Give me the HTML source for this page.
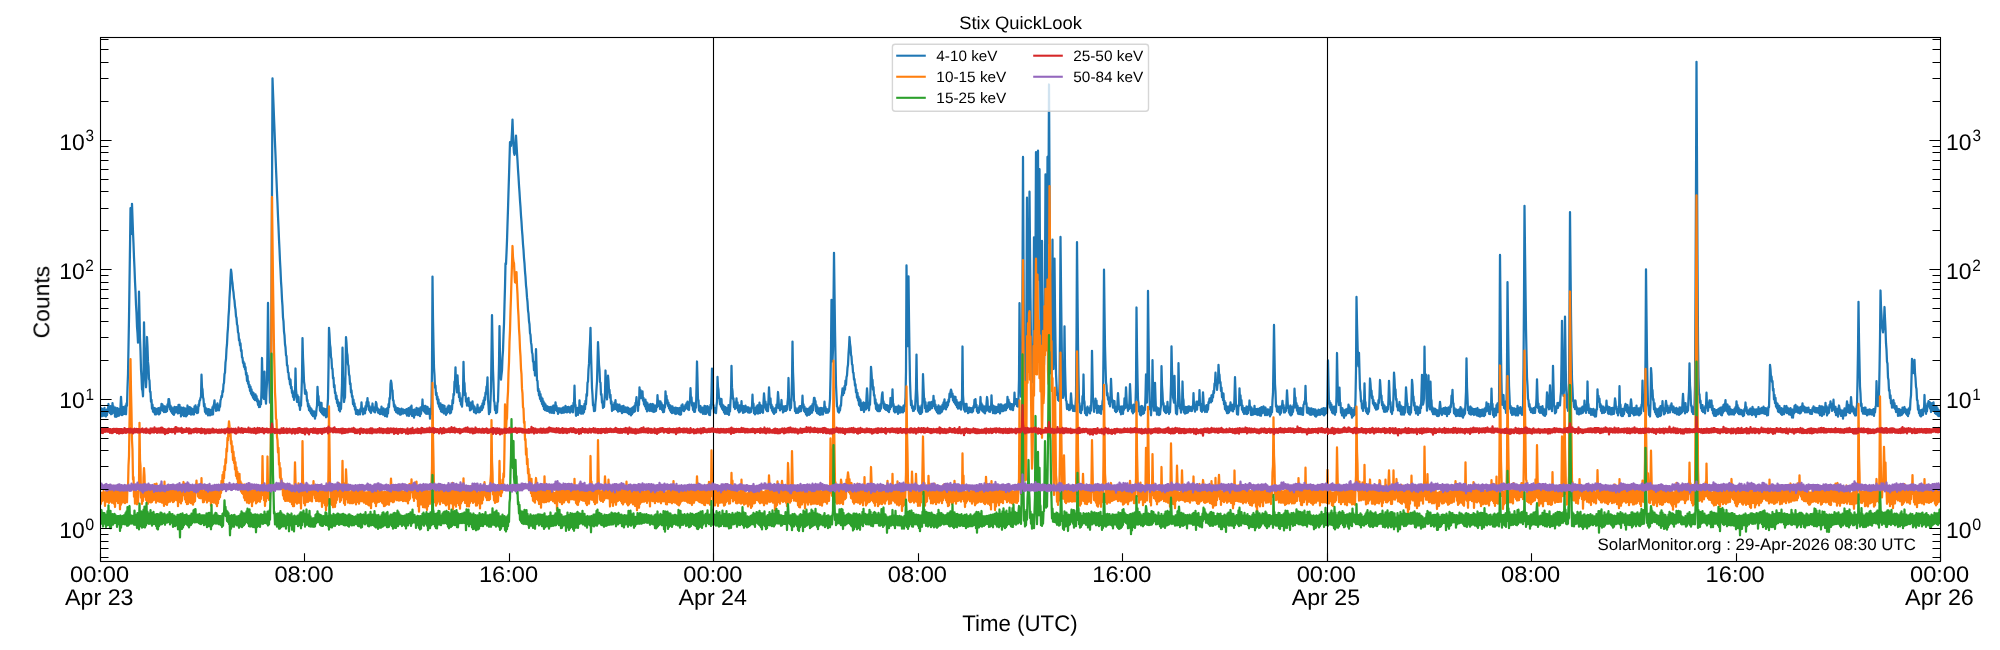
<!DOCTYPE html>
<html lang="en"><head><meta charset="utf-8"><title>Stix QuickLook</title>
<style>
html,body{margin:0;padding:0;background:#fff;}
body{width:2000px;height:650px;overflow:hidden;font-family:"Liberation Sans",sans-serif;}
svg{display:block;}
</style></head><body>
<svg width="2000" height="650" viewBox="0 0 2000 650" font-family="'Liberation Sans', sans-serif" fill="#000">
<rect width="2000" height="650" fill="#fff"/>
<defs><clipPath id="ax"><rect x="100.5" y="37.5" width="1840.0" height="524.0"/></clipPath></defs>
<g clip-path="url(#ax)" fill="none" stroke-width="2.25" stroke-linejoin="round" stroke-linecap="butt">
<path d="M100.5 408.9L101 416.3L101.5 408.4L102 416.1L102.5 409.1L103 415.7L103.5 409.3L104 415.7L104.5 407.9L105 415.8L105.5 409.9L106 416.5L106.5 409.9L107 415.1L107.5 408.9L108 409L108.5 404L109 411.7L109.5 407.7L110 413.1L110.5 406.2L111 414.3L111.5 406.4L112 413.8L112.5 403.1L113 408.8L113.5 406.3L114 412.9L114.5 407.6L115 416.7L115.5 407.6L116 416.8L116.5 409.6L117 416.1L117.5 408.1L118 416L118.5 409.8L119 415.6L119.5 409L120 414.6L120.5 406.3L121 396.8L121.5 405.1L122 415.2L122.5 408.7L123 414.3L123.5 407L124 414L124.5 407.5L125 413.8L125.5 405.7L126 414.3L126.5 403.5L127 405.7L127.5 387.6L128 374.4L128.5 346.6L129 318.4L129.5 282.4L130 247.2L130.5 208.2L131 234.2L131.5 230L132 203.8L132.5 218L133 232.2L133.5 243.7L134 257.2L134.5 268.2L135 281.5L135.5 291.3L136 304.6L136.5 313L137 326.7L137.5 333.2L138 342.6L138.5 332.2L139 291.7L139.5 314.6L140 338.2L140.5 351.2L141 369.5L141.5 376.9L142 389L142.5 390.7L143 396.3L143.5 375.9L144 322.4L144.5 344.2L145 365.9L145.5 377L146 387.3L146.5 377.1L147 337L147.5 346.8L148 361.9L148.5 366.5L149 378.9L149.5 380.5L150 391.8L150.5 391.9L151 401.8L151.5 399.9L152 408.6L152.5 404.5L153 411.6L153.5 408L154 412.4L154.5 408L155 414.3L155.5 408.6L156 414.3L156.5 409.2L157 413.7L157.5 408.6L158 413.7L158.5 408.2L159 414.5L159.5 408.6L160 413.4L160.5 407.4L161 410.5L161.5 403.8L162 409.9L162.5 404.5L163 410.9L163.5 406.2L164 412.1L164.5 406.3L165 411.9L165.5 406.7L166 412L166.5 406.8L167 411.1L167.5 404.4L168 406.7L168.5 399.1L169 399.2L169.5 402.4L170 409.4L170.5 405.6L171 411.3L171.5 407.2L172 412.9L172.5 409.4L173 414.1L173.5 408.2L174 414.8L174.5 406.8L175 412.6L175.5 407.5L176 412.4L176.5 407.2L177 411.9L177.5 407.7L178 413.5L178.5 404.9L179 412.9L179.5 404.8L180 411.8L180.5 407.3L181 416.5L181.5 407.6L182 414.5L182.5 408.4L183 415L183.5 407.7L184 416.1L184.5 408.3L185 415.3L185.5 408.5L186 416.4L186.5 409.2L187 415.5L187.5 405.5L188 413.5L188.5 407.7L189 413.8L189.5 407.2L190 413.6L190.5 407.7L191 414.6L191.5 408.3L192 413.7L192.5 409.4L193 414.4L193.5 409.2L194 414.5L194.5 406.5L195 408.2L195.5 405.4L196 411.9L196.5 407.2L197 413.1L197.5 408.4L198 412.6L198.5 404.6L199 405.9L199.5 400.8L200 400.5L200.5 397.9L201 396.7L201.5 374.7L202 387.6L202.5 389.4L203 397.2L203.5 399.1L204 406.5L204.5 403.9L205 411.9L205.5 407.5L206 413.6L206.5 408.5L207 413.7L207.5 409.8L208 415.4L208.5 409.2L209 413.9L209.5 409.5L210 415.3L210.5 410.2L211 414.7L211.5 409.7L212 414.6L212.5 407.2L213 414.4L213.5 405.5L214 404.5L214.5 400.3L215 407.8L215.5 404.6L216 410.9L216.5 405.2L217 410.4L217.5 403.3L218 408.5L218.5 405.4L219 410.4L219.5 405.8L220 406.8L220.5 400.3L221 398.8L221.5 395.9L222 397L222.5 391L223 392L223.5 384.3L224 382.8L224.5 374.2L225 372.6L225.5 362.4L226 359.2L226.5 349.1L227 344.2L227.5 333.6L228 327.7L228.5 316.5L229 309.9L229.5 297.6L230 289.4L230.5 277.9L231 269.6L231.5 273.1L232 279.8L232.5 283.2L233 289.3L233.5 292.2L234 298.1L234.5 300.6L235 306.8L235.5 309.5L236 316.3L236.5 317.8L237 324.4L237.5 325.6L238 332.5L238.5 333.1L239 340.3L239.5 339.5L240 345.4L240.5 343.4L241 351L241.5 349.9L242 357.4L242.5 357.5L243 362.8L243.5 361.5L244 366.9L244.5 363.4L245 369.3L245.5 367.2L246 374.7L246.5 372.9L247 381L247.5 375.7L248 383.8L248.5 381.3L249 387.2L249.5 384.9L250 390.9L250.5 386.6L251 393.7L251.5 389.3L252 395.4L252.5 392L253 397.7L253.5 392.9L254 399.2L254.5 395.4L255 400.2L255.5 394.4L256 399.2L256.5 396.2L257 401.4L257.5 399.2L258 404.8L258.5 400.5L259 407.1L259.5 401.7L260 406.8L260.5 401.7L261 404.2L261.5 390.3L262 358L262.5 380L263 396.6L263.5 397.9L264 398.9L264.5 371.7L265 391.9L265.5 397.9L266 403.7L266.5 391.3L267 382.6L267.5 348.1L268 302.9L268.5 339.9L269 372.1L269.5 386.3L270 402.7L270.5 397.7L271 375.3L271.5 293.4L272 189.5L272.5 78.4L273 91.7L273.5 104.2L274 117.5L274.5 129.9L275 143L275.5 155L276 168.2L276.5 180L277 192.7L277.5 203.8L278 216.4L278.5 227.2L279 239.4L279.5 249.5L280 261.1L280.5 270L281 281.3L281.5 288.5L282 299.4L282.5 306L283 317.6L283.5 321.4L284 331.7L284.5 335.3L285 344.3L285.5 347.3L286 355.2L286.5 356.1L287 365.5L287.5 365.4L288 372.5L288.5 372.5L289 379.2L289.5 378.4L290 384.5L290.5 379.7L291 388.2L291.5 386.7L292 392.8L292.5 390.5L293 396.9L293.5 392.3L294 399.9L294.5 396.5L295 396.3L295.5 368.5L296 389.7L296.5 394.3L297 401.9L297.5 395L298 401.3L298.5 396.8L299 405.7L299.5 402.8L300 409.8L300.5 402.9L301 405.6L301.5 392.9L302 376.4L302.5 338.1L303 357.5L303.5 367.7L304 381.3L304.5 384.9L305 393.8L305.5 389.8L306 391.7L306.5 392.2L307 401L307.5 400L308 406.5L308.5 403.8L309 410.2L309.5 406.1L310 411.4L310.5 407.9L311 413.4L311.5 409.2L312 414.9L312.5 410.5L313 416.1L313.5 412L314 416.3L314.5 411.5L315 418.7L315.5 412.7L316 415.7L316.5 408.8L317 405.6L317.5 386.8L318 396.9L318.5 396.2L319 405.2L319.5 402L320 410.8L320.5 405.2L321 412.1L321.5 402.8L322 413.5L322.5 408.2L323 414.5L323.5 408.5L324 415.4L324.5 408.9L325 414.8L325.5 409.4L326 417.3L326.5 409.1L327 416.7L327.5 406.1L328 398.6L328.5 368.5L329 327.8L329.5 334.9L330 344.8L330.5 347.8L331 357.1L331.5 359.1L332 368.7L332.5 368.7L333 378.4L333.5 377.5L334 387.3L334.5 385.1L335 393.2L335.5 392.5L336 399L336.5 395.5L337 403L337.5 399.7L338 406.2L338.5 402L339 410.2L339.5 403L340 411.5L340.5 404.9L341 408.9L341.5 397.1L342 384.9L342.5 347.7L343 375.5L343.5 386.1L344 402L344.5 398.7L345 397.5L345.5 373.1L346 337.1L346.5 343L347 352.5L347.5 355.3L348 364.2L348.5 365.9L349 374.5L349.5 375.9L350 384.1L350.5 383.4L351 392.5L351.5 390.3L352 396.8L352.5 395.9L353 404.2L353.5 399.6L354 406.2L354.5 403.4L355 409.7L355.5 407L356 413.9L356.5 409.5L357 413.8L357.5 410.2L358 414.6L358.5 411L359 413.9L359.5 410.1L360 414.4L360.5 408.7L361 411.3L361.5 402.3L362 410.3L362.5 408.3L363 414.3L363.5 408.8L364 413.4L364.5 408.3L365 413.4L365.5 406.1L366 410L366.5 402.2L367 404.3L367.5 398.1L368 406.2L368.5 402.2L369 410L369.5 406L370 411.6L370.5 407.4L371 413L371.5 407.3L372 408.7L372.5 403.5L373 410.4L373.5 407.4L374 411.7L374.5 407.8L375 412.4L375.5 406.2L376 402L376.5 403.7L377 410.1L377.5 408L378 412.7L378.5 409.4L379 413.1L379.5 410.1L380 414.2L380.5 409.5L381 413.8L381.5 406.6L382 413.2L382.5 408.8L383 414.7L383.5 408.3L384 414.7L384.5 410.3L385 416.2L385.5 409.4L386 415.4L386.5 408.9L387 416.7L387.5 408L388 413.4L388.5 404.2L389 407.2L389.5 398.1L390 398.6L390.5 384.2L391 380.6L391.5 383.2L392 390L392.5 390.4L393 400.3L393.5 400.4L394 406.6L394.5 404.6L395 410.1L395.5 406.4L396 412L396.5 408.6L397 412.6L397.5 408.2L398 413.5L398.5 408.5L399 413.7L399.5 409L400 414.6L400.5 409.7L401 414.5L401.5 408.7L402 413.4L402.5 409.5L403 413.6L403.5 409.5L404 412.9L404.5 410.1L405 413.1L405.5 409.8L406 413.5L406.5 409.2L407 415.7L407.5 409.6L408 414.2L408.5 408.1L409 416L409.5 409.6L410 414.2L410.5 407L411 409.3L411.5 405.7L412 415.9L412.5 409.8L413 414.9L413.5 410.5L414 417.7L414.5 409.5L415 415.2L415.5 409.6L416 414.6L416.5 407.8L417 413.6L417.5 408.5L418 415.1L418.5 408.6L419 414.7L419.5 408.6L420 416.2L420.5 407.4L421 414L421.5 407.3L422 409.3L422.5 399.5L423 410.3L423.5 405.7L424 411.4L424.5 407.3L425 412.7L425.5 405.9L426 413.6L426.5 408.2L427 413.8L427.5 406.8L428 412.9L428.5 408.4L429 414L429.5 409.2L430 418.6L430.5 409.5L431 414.2L431.5 403.6L432 368.7L432.5 276.6L433 318.4L433.5 344.8L434 367.6L434.5 375.2L435 387.6L435.5 385.7L436 395L436.5 392.9L437 399.4L437.5 396.6L438 403.7L438.5 399.4L439 406.7L439.5 403.4L440 408.8L440.5 403.3L441 411.4L441.5 405.1L442 412L442.5 405L443 412.4L443.5 405.6L444 413.5L444.5 405.9L445 413L445.5 408.9L446 414.8L446.5 409.1L447 413.4L447.5 407.1L448 408.8L448.5 405.6L449 411.9L449.5 405.9L450 413.5L450.5 408.3L451 412.6L451.5 406.1L452 409.4L452.5 400.1L453 403.1L453.5 394L454 395L454.5 381.6L455 381.4L455.5 367.3L456 386.6L456.5 386.9L457 392.4L457.5 375.3L458 385.4L458.5 385.5L459 397.1L459.5 392.8L460 401.1L460.5 398.4L461 404.7L461.5 400.5L462 406.7L462.5 397.8L463 393.5L463.5 361.8L464 381.5L464.5 383.3L465 395.3L465.5 393L466 401.6L466.5 398.9L467 405.6L467.5 400.4L468 405.2L468.5 397.8L469 406.3L469.5 402.1L470 410.4L470.5 403.1L471 409.7L471.5 402.7L472 403.7L472.5 401.3L473 408.8L473.5 405.4L474 412.1L474.5 406.5L475 412.5L475.5 408.3L476 413.4L476.5 409.3L477 412.2L477.5 404.7L478 410.3L478.5 408.1L479 412.3L479.5 408.2L480 412L480.5 407.2L481 410.3L481.5 405.9L482 409.8L482.5 403.4L483 407.8L483.5 400.3L484 404.5L484.5 397.3L485 400L485.5 392.7L486 394L486.5 386.7L487 387.1L487.5 377.4L488 399.3L488.5 405.6L489 414.2L489.5 410L490 412.1L490.5 400.7L491 387.7L491.5 353.3L492 315.1L492.5 343.1L493 369.8L493.5 382.9L494 400.9L494.5 402.5L495 410.2L495.5 406.1L496 413.2L496.5 407.3L497 412.5L497.5 402.8L498 401.4L498.5 384.2L499 363.6L499.5 326.1L500 356.9L500.5 371.2L501 379.7L501.5 374.5L502 370.4L502.5 357.4L503 350.6L503.5 335.3L504 323.7L504.5 304.4L505 287L505.5 263.5L506 264.2L506.5 253.1L507 240.6L507.5 224.2L508 209L508.5 191.9L509 176L509.5 158.8L510 142.1L510.5 145.9L511 145.9L511.5 140.1L512 131.5L512.5 119.6L513 133.8L513.5 144.6L514 152.7L514.5 154.8L515 153L515.5 146.1L516 135.6L516.5 144.3L517 153.1L517.5 160.8L518 169.6L518.5 176.8L519 185.4L519.5 192.3L520 200.6L520.5 207.2L521 215.6L521.5 221.9L522 230.3L522.5 236.2L523 244.3L523.5 249.8L524 258.1L524.5 263.3L525 271.7L525.5 276.9L526 285.3L526.5 289.7L527 297.4L527.5 301.8L528 310.3L528.5 313.7L529 321.3L529.5 324.2L530 333.1L530.5 334.8L531 342.4L531.5 345L532 352.4L532.5 353.8L533 361.7L533.5 361.6L534 370.2L534.5 367.2L535 375.5L535.5 368.7L536 349.1L536.5 365.6L537 380.5L537.5 380.7L538 391L538.5 388.9L539 395.3L539.5 391.4L540 398.8L540.5 394.1L541 401.2L541.5 397.3L542 404L542.5 398.5L543 406.2L543.5 401.3L544 409.2L544.5 403.2L545 410.1L545.5 404.4L546 410.4L546.5 406.1L547 410.9L547.5 406.3L548 410.8L548.5 407.1L549 411.5L549.5 407.5L550 412.7L550.5 407L551 411.2L551.5 407.5L552 412.9L552.5 406.4L553 412L553.5 405.5L554 413.2L554.5 405.8L555 410.1L555.5 402.4L556 407.4L556.5 406.1L557 411.1L557.5 408L558 413.9L558.5 408.3L559 412.2L559.5 408.3L560 412.3L560.5 408.7L561 412.5L561.5 409L562 413L562.5 407.9L563 412.6L563.5 407.4L564 412.7L564.5 407.5L565 411.8L565.5 405.8L566 412.1L566.5 407.3L567 412.4L567.5 407.1L568 411.7L568.5 406.8L569 411.8L569.5 407.6L570 412.6L570.5 407.1L571 411.4L571.5 405.9L572 411.6L572.5 405.9L573 412.3L573.5 402.8L574 404.6L574.5 385.7L575 403.9L575.5 405.2L576 415.8L576.5 408.4L577 413.9L577.5 407.9L578 414.8L578.5 409L579 413L579.5 400.4L580 411.5L580.5 407.6L581 413.7L581.5 406.2L582 413.5L582.5 408.6L583 413.7L583.5 406.2L584 412.3L584.5 403.8L585 409.2L585.5 400.9L586 404.3L586.5 394.2L587 395.6L587.5 382.7L588 381.5L588.5 369.3L589 363.9L589.5 350.4L590 342.9L590.5 327.8L591 353.5L591.5 369.8L592 388L592.5 394.9L593 405.4L593.5 404.6L594 411.2L594.5 407.1L595 410.8L595.5 402.5L596 397.8L596.5 388.7L597 381.6L597.5 362.9L598 342.1L598.5 352.3L599 364.6L599.5 369.9L600 382L600.5 382.6L601 394.8L601.5 394.1L602 402.6L602.5 401.3L603 408L603.5 403.2L604 407L604.5 399.2L605 393L605.5 370.5L606 388.3L606.5 391L607 399.5L607.5 390.1L608 375.6L608.5 381.2L609 390.6L609.5 389.9L610 397.8L610.5 394.8L611 403.8L611.5 401.3L612 411L612.5 404.6L613 409.8L613.5 405.3L614 409.5L614.5 402.7L615 407L615.5 400.2L616 409.1L616.5 404.9L617 410.1L617.5 404.3L618 411.7L618.5 405.5L619 410.6L619.5 404.7L620 411.2L620.5 406.5L621 411L621.5 406.3L622 413.1L622.5 406.4L623 407.4L623.5 405.9L624 412.1L624.5 408.5L625 411.8L625.5 407.4L626 412.1L626.5 408.3L627 412.4L627.5 407.5L628 413.1L628.5 408L629 414.2L629.5 409L630 414.2L630.5 408.9L631 415.3L631.5 408.3L632 414.2L632.5 407.6L633 412.6L633.5 406.8L634 411.9L634.5 405.7L635 411.3L635.5 402.9L636 402.5L636.5 397.2L637 404.9L637.5 402.7L638 410.9L638.5 403.2L639 405L639.5 387.4L640 396.2L640.5 390L641 398.1L641.5 392.3L642 397L642.5 391.3L643 400.7L643.5 397.9L644 404.5L644.5 400.7L645 406.3L645.5 399.7L646 409L646.5 402L647 411.4L647.5 403L648 409.5L648.5 405L649 410.5L649.5 405L650 411L650.5 404L651 410.5L651.5 405.5L652 411.2L652.5 404L653 411.6L653.5 404.5L654 412L654.5 406.6L655 411.4L655.5 405.7L656 411L656.5 405.2L657 407.1L657.5 395.2L658 403.9L658.5 400.5L659 406.2L659.5 403.3L660 409L660.5 401.4L661 408.4L661.5 403L662 409.9L662.5 404.9L663 412.2L663.5 405.9L664 412L664.5 405.4L665 407.4L665.5 391.3L666 399.2L666.5 395.8L667 403.4L667.5 400.2L668 405.8L668.5 402.6L669 408.3L669.5 404.8L670 410.5L670.5 405.6L671 412.2L671.5 407.1L672 413.2L672.5 406.3L673 412.7L673.5 408.9L674 412.5L674.5 408L675 413.7L675.5 407.6L676 414L676.5 408L677 413.3L677.5 408.2L678 413.1L678.5 409L679 414.1L679.5 407.9L680 414.7L680.5 408.1L681 414.5L681.5 405.4L682 408.6L682.5 404.4L683 410.4L683.5 406.4L684 411.1L684.5 407.1L685 409.7L685.5 404.9L686 406.2L686.5 403.1L687 408.4L687.5 401.6L688 409.4L688.5 404.4L689 410L689.5 403.5L690 400.5L690.5 388.2L691 400.7L691.5 397.4L692 405.6L692.5 402.5L693 409.9L693.5 403.3L694 411.8L694.5 405.2L695 411.8L695.5 402.7L696 407.7L696.5 386.9L697 361.5L697.5 379.9L698 399.4L698.5 400.3L699 410.5L699.5 405.9L700 411.6L700.5 406L701 412.4L701.5 407.8L702 412.2L702.5 407.7L703 413.9L703.5 408.3L704 413.1L704.5 405.8L705 414L705.5 406.4L706 413.8L706.5 406.9L707 411.9L707.5 406.1L708 412.5L708.5 407.5L709 414.6L709.5 407.1L710 415.1L710.5 404.8L711 408.7L711.5 393.1L712 368.6L712.5 389.1L713 404.5L713.5 405.2L714 412.4L714.5 407.8L715 412.4L715.5 408.9L716 413.1L716.5 405.8L717 401.6L717.5 376.9L718 387L718.5 389.7L719 398.3L719.5 398.2L720 404.4L720.5 402.5L721 406.7L721.5 399L722 408.8L722.5 404.5L723 410.2L723.5 405.5L724 412.3L724.5 406.7L725 413.8L725.5 407.1L726 413.2L726.5 408L727 413.8L727.5 408L728 414L728.5 405.2L729 415L729.5 407.5L730 411.4L730.5 401L731 394.9L731.5 365.8L732 387.4L732.5 391.2L733 399L733.5 398.4L734 407.2L734.5 403.7L735 409L735.5 402.4L736 405L736.5 398.3L737 407.9L737.5 402.3L738 410.5L738.5 405.8L739 412.4L739.5 405.3L740 411.6L740.5 406.6L741 410.5L741.5 401.2L742 409.4L742.5 406.6L743 412.8L743.5 406.1L744 412.3L744.5 406.8L745 412L745.5 405.7L746 411.2L746.5 407.1L747 411.2L747.5 407.3L748 412.4L748.5 407.4L749 412.6L749.5 408.4L750 412.5L750.5 408.6L751 411.9L751.5 407.4L752 406.5L752.5 394.7L753 407.6L753.5 403.7L754 413.1L754.5 407.8L755 414.3L755.5 408.4L756 413.2L756.5 406.3L757 413L757.5 405.4L758 413.7L758.5 405.1L759 410.1L759.5 402.7L760 413.1L760.5 404.9L761 411.4L761.5 405.9L762 412L762.5 406.2L763 412.8L763.5 401.9L764 393.3L764.5 399L765 407.4L765.5 401.7L766 409.8L766.5 404.4L767 411.1L767.5 405.5L768 411.2L768.5 399.5L769 387.4L769.5 396.7L770 404.2L770.5 398.4L771 407.9L771.5 404.7L772 410.7L772.5 406.6L773 412.5L773.5 408.5L774 413.9L774.5 408.8L775 412.6L775.5 408L776 412.2L776.5 404.6L777 408L777.5 401.5L778 392L778.5 398.4L779 408.1L779.5 406.4L780 410.3L780.5 404.6L781 407L781.5 400L782 409.2L782.5 406.9L783 412.5L783.5 406.4L784 411.4L784.5 406.5L785 411L785.5 406.1L786 410.8L786.5 406.5L787 409.7L787.5 402.5L788 398.2L788.5 378L789 398.2L789.5 401.9L790 410.2L790.5 405.7L791 407.9L791.5 396.3L792 380.8L792.5 341.6L793 371.2L793.5 384.1L794 400.7L794.5 402L795 411.2L795.5 407.7L796 413L796.5 409.1L797 412.6L797.5 409.3L798 412.9L798.5 408L799 411.8L799.5 406.3L800 411.3L800.5 406.2L801 411.1L801.5 406.1L802 407.5L802.5 395.7L803 406.7L803.5 404.3L804 411L804.5 406.7L805 412.2L805.5 408.7L806 414.3L806.5 408.6L807 415.6L807.5 409.4L808 414.7L808.5 409L809 414.9L809.5 407.6L810 414.2L810.5 406.6L811 413L811.5 405.8L812 412.7L812.5 404.2L813 410.4L813.5 403.1L814 397.8L814.5 397.9L815 401.1L815.5 401.1L816 411.1L816.5 405.1L817 413L817.5 407.2L818 413.5L818.5 408.4L819 414.1L819.5 408.5L820 414.9L820.5 408L821 414L821.5 408L822 414.5L822.5 408.5L823 414.3L823.5 408.1L824 411.1L824.5 401.7L825 410.2L825.5 407.2L826 412.9L826.5 408.8L827 412.7L827.5 409.4L828 412.6L828.5 409.5L829 411.5L829.5 405.5L830 399L830.5 377.2L831 348.6L831.5 299.8L832 345.4L832.5 361.3L833 349.7L833.5 304.7L834 252.8L834.5 291.6L835 329.8L835.5 357.7L836 384.5L836.5 395.7L837 406.6L837.5 406.9L838 411.6L838.5 408.6L839 412.5L839.5 408.4L840 410.3L840.5 405.4L841 405.8L841.5 396.9L842 394.1L842.5 388.5L843 395.1L843.5 388.5L844 393.1L844.5 386.1L845 389.6L845.5 380.6L846 384.9L846.5 377.1L847 375.4L847.5 367.8L848 364.7L848.5 354.2L849 347.4L849.5 337L850 343.6L850.5 346.8L851 354.9L851.5 356.5L852 364.3L852.5 365L853 372.4L853.5 372.9L854 379.6L854.5 379.1L855 385.7L855.5 384.4L856 392.4L856.5 389.6L857 397.7L857.5 392.8L858 400.5L858.5 396.5L859 404.9L859.5 398.7L860 406.1L860.5 400.2L861 410L861.5 403L862 409.8L862.5 403.4L863 409.5L863.5 402.4L864 412L864.5 403.2L865 409.3L865.5 402.8L866 409.5L866.5 397L867 388.3L867.5 395.8L868 408L868.5 403.2L869 410.3L869.5 402.6L870 404.8L870.5 389.3L871 366.9L871.5 373L872 380.7L872.5 379.8L873 389.6L873.5 387L874 395.6L874.5 395.1L875 403.8L875.5 399.3L876 408.9L876.5 403.1L877 410.4L877.5 404.5L878 411.2L878.5 405.6L879 411.1L879.5 405.5L880 411L880.5 404.2L881 408.7L881.5 400.7L882 394.8L882.5 392.3L883 402.9L883.5 401.4L884 407.8L884.5 403.6L885 409.1L885.5 404.9L886 409.9L886.5 405.1L887 410.1L887.5 405.3L888 411.2L888.5 406.8L889 412.1L889.5 405.6L890 409.2L890.5 398L891 407.1L891.5 402.6L892 405.6L892.5 389.3L893 403.7L893.5 404L894 411.3L894.5 406.3L895 412.5L895.5 407.8L896 411.3L896.5 406.8L897 411.9L897.5 406.9L898 413.9L898.5 405.7L899 412.3L899.5 406.6L900 412.6L900.5 406.8L901 412.2L901.5 408.2L902 412.1L902.5 407.5L903 412.3L903.5 405.6L904 411.1L904.5 405.4L905 406.5L905.5 397.5L906 371.2L906.5 265.4L907 308.3L907.5 339.9L908 346.1L908.5 276.3L909 319L909.5 352L910 381.3L910.5 394.5L911 405.2L911.5 400.7L912 408L912.5 405.6L913 411L913.5 406.9L914 410.7L914.5 406.8L915 409L915.5 399.4L916 388.8L916.5 354.6L917 389L917.5 397.9L918 410.8L918.5 405.8L919 412.7L919.5 407.3L920 414L920.5 407.8L921 413.8L921.5 405.5L922 412.5L922.5 400.6L923 374.2L923.5 386.7L924 398.1L924.5 398.4L925 408.2L925.5 402.2L926 411.7L926.5 405.5L927 411.7L927.5 406.5L928 411.3L928.5 402.7L929 410.1L929.5 402.4L930 409.6L930.5 403.1L931 408.3L931.5 401.9L932 408.1L932.5 402.1L933 405.9L933.5 395.9L934 404.8L934.5 400.4L935 408.6L935.5 404.7L936 410.4L936.5 406.8L937 412.2L937.5 407.1L938 413.3L938.5 405.4L939 413.4L939.5 406.8L940 413.4L940.5 406.7L941 412.5L941.5 406.4L942 411.7L942.5 404.7L943 409.5L943.5 402.5L944 404L944.5 399.4L945 408.6L945.5 403L946 409.4L946.5 402.9L947 407.1L947.5 402L948 405.5L948.5 399.6L949 401.6L949.5 393.7L950 397.1L950.5 391.7L951 389.6L951.5 391.3L952 396.9L952.5 393.6L953 400.3L953.5 396.1L954 402.2L954.5 396.8L955 403.7L955.5 396.8L956 405.1L956.5 399.9L957 407.2L957.5 402.1L958 408.7L958.5 403.3L959 408.2L959.5 402.6L960 408.4L960.5 402.2L961 409.6L961.5 402.9L962 398.6L962.5 346.5L963 394.8L963.5 402.3L964 409.8L964.5 403.5L965 411.7L965.5 405.2L966 410L966.5 403.8L967 411.1L967.5 407.4L968 413.2L968.5 408.2L969 412.3L969.5 407.7L970 411.9L970.5 408.2L971 412.1L971.5 408.5L972 412.3L972.5 407.9L973 411.4L973.5 406.1L974 407.6L974.5 399.9L975 405.2L975.5 399.2L976 407.3L976.5 404.9L977 411.4L977.5 407.9L978 412.9L978.5 407.7L979 412.5L979.5 406L980 408L980.5 397L981 409.4L981.5 403.4L982 410.7L982.5 405.1L983 411.6L983.5 406.3L984 412.5L984.5 406.6L985 413.4L985.5 406.4L986 410.9L986.5 403.5L987 397L987.5 400.4L988 410.4L988.5 406.6L989 411.5L989.5 407.1L990 411.8L990.5 406.4L991 409.7L991.5 395.3L992 406.3L992.5 405.1L993 413.2L993.5 405.9L994 411.7L994.5 406.7L995 413.3L995.5 406.9L996 413.1L996.5 407L997 412.1L997.5 407L998 411.9L998.5 404.3L999 412L999.5 405.6L1000 413.5L1000.5 404.4L1001 410.9L1001.5 404.5L1002 411.1L1002.5 405.6L1003 411.1L1003.5 405.8L1004 410.1L1004.5 404.9L1005 410.5L1005.5 404.4L1006 410.2L1006.5 404.9L1007 408.2L1007.5 396.8L1008 405.3L1008.5 399.5L1009 406.8L1009.5 402.3L1010 409L1010.5 403.9L1011 409.5L1011.5 404.1L1012 409.4L1012.5 404.7L1013 410.1L1013.5 403.9L1014 405.8L1014.5 392.7L1015 404L1015.5 398.8L1016 402.8L1016.5 399.1L1017 406.1L1017.5 400.9L1018 406.6L1018.5 398.6L1019 379.3L1019.5 303.2L1020 349.7L1020.5 377L1021 396.6L1021.5 394.9L1022 376.5L1022.5 283.7L1023 156.9L1023.5 263.6L1024 351.3L1024.5 380.5L1025 391.5L1025.5 385.6L1026 370.3L1026.5 298.8L1027 197.7L1027.5 297.3L1028 367.1L1028.5 360.3L1029 295.6L1029.5 191.7L1030 248.8L1030.5 298.1L1031 342.9L1031.5 365L1032 382.2L1032.5 381.4L1033 376.5L1033.5 327.8L1034 237.3L1034.5 323.9L1035 336.7L1035.5 257.2L1036 152.1L1036.5 256.3L1037 316L1037.5 255.1L1038 150.7L1038.5 253.5L1039 279.7L1039.5 169.2L1040 259.1L1040.5 324L1041 349.9L1041.5 321L1042 240.9L1042.5 321.3L1043 357.8L1043.5 363.2L1044 364.8L1044.5 342.2L1045 276.8L1045.5 174.4L1046 276.5L1046.5 322.6L1047 262.3L1047.5 156.9L1048 243L1048.5 192.1L1049 84.5L1049.5 178.8L1050 269L1050.5 335.9L1051 373.4L1051.5 370.2L1052 330.5L1052.5 239.7L1053 332.1L1053.5 369L1054 344.9L1054.5 258.6L1055 309.8L1055.5 344L1056 373.5L1056.5 384.3L1057 395.3L1057.5 393.5L1058 400L1058.5 397.1L1059 400.8L1059.5 383.9L1060 334.5L1060.5 236.9L1061 286.2L1061.5 327.5L1062 365.2L1062.5 383.1L1063 397.9L1063.5 396L1064 384.1L1064.5 326.3L1065 366.1L1065.5 385.6L1066 400.4L1066.5 401.1L1067 409L1067.5 404.1L1068 409L1068.5 405.2L1069 410.1L1069.5 405.5L1070 409.7L1070.5 402.3L1071 393.3L1071.5 400.5L1072 407.9L1072.5 405L1073 410.9L1073.5 406L1074 410.9L1074.5 407.3L1075 411.1L1075.5 404.7L1076 396.8L1076.5 337.8L1077 242.2L1077.5 295.9L1078 345.1L1078.5 376.2L1079 401.8L1079.5 403.6L1080 412.3L1080.5 406.6L1081 413.2L1081.5 406.5L1082 409.9L1082.5 396.2L1083 402.9L1083.5 374.5L1084 400L1084.5 402.1L1085 413.2L1085.5 408L1086 414.9L1086.5 408.8L1087 415.3L1087.5 406.6L1088 411.4L1088.5 408L1089 412.3L1089.5 408.2L1090 413.3L1090.5 406L1091 410.7L1091.5 394L1092 350.8L1092.5 377.6L1093 400.5L1093.5 401.1L1094 411.8L1094.5 404.4L1095 406.8L1095.5 398.6L1096 408L1096.5 400.6L1097 412.9L1097.5 405.5L1098 411.3L1098.5 406L1099 412.6L1099.5 407.2L1100 412.8L1100.5 406.2L1101 413.8L1101.5 406.6L1102 409.4L1102.5 401.6L1103 399.2L1103.5 352L1104 269.7L1104.5 310.9L1105 346.2L1105.5 365.5L1106 382.2L1106.5 385.4L1107 395.5L1107.5 393L1108 399.6L1108.5 397.3L1109 403.9L1109.5 398.2L1110 406.4L1110.5 397L1111 378.9L1111.5 390.3L1112 401.8L1112.5 400.1L1113 407.6L1113.5 400.9L1114 403.6L1114.5 401.1L1115 411L1115.5 406.7L1116 412.1L1116.5 407.3L1117 411.2L1117.5 402.3L1118 393.1L1118.5 401.1L1119 409.2L1119.5 406.5L1120 412L1120.5 407L1121 414.3L1121.5 406.5L1122 412.2L1122.5 407.5L1123 413.9L1123.5 405.8L1124 409.8L1124.5 398.4L1125 408.1L1125.5 400.1L1126 387.4L1126.5 397.2L1127 407.6L1127.5 405.5L1128 411L1128.5 405.3L1129 409.2L1129.5 399.8L1130 384.1L1130.5 394.5L1131 408.3L1131.5 405.3L1132 411.6L1132.5 407.9L1133 413.3L1133.5 404.6L1134 411.8L1134.5 405.7L1135 411L1135.5 404.4L1136 384.9L1136.5 307.5L1137 350.5L1137.5 377.8L1138 399.6L1138.5 402.9L1139 411.4L1139.5 407L1140 414.6L1140.5 406.8L1141 415.5L1141.5 406L1142 412.7L1142.5 406.4L1143 414L1143.5 407.8L1144 413.1L1144.5 407.9L1145 410L1145.5 395.5L1146 374.5L1146.5 391.6L1147 402.6L1147.5 370.4L1148 290.9L1148.5 333.9L1149 372.5L1149.5 391.3L1150 409.4L1150.5 406.7L1151 415.3L1151.5 407.1L1152 405.4L1152.5 360.2L1153 388.5L1153.5 399.3L1154 410.7L1154.5 404.1L1155 382.9L1155.5 397.6L1156 410.9L1156.5 406.8L1157 414.7L1157.5 408.1L1158 414.3L1158.5 408.4L1159 415.1L1159.5 409.5L1160 414.3L1160.5 409.4L1161 405.8L1161.5 366.2L1162 385.4L1162.5 393.3L1163 404.5L1163.5 403.1L1164 410.8L1164.5 407.1L1165 412.1L1165.5 406.3L1166 413.1L1166.5 407.2L1167 411.9L1167.5 401.9L1168 411.7L1168.5 408.4L1169 413.8L1169.5 407.3L1170 412.3L1170.5 399.6L1171 384.7L1171.5 346.3L1172 369.9L1172.5 381.8L1173 397.4L1173.5 399.5L1174 402.6L1174.5 375.8L1175 398.4L1175.5 402.8L1176 413.4L1176.5 408.1L1177 414.3L1177.5 405.9L1178 406.2L1178.5 363.2L1179 387.3L1179.5 396.8L1180 408.4L1180.5 407.1L1181 412.6L1181.5 407L1182 409.5L1182.5 381.5L1183 398L1183.5 400.3L1184 412.5L1184.5 407.1L1185 413.7L1185.5 406.9L1186 413.1L1186.5 407.5L1187 412.9L1187.5 407L1188 412.3L1188.5 406.5L1189 410.9L1189.5 406.5L1190 410.7L1190.5 407.1L1191 410.8L1191.5 407.8L1192 411L1192.5 406.2L1193 408.5L1193.5 393.2L1194 406.4L1194.5 406L1195 411.6L1195.5 404.9L1196 405.9L1196.5 401.7L1197 409.7L1197.5 402.9L1198 405.2L1198.5 401.2L1199 404.9L1199.5 390.1L1200 404.2L1200.5 403.8L1201 410.8L1201.5 406.4L1202 411.8L1202.5 402.8L1203 392.3L1203.5 400.3L1204 410.2L1204.5 406L1205 412L1205.5 407.3L1206 411.2L1206.5 405.1L1207 412L1207.5 405.6L1208 409.7L1208.5 402.2L1209 403L1209.5 398.7L1210 400.2L1210.5 397.9L1211 402.3L1211.5 395.3L1212 401.2L1212.5 394.6L1213 397.5L1213.5 391L1214 393L1214.5 383.6L1215 383.5L1215.5 372.7L1216 382.9L1216.5 383.1L1217 389.8L1217.5 384.7L1218 382.4L1218.5 364.8L1219 373.6L1219.5 374.7L1220 383L1220.5 381.9L1221 391L1221.5 387.5L1222 397.1L1222.5 393L1223 400.1L1223.5 393.7L1224 404.3L1224.5 400.9L1225 409.1L1225.5 402.6L1226 410.7L1226.5 405.9L1227 413.1L1227.5 408.1L1228 413.1L1228.5 406.9L1229 412.5L1229.5 405.6L1230 408.9L1230.5 402.3L1231 410.4L1231.5 404.5L1232 410.7L1232.5 406.5L1233 411.4L1233.5 404.3L1234 409.2L1234.5 395.7L1235 377.2L1235.5 391.4L1236 406.2L1236.5 405.4L1237 414.2L1237.5 407.7L1238 414.7L1238.5 405.4L1239 406L1239.5 388.4L1240 400.3L1240.5 395.3L1241 405.1L1241.5 400.2L1242 409.8L1242.5 405.5L1243 412L1243.5 408.1L1244 413.9L1244.5 408.2L1245 413.6L1245.5 409L1246 413.5L1246.5 406.5L1247 414.1L1247.5 407.4L1248 413.2L1248.5 406.5L1249 409.8L1249.5 400.5L1250 408.8L1250.5 406.7L1251 414.9L1251.5 407.5L1252 415L1252.5 409.5L1253 414.6L1253.5 409.2L1254 414.1L1254.5 405.8L1255 413.8L1255.5 408.9L1256 414.2L1256.5 409.2L1257 414.7L1257.5 408.8L1258 415L1258.5 409.4L1259 414.4L1259.5 408.3L1260 415.5L1260.5 408L1261 415.8L1261.5 407.1L1262 413.5L1262.5 408.2L1263 412.2L1263.5 406.3L1264 412.9L1264.5 408.3L1265 415.2L1265.5 407.5L1266 414.4L1266.5 409.5L1267 415.2L1267.5 409.3L1268 414.5L1268.5 409.7L1269 414.7L1269.5 409.6L1270 416.4L1270.5 407.1L1271 414.7L1271.5 407.7L1272 412.3L1272.5 400.2L1273 393.2L1273.5 361L1274 324.9L1274.5 355.8L1275 384L1275.5 391.9L1276 406.6L1276.5 405.4L1277 411.4L1277.5 406.4L1278 411.8L1278.5 407.3L1279 412.5L1279.5 406.6L1280 414.7L1280.5 408.2L1281 412.8L1281.5 405.9L1282 406.3L1282.5 400.8L1283 407.8L1283.5 405.2L1284 412.5L1284.5 407.7L1285 412.4L1285.5 408.4L1286 411L1286.5 402.4L1287 390.3L1287.5 398.7L1288 408L1288.5 406.4L1289 412.6L1289.5 408.3L1290 414.6L1290.5 405.5L1291 415.5L1291.5 409.7L1292 414.3L1292.5 407L1293 412L1293.5 405.2L1294 407.8L1294.5 388.7L1295 399.3L1295.5 397.6L1296 407.6L1296.5 403.2L1297 410.7L1297.5 405.6L1298 413.6L1298.5 407.7L1299 414L1299.5 409.3L1300 414.2L1300.5 407.8L1301 414.1L1301.5 409L1302 414.5L1302.5 408.2L1303 414.9L1303.5 404.8L1304 404.1L1304.5 401.3L1305 403.7L1305.5 385.9L1306 401.9L1306.5 403.3L1307 412.6L1307.5 407.5L1308 413.1L1308.5 407.9L1309 413.6L1309.5 408.6L1310 414.6L1310.5 408.7L1311 414.9L1311.5 408.4L1312 413.7L1312.5 409.9L1313 414.4L1313.5 409.2L1314 413.8L1314.5 409.7L1315 416L1315.5 409.5L1316 416.7L1316.5 410.6L1317 415.5L1317.5 410.8L1318 415L1318.5 409.7L1319 414.3L1319.5 410.2L1320 414.9L1320.5 409.9L1321 414.1L1321.5 408.8L1322 413.3L1322.5 409L1323 414.4L1323.5 408.2L1324 415.3L1324.5 408.6L1325 414.3L1325.5 408.5L1326 413L1326.5 408.1L1327 413.1L1327.5 398.5L1328 360.4L1328.5 384.1L1329 403.4L1329.5 400.9L1330 407.6L1330.5 402.8L1331 409.9L1331.5 404.7L1332 412.5L1332.5 407.2L1333 413.4L1333.5 406.8L1334 413.5L1334.5 406.6L1335 414.8L1335.5 406.6L1336 412.1L1336.5 395.5L1337 353L1337.5 379.2L1338 400.3L1338.5 401.1L1339 405L1339.5 387.6L1340 403.7L1340.5 402.8L1341 412.8L1341.5 407.8L1342 415.4L1342.5 408.4L1343 415.7L1343.5 410L1344 417.8L1344.5 411.2L1345 415.6L1345.5 409.6L1346 415.3L1346.5 409.5L1347 413.3L1347.5 408.6L1348 413.1L1348.5 404.6L1349 410.3L1349.5 406.4L1350 413L1350.5 408.4L1351 414.3L1351.5 408.1L1352 417.7L1352.5 410L1353 416.1L1353.5 409.9L1354 415.3L1354.5 407.8L1355 414.5L1355.5 398.1L1356 370.2L1356.5 296.9L1357 323.1L1357.5 342L1358 362.8L1358.5 366.4L1359 352.9L1359.5 371.7L1360 388.6L1360.5 392.1L1361 401.5L1361.5 400.3L1362 408.5L1362.5 404.2L1363 410.8L1363.5 403.7L1364 407.7L1364.5 383.4L1365 401.1L1365.5 402.5L1366 411.5L1366.5 407.9L1367 413.2L1367.5 410L1368 414L1368.5 409.2L1369 411.7L1369.5 398.4L1370 378.5L1370.5 383.5L1371 391.7L1371.5 390.6L1372 398.3L1372.5 396.4L1373 403.7L1373.5 400.2L1374 405.5L1374.5 402.8L1375 407.9L1375.5 403.4L1376 409.7L1376.5 405L1377 409.4L1377.5 404.9L1378 408.6L1378.5 400.1L1379 402.9L1379.5 394.9L1380 380L1380.5 387.1L1381 397.3L1381.5 395.6L1382 405.2L1382.5 401.9L1383 408.6L1383.5 404.4L1384 411.6L1384.5 405.6L1385 411.8L1385.5 407.7L1386 411.4L1386.5 407.4L1387 411.4L1387.5 406.9L1388 409.5L1388.5 398.8L1389 380.8L1389.5 391.8L1390 404L1390.5 402.2L1391 412L1391.5 407.5L1392 414L1392.5 407.3L1393 410.4L1393.5 395.2L1394 372.7L1394.5 379.3L1395 390.3L1395.5 389.3L1396 399.8L1396.5 398.7L1397 406.8L1397.5 404.5L1398 410.4L1398.5 404.9L1399 407L1399.5 402L1400 411.1L1400.5 405.4L1401 414.4L1401.5 406.4L1402 414.6L1402.5 408.7L1403 413.7L1403.5 407.1L1404 414.6L1404.5 409.3L1405 412.6L1405.5 402.2L1406 387.3L1406.5 394.8L1407 402.5L1407.5 403.7L1408 412.4L1408.5 406.9L1409 414L1409.5 409.6L1410 414.7L1410.5 407L1411 412.6L1411.5 398.2L1412 379.8L1412.5 384.9L1413 395.8L1413.5 396.6L1414 405.7L1414.5 402.6L1415 410.2L1415.5 406.5L1416 413.5L1416.5 406.6L1417 412.5L1417.5 406.8L1418 414.9L1418.5 407.6L1419 413L1419.5 408L1420 413L1420.5 405.2L1421 408.1L1421.5 391.9L1422 374.8L1422.5 390.2L1423 404.6L1423.5 402.4L1424 398.8L1424.5 346.7L1425 381.2L1425.5 386.8L1426 374.6L1426.5 395.3L1427 410.6L1427.5 405.3L1428 406.5L1428.5 375.3L1429 402.3L1429.5 405.9L1430 409.4L1430.5 381.7L1431 398.7L1431.5 400.5L1432 411.6L1432.5 407.4L1433 414.1L1433.5 409L1434 414.2L1434.5 408.6L1435 414.1L1435.5 409L1436 414.5L1436.5 410.1L1437 415.8L1437.5 410.4L1438 416.2L1438.5 411.1L1439 415.7L1439.5 407.6L1440 401.8L1440.5 406.5L1441 413.3L1441.5 409.6L1442 415L1442.5 408.9L1443 413.2L1443.5 408.2L1444 413.3L1444.5 408.4L1445 413.8L1445.5 407.5L1446 412.8L1446.5 408.1L1447 416.2L1447.5 409.1L1448 413.9L1448.5 407.3L1449 413.9L1449.5 408.3L1450 412.2L1450.5 405.4L1451 407L1451.5 395.7L1452 398.8L1452.5 389.8L1453 403L1453.5 403.2L1454 413.3L1454.5 408.2L1455 414.3L1455.5 409.9L1456 416.2L1456.5 409.5L1457 415.8L1457.5 410.3L1458 415.2L1458.5 409.8L1459 415.9L1459.5 409.2L1460 416.1L1460.5 407.1L1461 414.9L1461.5 408.3L1462 416.4L1462.5 410.8L1463 417.7L1463.5 410.1L1464 415.5L1464.5 408.6L1465 413.8L1465.5 402.6L1466 391.7L1466.5 358.3L1467 386.8L1467.5 397.8L1468 410.2L1468.5 407.2L1469 413.3L1469.5 408L1470 414.2L1470.5 406.5L1471 414.7L1471.5 407.6L1472 414.2L1472.5 408.7L1473 413.1L1473.5 409.1L1474 415L1474.5 409.1L1475 413.1L1475.5 408.8L1476 414.6L1476.5 409.7L1477 415.5L1477.5 408L1478 415.8L1478.5 409.6L1479 416.2L1479.5 409.9L1480 416.7L1480.5 410.3L1481 415.3L1481.5 410L1482 416L1482.5 409.5L1483 415.3L1483.5 409.7L1484 416.2L1484.5 408.6L1485 415.1L1485.5 407.7L1486 411.7L1486.5 402.4L1487 410.5L1487.5 404.8L1488 411L1488.5 403.9L1489 413.8L1489.5 407.2L1490 414.1L1490.5 406.6L1491 409.4L1491.5 388.6L1492 405.2L1492.5 403.8L1493 415L1493.5 408.7L1494 417L1494.5 410.2L1495 414.8L1495.5 408.3L1496 415.5L1496.5 405.1L1497 405.7L1497.5 403.4L1498 412.1L1498.5 405.1L1499 403L1499.5 348.8L1500 254.9L1500.5 307.2L1501 355.5L1501.5 382.9L1502 404.8L1502.5 401.9L1503 402.4L1503.5 395L1504 408L1504.5 401.5L1505 408.8L1505.5 404.1L1506 412.9L1506.5 400.4L1507 368.5L1507.5 282.2L1508 324.7L1508.5 356L1509 385.5L1509.5 396.5L1510 408.7L1510.5 405.8L1511 412.8L1511.5 407.4L1512 414.8L1512.5 408.1L1513 414.5L1513.5 408.6L1514 414.5L1514.5 408.3L1515 414.7L1515.5 409.1L1516 415.5L1516.5 409L1517 414.4L1517.5 405.8L1518 415.5L1518.5 407.7L1519 412.7L1519.5 408.7L1520 413.1L1520.5 407.1L1521 413.5L1521.5 408.7L1522 414.8L1522.5 408.8L1523 407.6L1523.5 367.7L1524 297.2L1524.5 205.8L1525 250.4L1525.5 289.7L1526 328.5L1526.5 353.8L1527 377.3L1527.5 385.7L1528 398.9L1528.5 400.4L1529 406.6L1529.5 404.2L1530 409.9L1530.5 407.6L1531 412.1L1531.5 408.8L1532 412.4L1532.5 409L1533 413.1L1533.5 408.1L1534 412.9L1534.5 407.8L1535 412.8L1535.5 406.6L1536 407.2L1536.5 398.4L1537 379.4L1537.5 394.9L1538 408L1538.5 403.6L1539 411.8L1539.5 407.9L1540 412.8L1540.5 406.9L1541 412.7L1541.5 407.4L1542 413L1542.5 406.2L1543 414.5L1543.5 408.7L1544 415.4L1544.5 409.9L1545 415.9L1545.5 409.4L1546 414.5L1546.5 403.5L1547 392.4L1547.5 396.7L1548 407.3L1548.5 403.1L1549 409.3L1549.5 397.9L1550 385.4L1550.5 396.7L1551 408.8L1551.5 404.6L1552 411.2L1552.5 397.9L1553 365.8L1553.5 385.6L1554 405.3L1554.5 406L1555 413.4L1555.5 408.8L1556 412.3L1556.5 406.3L1557 407.1L1557.5 403L1558 408L1558.5 403.1L1559 404.2L1559.5 402.5L1560 405.4L1560.5 396.7L1561 392.2L1561.5 362.3L1562 320.8L1562.5 362.4L1563 392.5L1563.5 395.9L1564 390.5L1564.5 359.3L1565 316.6L1565.5 351.8L1566 383.6L1566.5 395.2L1567 407.7L1567.5 406L1568 410.8L1568.5 402.6L1569 383.5L1569.5 311.3L1570 212.2L1570.5 266.1L1571 315.8L1571.5 351.6L1572 379.3L1572.5 388.9L1573 401L1573.5 400L1574 407.2L1574.5 403.3L1575 409.1L1575.5 400.5L1576 406.5L1576.5 406.4L1577 413.6L1577.5 408.2L1578 413.8L1578.5 408.9L1579 414.5L1579.5 408.5L1580 413.7L1580.5 408.6L1581 413.7L1581.5 407.7L1582 413.1L1582.5 406.7L1583 412.7L1583.5 407.5L1584 410.8L1584.5 400.6L1585 408.1L1585.5 405L1586 412.9L1586.5 406.9L1587 410L1587.5 381.5L1588 402.7L1588.5 404.5L1589 412.9L1589.5 408.6L1590 413L1590.5 408.9L1591 414.9L1591.5 409.3L1592 413.4L1592.5 409.3L1593 414.8L1593.5 408.9L1594 415.5L1594.5 410.1L1595 416.6L1595.5 410.9L1596 416.3L1596.5 409.1L1597 409.4L1597.5 389.3L1598 400.6L1598.5 395.9L1599 401.6L1599.5 398.7L1600 407.2L1600.5 404L1601 410.9L1601.5 405.7L1602 413.2L1602.5 406.8L1603 412L1603.5 406.7L1604 412.8L1604.5 408L1605 412L1605.5 407.8L1606 409.7L1606.5 400.7L1607 409.7L1607.5 406.1L1608 413.3L1608.5 407.5L1609 414L1609.5 407.2L1610 413.2L1610.5 408.6L1611 414.5L1611.5 408.1L1612 414.4L1612.5 407.9L1613 413.9L1613.5 409.1L1614 413.8L1614.5 405.5L1615 398.4L1615.5 401.6L1616 408.6L1616.5 406.7L1617 413L1617.5 408.8L1618 415.4L1618.5 409.4L1619 412.6L1619.5 386.2L1620 406.6L1620.5 404.7L1621 415.4L1621.5 409.4L1622 416.1L1622.5 408.9L1623 415.8L1623.5 410.5L1624 414.1L1624.5 408.1L1625 405.9L1625.5 403.9L1626 410.2L1626.5 406.2L1627 411.8L1627.5 405L1628 413L1628.5 407.3L1629 416.2L1629.5 408L1630 415.9L1630.5 404.5L1631 399.3L1631.5 403.7L1632 413L1632.5 408.1L1633 413.9L1633.5 408.7L1634 415.3L1634.5 407.8L1635 414.8L1635.5 408.2L1636 414.3L1636.5 405.6L1637 414.7L1637.5 409.4L1638 413.8L1638.5 408.4L1639 415.3L1639.5 408.8L1640 414.7L1640.5 407.5L1641 413.5L1641.5 404.7L1642 404L1642.5 380.6L1643 401.4L1643.5 403.3L1644 411.1L1644.5 405.4L1645 403.2L1645.5 358.6L1646 269.3L1646.5 315.1L1647 358L1647.5 384.1L1648 404.1L1648.5 407.3L1649 415L1649.5 409.7L1650 416.5L1650.5 403.2L1651 368.1L1651.5 374.6L1652 389.5L1652.5 390L1653 399.9L1653.5 399.2L1654 409.4L1654.5 403.1L1655 412.3L1655.5 408.2L1656 414.3L1656.5 409.1L1657 416.4L1657.5 410.1L1658 417L1658.5 408.9L1659 414.6L1659.5 407.6L1660 416.1L1660.5 406.1L1661 415.5L1661.5 407.8L1662 410.4L1662.5 401.2L1663 410L1663.5 408.1L1664 414.4L1664.5 408.9L1665 413.5L1665.5 405.2L1666 400.9L1666.5 404.6L1667 411L1667.5 405.7L1668 413L1668.5 407.5L1669 412.4L1669.5 408.2L1670 412.3L1670.5 405.3L1671 409.7L1671.5 403.3L1672 409.3L1672.5 406.3L1673 412.1L1673.5 406.7L1674 412.3L1674.5 408.2L1675 413.1L1675.5 409.1L1676 413.1L1676.5 407.8L1677 414.4L1677.5 409.2L1678 414.2L1678.5 408.9L1679 414.9L1679.5 407.4L1680 414.2L1680.5 408L1681 413.3L1681.5 407.5L1682 412.5L1682.5 402.5L1683 393.9L1683.5 402.1L1684 411L1684.5 407.2L1685 413.4L1685.5 403.2L1686 410.6L1686.5 407.1L1687 412.2L1687.5 408.1L1688 410.6L1688.5 398.4L1689 390.4L1689.5 363.3L1690 385.4L1690.5 392.2L1691 405.8L1691.5 405.4L1692 411.8L1692.5 407.2L1693 413.9L1693.5 408.5L1694 414.1L1694.5 405.9L1695 385.8L1695.5 295.4L1696 182.9L1696.5 61.8L1697 164.1L1697.5 259.9L1698 341.2L1698.5 377.5L1699 394.6L1699.5 394.2L1700 402.7L1700.5 400.7L1701 408.3L1701.5 404.9L1702 410.8L1702.5 405.1L1703 412L1703.5 407.7L1704 412.1L1704.5 407.5L1705 413.4L1705.5 405.9L1706 407.7L1706.5 392.7L1707 405.8L1707.5 404.6L1708 411L1708.5 403.5L1709 403.3L1709.5 400.4L1710 407.1L1710.5 401.3L1711 404.1L1711.5 400.5L1712 410L1712.5 405.6L1713 413.5L1713.5 408.8L1714 415.6L1714.5 409.2L1715 415.9L1715.5 410.9L1716 416L1716.5 410.1L1717 414.5L1717.5 410L1718 414.5L1718.5 409L1719 413.5L1719.5 408.3L1720 413.6L1720.5 407.7L1721 414.9L1721.5 408.5L1722 415.3L1722.5 406.7L1723 412.8L1723.5 404.9L1724 411.1L1724.5 404.1L1725 405.2L1725.5 400.1L1726 410.6L1726.5 404.3L1727 411.5L1727.5 404.5L1728 413.6L1728.5 406.4L1729 414.6L1729.5 406.6L1730 414.4L1730.5 408.9L1731 414.1L1731.5 410L1732 414.4L1732.5 410L1733 414.2L1733.5 410.1L1734 414.7L1734.5 408.7L1735 413.1L1735.5 407.2L1736 411.7L1736.5 401.4L1737 408.2L1737.5 405.2L1738 413.1L1738.5 407.7L1739 414.2L1739.5 409.1L1740 414.2L1740.5 410.1L1741 414L1741.5 410L1742 414.7L1742.5 410.8L1743 416.1L1743.5 410.5L1744 415.4L1744.5 408.9L1745 409.6L1745.5 402.5L1746 410.6L1746.5 407L1747 413.1L1747.5 410.4L1748 414.3L1748.5 410.5L1749 414.4L1749.5 409.4L1750 414.1L1750.5 408.5L1751 413.8L1751.5 408.8L1752 415.2L1752.5 406.9L1753 414L1753.5 408.7L1754 414.3L1754.5 409.5L1755 414.9L1755.5 409.7L1756 416.8L1756.5 409.3L1757 414.1L1757.5 409.5L1758 413.8L1758.5 407.2L1759 414.1L1759.5 408.9L1760 413.6L1760.5 409L1761 413.1L1761.5 407.9L1762 413L1762.5 408.2L1763 413.1L1763.5 406.7L1764 413.5L1764.5 407.8L1765 413.9L1765.5 408.4L1766 413.8L1766.5 408.4L1767 415.5L1767.5 409.3L1768 415.1L1768.5 406.8L1769 407.2L1769.5 388.6L1770 364.9L1770.5 369.4L1771 377.6L1771.5 376.6L1772 381.9L1772.5 380.9L1773 390.5L1773.5 388.9L1774 399.4L1774.5 394.9L1775 403.2L1775.5 397.9L1776 406.6L1776.5 402.5L1777 408.4L1777.5 403.6L1778 411.5L1778.5 405.4L1779 412.1L1779.5 406.2L1780 412.6L1780.5 408.6L1781 414L1781.5 408.2L1782 414.9L1782.5 409.9L1783 414.1L1783.5 408.6L1784 414.2L1784.5 406L1785 412.3L1785.5 407.2L1786 411.9L1786.5 406L1787 413.2L1787.5 407.7L1788 412.9L1788.5 408.5L1789 414.3L1789.5 409.8L1790 414.7L1790.5 408.2L1791 415L1791.5 409.3L1792 417.5L1792.5 409.7L1793 417.6L1793.5 409.9L1794 413.4L1794.5 406L1795 410.2L1795.5 404.9L1796 412L1796.5 406.8L1797 411.5L1797.5 406.5L1798 412.7L1798.5 407.6L1799 412.9L1799.5 407.6L1800 413.5L1800.5 407.1L1801 412.7L1801.5 406.4L1802 409.2L1802.5 403.3L1803 410.6L1803.5 406L1804 410.8L1804.5 406.9L1805 412.3L1805.5 407.8L1806 412L1806.5 407.8L1807 412.3L1807.5 408L1808 409.6L1808.5 407.6L1809 412.1L1809.5 409.8L1810 413.7L1810.5 410.1L1811 413.9L1811.5 410.5L1812 413.9L1812.5 408.2L1813 409.7L1813.5 406.3L1814 411.2L1814.5 407.6L1815 412L1815.5 407.9L1816 412.3L1816.5 408.2L1817 412.4L1817.5 408.4L1818 412.6L1818.5 407.9L1819 413.4L1819.5 405.8L1820 415.3L1820.5 407.1L1821 414.1L1821.5 406.4L1822 416L1822.5 406.7L1823 413.6L1823.5 407.3L1824 414.5L1824.5 407.4L1825 411.8L1825.5 402.8L1826 411.4L1826.5 406.2L1827 415.5L1827.5 407.4L1828 413.7L1828.5 407.3L1829 412.8L1829.5 404.9L1830 406.4L1830.5 401.4L1831 407.5L1831.5 403.5L1832 410.8L1832.5 405.5L1833 407.5L1833.5 399.7L1834 409.6L1834.5 406.7L1835 412.1L1835.5 406.8L1836 415.1L1836.5 410L1837 414.3L1837.5 409L1838 416.7L1838.5 409.4L1839 405.5L1839.5 408.3L1840 413.6L1840.5 409.6L1841 415.9L1841.5 411L1842 415.8L1842.5 410.7L1843 418.7L1843.5 410.4L1844 415.3L1844.5 408.3L1845 415.5L1845.5 409.8L1846 415.3L1846.5 406.9L1847 401.4L1847.5 404.6L1848 411.9L1848.5 405L1849 412.7L1849.5 407L1850 413.1L1850.5 406.2L1851 397.2L1851.5 403.2L1852 411.4L1852.5 406.3L1853 408.8L1853.5 407.5L1854 413.7L1854.5 409.1L1855 415.4L1855.5 409.5L1856 415.5L1856.5 407.8L1857 405L1857.5 381.3L1858 350.7L1858.5 301.8L1859 339.2L1859.5 362.5L1860 386.5L1860.5 393.6L1861 405.9L1861.5 403.7L1862 411.4L1862.5 407.8L1863 413.6L1863.5 408.1L1864 413.7L1864.5 407.6L1865 413.8L1865.5 407.7L1866 413.9L1866.5 409.8L1867 415.3L1867.5 409.8L1868 413.7L1868.5 409.8L1869 414.5L1869.5 409.4L1870 414.2L1870.5 409.9L1871 414.2L1871.5 410.6L1872 414.7L1872.5 410L1873 414.4L1873.5 409.2L1874 415.9L1874.5 409L1875 412.5L1875.5 406.9L1876 405.6L1876.5 381.2L1877 398.7L1877.5 401.6L1878 406.2L1878.5 400L1879 394.4L1879.5 370.1L1880 339.1L1880.5 290.5L1881 306.7L1881.5 315.3L1882 326.3L1882.5 328.8L1883 332.3L1883.5 325.9L1884 321.2L1884.5 307L1885 318.7L1885.5 328.8L1886 343.2L1886.5 349.6L1887 361.7L1887.5 363.6L1888 377.6L1888.5 379.9L1889 390.7L1889.5 390L1890 398.2L1890.5 395.3L1891 403.4L1891.5 400.5L1892 407.6L1892.5 402.4L1893 407.3L1893.5 400L1894 407.6L1894.5 403L1895 408.8L1895.5 406.2L1896 412L1896.5 406.1L1897 411.9L1897.5 408.5L1898 415.8L1898.5 409.2L1899 413.9L1899.5 409.2L1900 415.6L1900.5 410L1901 415.1L1901.5 410L1902 414.6L1902.5 407.7L1903 413.4L1903.5 408.2L1904 411.8L1904.5 407L1905 412.1L1905.5 408.9L1906 413.6L1906.5 410.5L1907 414.9L1907.5 409.8L1908 416.2L1908.5 408.7L1909 413.6L1909.5 407.6L1910 409.6L1910.5 399.6L1911 395.5L1911.5 378.1L1912 358.9L1912.5 365L1913 373.1L1913.5 368.8L1914 369.1L1914.5 359.9L1915 373.2L1915.5 378L1916 386.8L1916.5 389.1L1917 399.9L1917.5 400.4L1918 409.7L1918.5 405.3L1919 413.3L1919.5 410L1920 415.7L1920.5 410.8L1921 416.5L1921.5 409.8L1922 415.5L1922.5 410.3L1923 414.9L1923.5 408.4L1924 411.1L1924.5 395L1925 409.3L1925.5 405.6L1926 413.8L1926.5 408.3L1927 411.3L1927.5 403.4L1928 406.4L1928.5 401.1L1929 405L1929.5 401.9L1930 408.5L1930.5 402.8L1931 412L1931.5 405.2L1932 410.5L1932.5 403.1L1933 407L1933.5 402.3L1934 411L1934.5 406.2L1935 413.2L1935.5 407.4L1936 413.8L1936.5 406.6L1937 414.5L1937.5 408L1938 415.6L1938.5 409.8L1939 416.1L1939.5 410.9L1940 415.8L1940.5 411.1" stroke="#1f77b4"/>
<path d="M100.5 491.5L101 503.8L101.5 492.8L102 501.1L102.5 494.1L103 500.2L103.5 491.1L104 500.4L104.5 492.3L105 505.9L105.5 492.5L106 501.9L106.5 487.5L107 500.3L107.5 490.2L108 502L108.5 485.3L109 503L109.5 489.2L110 501.6L110.5 486.3L111 500.9L111.5 485.9L112 502.8L112.5 490.1L113 501.4L113.5 485.9L114 503.7L114.5 490.2L115 507L115.5 491.9L116 500.9L116.5 489.5L117 500.5L117.5 491.9L118 503L118.5 485.1L119 503.2L119.5 486.3L120 509.3L120.5 490.7L121 504.7L121.5 491.9L122 501.8L122.5 490.5L123 502.5L123.5 490.8L124 501.6L124.5 486L125 503.2L125.5 488L126 499.8L126.5 488.3L127 502.3L127.5 485.1L128 488.5L128.5 465.5L129 456.2L129.5 422.6L130 399.1L130.5 359.1L131 390.7L131.5 411.7L132 440.3L132.5 449.8L133 479.5L133.5 477L134 496.7L134.5 487.3L135 503.6L135.5 489.9L136 503.1L136.5 491.6L137 504.3L137.5 492.7L138 502.9L138.5 491.1L139 484.8L139.5 422.8L140 460.1L140.5 466L141 497.7L141.5 484.6L142 503.9L142.5 487.4L143 501.1L143.5 477.5L144 468.1L144.5 475.9L145 496.6L145.5 485.9L146 499.9L146.5 489L147 501.4L147.5 487.4L148 503.8L148.5 487.1L149 502.1L149.5 488.2L150 500.9L150.5 491.6L151 502.5L151.5 487L152 502L152.5 491.3L153 500.5L153.5 486.3L154 498.6L154.5 484.2L155 499.9L155.5 486.3L156 502.7L156.5 483.6L157 501.2L157.5 489.1L158 500.7L158.5 490L159 501.5L159.5 490.2L160 501.9L160.5 487.3L161 500.2L161.5 487.3L162 502.7L162.5 490.2L163 501.1L163.5 489.5L164 505.9L164.5 481.7L165 504.2L165.5 487.6L166 500.1L166.5 487.7L167 504.9L167.5 486.4L168 502.4L168.5 490.7L169 498.9L169.5 489.4L170 501.8L170.5 485.1L171 500L171.5 485.2L172 500.7L172.5 485.2L173 502.1L173.5 486.8L174 501.4L174.5 486.8L175 498.9L175.5 489.2L176 499.9L176.5 489.7L177 500.4L177.5 489.7L178 506.2L178.5 492.5L179 502.2L179.5 491.9L180 501.7L180.5 489.4L181 503.4L181.5 489.4L182 500.9L182.5 486.4L183 495.1L183.5 482L184 495L184.5 483.7L185 499.4L185.5 489.8L186 502.2L186.5 487.2L187 504.1L187.5 484.9L188 503.9L188.5 492L189 501.2L189.5 488.9L190 502.3L190.5 491.7L191 503.2L191.5 490.4L192 503.4L192.5 487.9L193 504.6L193.5 491.4L194 502.2L194.5 490.8L195 501.2L195.5 486.9L196 488.5L196.5 480.6L197 492.1L197.5 484.9L198 496.5L198.5 484.7L199 497.8L199.5 487.4L200 498.1L200.5 490.8L201 498.1L201.5 478.2L202 497.8L202.5 491.2L203 502.3L203.5 491.9L204 502L204.5 489.9L205 499.4L205.5 485.7L206 499.6L206.5 485.8L207 502.5L207.5 489.6L208 500.1L208.5 486.1L209 500.8L209.5 490.4L210 500.6L210.5 487.2L211 505.7L211.5 489.5L212 502.3L212.5 490L213 501.9L213.5 489.2L214 502.6L214.5 488.1L215 500.6L215.5 489.4L216 503.8L216.5 489L217 506.1L217.5 488.1L218 503.1L218.5 487.2L219 499.1L219.5 487.6L220 497.3L220.5 486.2L221 493L221.5 480.8L222 490.2L222.5 475L223 488.5L223.5 471.8L224 478.2L224.5 466.1L225 470.3L225.5 459.1L226 463L226.5 448.7L227 451.4L227.5 437.8L228 440.1L228.5 428.1L229 421.3L229.5 425.8L230 435.9L230.5 433.1L231 443.9L231.5 441.1L232 452.2L232.5 446.1L233 460L233.5 451.7L234 463L234.5 457.5L235 469.5L235.5 462.2L236 475.9L236.5 467.3L237 478.7L237.5 471.8L238 483.8L238.5 475L239 485.5L239.5 473.9L240 488.6L240.5 481.4L241 491.4L241.5 483.3L242 493L242.5 485.4L243 494L243.5 485.1L244 497.8L244.5 484.5L245 500.3L245.5 485.8L246 500.2L246.5 489.6L247 502.6L247.5 491L248 500.3L248.5 489.2L249 503.3L249.5 492.1L250 501.8L250.5 490.8L251 501.5L251.5 490.8L252 506.2L252.5 491.5L253 501.7L253.5 486.7L254 500.2L254.5 489.7L255 499.3L255.5 486.9L256 503.4L256.5 490.3L257 502.3L257.5 488.9L258 501.3L258.5 490.4L259 500.2L259.5 489.8L260 501.8L260.5 490.3L261 498.9L261.5 485.8L262 494.9L262.5 456.1L263 487.1L263.5 487.5L264 500.2L264.5 490.3L265 506L265.5 489.7L266 501.4L266.5 491.4L267 498.1L267.5 456.5L268 488.8L268.5 487.9L269 499.9L269.5 489.7L270 499.5L270.5 470.3L271 410.2L271.5 305.7L272 197L272.5 239.4L273 281.5L273.5 315L274 349.1L274.5 369.5L275 392.2L275.5 402L276 418.7L276.5 419.8L277 437L277.5 440.1L278 452.5L278.5 447.9L279 464.6L279.5 462.9L280 477.8L280.5 468.2L281 483.8L281.5 478.5L282 489.3L282.5 482.5L283 495.5L283.5 485.8L284 499L284.5 486.8L285 500.8L285.5 486.7L286 500.9L286.5 489L287 500.4L287.5 489.3L288 500.9L288.5 486.4L289 499.4L289.5 484.9L290 501.8L290.5 489L291 499.7L291.5 489.3L292 504.2L292.5 489.2L293 506.1L293.5 491.3L294 506.2L294.5 486.3L295 462.3L295.5 480.3L296 502.3L296.5 489.9L297 503.6L297.5 490.9L298 502.2L298.5 483.3L299 502.8L299.5 490.7L300 501.5L300.5 489.1L301 508.5L301.5 486.5L302 495.6L302.5 441.2L303 481.5L303.5 484L304 503.3L304.5 487.3L305 505.4L305.5 488.4L306 502.2L306.5 490.9L307 500.8L307.5 491.2L308 502L308.5 491.1L309 500.6L309.5 489.9L310 500.6L310.5 491.1L311 500.7L311.5 486.8L312 501.4L312.5 488.5L313 494.8L313.5 481.2L314 494.5L314.5 488.3L315 498.1L315.5 490.8L316 501L316.5 491.2L317 500.9L317.5 491L318 499.8L318.5 490.1L319 501.4L319.5 490.9L320 500.3L320.5 491.7L321 501.3L321.5 491.9L322 506.9L322.5 489.1L323 502.9L323.5 492.3L324 501.9L324.5 489.1L325 505.1L325.5 492.5L326 510.3L326.5 491.7L327 505.6L327.5 491.9L328 503.7L328.5 469.2L329 406.4L329.5 447L330 484.3L330.5 484.6L331 503.9L331.5 488.3L332 505L332.5 489.2L333 507.3L333.5 489.4L334 505.6L334.5 489.2L335 507L335.5 490.3L336 503L336.5 485.2L337 500L337.5 486.6L338 492L338.5 482.9L339 496.5L339.5 485.1L340 502L340.5 488.7L341 500.5L341.5 489.3L342 497.2L342.5 460.8L343 491L343.5 483.2L344 503.3L344.5 487.7L345 505L345.5 488.7L346 469.3L346.5 479.7L347 499.2L347.5 489.8L348 502.7L348.5 490L349 501.2L349.5 492.1L350 503.3L350.5 492.4L351 502.1L351.5 490.9L352 503.3L352.5 490.5L353 503.1L353.5 488.9L354 502.5L354.5 489.4L355 500.9L355.5 487.9L356 504.4L356.5 488L357 501.6L357.5 491.6L358 501.9L358.5 492.3L359 503.6L359.5 491.2L360 500L360.5 491.5L361 501.1L361.5 490.6L362 501.2L362.5 489.6L363 501.4L363.5 487.2L364 502.7L364.5 492.6L365 501.9L365.5 492.5L366 503.9L366.5 492.5L367 503.2L367.5 492.3L368 504.7L368.5 490.8L369 505.4L369.5 491.1L370 504.6L370.5 491.4L371 508.1L371.5 491.4L372 501.9L372.5 487.8L373 501.4L373.5 487.9L374 501.2L374.5 488.6L375 503L375.5 490.9L376 506.2L376.5 489.6L377 502.6L377.5 487.3L378 501.2L378.5 491.3L379 502L379.5 491.7L380 500.5L380.5 491.9L381 501.2L381.5 490.2L382 502.7L382.5 492.2L383 503.5L383.5 492.5L384 506.2L384.5 491.8L385 505.8L385.5 492.1L386 504.8L386.5 492.3L387 504.3L387.5 491.4L388 503.5L388.5 493L389 504.8L389.5 491.3L390 501.5L390.5 488.7L391 478.6L391.5 488.4L392 501.4L392.5 489.1L393 502.3L393.5 490.1L394 501.7L394.5 489.8L395 499.7L395.5 488.5L396 498.6L396.5 487.5L397 500.3L397.5 489L398 498.8L398.5 487.3L399 500.7L399.5 488.6L400 500.2L400.5 489.2L401 500.1L401.5 490.7L402 499.1L402.5 491.5L403 501.1L403.5 491.6L404 500.9L404.5 492L405 500.4L405.5 492.2L406 501.1L406.5 491.6L407 501.1L407.5 489.2L408 503.4L408.5 488.4L409 500.2L409.5 484L410 498.7L410.5 486.1L411 492.2L411.5 479.4L412 492.2L412.5 484.9L413 497.5L413.5 486L414 500.9L414.5 488.1L415 498L415.5 482.3L416 493.6L416.5 481.6L417 499L417.5 487.5L418 506.2L418.5 489.3L419 511.7L419.5 490.1L420 503.6L420.5 490.9L421 504.4L421.5 491.5L422 503.7L422.5 489.8L423 507.2L423.5 490.7L424 507.1L424.5 487.9L425 507.4L425.5 489.1L426 503.3L426.5 489.8L427 510L427.5 489L428 506.3L428.5 491.6L429 502.6L429.5 491.6L430 503.8L430.5 486.9L431 502.1L431.5 483.8L432 467.9L432.5 382.9L433 435.7L433.5 460.4L434 491.1L434.5 486.1L435 502.4L435.5 490.7L436 505.6L436.5 491.4L437 503.7L437.5 491.7L438 501.5L438.5 490.4L439 500.8L439.5 484.8L440 504.3L440.5 486.4L441 501.1L441.5 487.1L442 501L442.5 486.1L443 502.9L443.5 485.6L444 499.6L444.5 485.6L445 503.6L445.5 487.2L446 505.4L446.5 486.9L447 503.3L447.5 488.5L448 504.5L448.5 490.7L449 509.1L449.5 491.1L450 503.5L450.5 489.4L451 501.7L451.5 491.4L452 503.6L452.5 482.9L453 509.4L453.5 489.6L454 504.7L454.5 491.6L455 504.7L455.5 490L456 506.6L456.5 491.7L457 501.4L457.5 488.8L458 503L458.5 489L459 505.1L459.5 487.5L460 508.7L460.5 491.2L461 503.4L461.5 488.8L462 501.4L462.5 489.9L463 500L463.5 478.3L464 498.7L464.5 492.2L465 502.9L465.5 491.7L466 500.5L466.5 489L467 506.3L467.5 492.5L468 503.2L468.5 489L469 506.4L469.5 490.7L470 503L470.5 486.1L471 501.1L471.5 486.6L472 499.9L472.5 490.4L473 502.9L473.5 489.4L474 501.6L474.5 489.6L475 501L475.5 485.8L476 505.6L476.5 492.2L477 505.4L477.5 492.7L478 503.3L478.5 492.4L479 501.9L479.5 488.7L480 508.4L480.5 487.6L481 500.8L481.5 490.9L482 503.5L482.5 490.1L483 499.9L483.5 488.2L484 494.8L484.5 482.2L485 495.5L485.5 486.7L486 497.5L486.5 487.9L487 500.1L487.5 488.9L488 499.9L488.5 488.9L489 500.1L489.5 489.4L490 499.1L490.5 480.5L491 474L491.5 420.2L492 460.8L492.5 472.3L493 494.4L493.5 487.1L494 500.4L494.5 491.2L495 502.9L495.5 491.5L496 499.9L496.5 491L497 502L497.5 489.2L498 501.5L498.5 489L499 494.7L499.5 460.9L500 488.2L500.5 484.6L501 496.2L501.5 484L502 492.6L502.5 479.7L503 483.5L503.5 473.3L504 477L504.5 446.8L505 404.4L505.5 425.4L506 432.4L506.5 420.6L507 418.2L507.5 399.8L508 391.6L508.5 372.5L509 362.2L509.5 341.8L510 330.5L510.5 311L511 296.7L511.5 278.7L512 264.1L512.5 246L513 257.5L513.5 261.6L514 263.1L514.5 273.5L515 282.1L515.5 282.5L516 281.4L516.5 272.1L517 285.3L517.5 294.4L518 307.8L518.5 316L519 328.8L519.5 336.1L520 349L520.5 356.1L521 368.8L521.5 374.2L522 388.9L522.5 393.4L523 407.3L523.5 408.4L524 422.9L524.5 421.6L525 440L525.5 438.9L526 454.8L526.5 448.3L527 464.2L527.5 458.9L528 473.4L528.5 468.8L529 481.9L529.5 474.5L530 489.1L530.5 481.4L531 493.1L531.5 478.8L532 496.2L532.5 486.9L533 500.6L533.5 487.1L534 501.5L534.5 485.4L535 502.6L535.5 485.1L536 478L536.5 483.7L537 499L537.5 488.6L538 500.4L538.5 488.2L539 504L539.5 490.8L540 502L540.5 488.2L541 507.7L541.5 489.4L542 502.1L542.5 490.2L543 500.2L543.5 490.1L544 502.4L544.5 476.3L545 496.5L545.5 488.9L546 502.1L546.5 489.9L547 501.3L547.5 487.9L548 501L548.5 490.1L549 501.5L549.5 491.5L550 500.2L550.5 489.9L551 499.1L551.5 489.6L552 500L552.5 489.9L553 501.3L553.5 492.5L554 501.4L554.5 493.2L555 503.1L555.5 492.7L556 501.7L556.5 488.4L557 510.1L557.5 492.3L558 500.3L558.5 487.4L559 500.7L559.5 491.7L560 502.1L560.5 490.4L561 502.2L561.5 490.1L562 504.2L562.5 490.2L563 502.7L563.5 490.4L564 502.4L564.5 489.1L565 500.4L565.5 488.3L566 499.9L566.5 485.4L567 499.1L567.5 484.7L568 501.8L568.5 485.3L569 502.5L569.5 484L570 498.4L570.5 489L571 499.3L571.5 487.7L572 499.2L572.5 486.9L573 499.2L573.5 487.2L574 499.7L574.5 478.8L575 499.7L575.5 489.9L576 503L576.5 490.7L577 504.4L577.5 492L578 505L578.5 489.7L579 501.6L579.5 488.7L580 499.8L580.5 483.1L581 499.4L581.5 486.8L582 500.1L582.5 488.4L583 500.6L583.5 488.3L584 500.7L584.5 488.7L585 501L585.5 489.5L586 503.5L586.5 492.5L587 505.2L587.5 490.7L588 503.2L588.5 491.1L589 503.6L589.5 491.1L590 499.6L590.5 456L591 486.2L591.5 481.6L592 499.8L592.5 485.1L593 498.2L593.5 488.9L594 502L594.5 490.6L595 504.2L595.5 491.2L596 502.8L596.5 488.3L597 502.6L597.5 482.9L598 440.1L598.5 469.7L599 493.8L599.5 489L600 499.8L600.5 491.3L601 501L601.5 491.7L602 500.7L602.5 490.8L603 501.9L603.5 486.1L604 500.2L604.5 487.6L605 476.4L605.5 485.1L606 498.3L606.5 486.3L607 497.7L607.5 489.6L608 498.4L608.5 479.7L609 497.4L609.5 489.8L610 506.5L610.5 491.8L611 502.1L611.5 490.8L612 501L612.5 491L613 505.9L613.5 488.4L614 501.6L614.5 488L615 502.3L615.5 490.6L616 504.8L616.5 490.4L617 501.4L617.5 490.5L618 501L618.5 488.2L619 499.8L619.5 489.7L620 500.2L620.5 488.9L621 501.3L621.5 491.1L622 503.1L622.5 490.1L623 504.5L623.5 490.1L624 502.5L624.5 489.3L625 500.8L625.5 490.4L626 501.9L626.5 481.7L627 503.8L627.5 491.1L628 505.4L628.5 489.9L629 504.5L629.5 488.7L630 503L630.5 490.6L631 501.8L631.5 492L632 502.6L632.5 492.1L633 504.3L633.5 492.6L634 503.5L634.5 488.1L635 505.9L635.5 492.6L636 502.8L636.5 487.8L637 510.3L637.5 488.1L638 505L638.5 487.2L639 507.8L639.5 487.4L640 504L640.5 489.8L641 502.4L641.5 491.9L642 501.9L642.5 492L643 501.3L643.5 492.1L644 501.8L644.5 492.5L645 500.2L645.5 491.6L646 501.2L646.5 489.5L647 502.9L647.5 488.8L648 500.4L648.5 491.6L649 500.6L649.5 490.7L650 506.4L650.5 487.1L651 500.9L651.5 487.2L652 500.6L652.5 490.9L653 501.3L653.5 489.7L654 499.9L654.5 490.7L655 503.1L655.5 490.1L656 500.5L656.5 489.9L657 500.9L657.5 492.4L658 501.8L658.5 492.5L659 501.4L659.5 490.9L660 501.6L660.5 488.8L661 503.3L661.5 490.9L662 500.7L662.5 491.3L663 501.1L663.5 491.9L664 501.3L664.5 491.5L665 500.7L665.5 493.4L666 504.1L666.5 492.3L667 504.4L667.5 489.6L668 501.9L668.5 489.2L669 501.8L669.5 488.5L670 502.3L670.5 490.4L671 500.5L671.5 488.7L672 503.3L672.5 489.9L673 498.5L673.5 481.1L674 502.2L674.5 489.6L675 502.7L675.5 486.3L676 502.6L676.5 489.9L677 503.9L677.5 491L678 504.7L678.5 490.5L679 505.4L679.5 491.7L680 503.8L680.5 492.3L681 501.6L681.5 490L682 501L682.5 488.9L683 500.5L683.5 490.1L684 500.6L684.5 488.9L685 500.9L685.5 487.6L686 500.5L686.5 490.2L687 501.8L687.5 487.3L688 502.6L688.5 488.8L689 502.3L689.5 491L690 503.2L690.5 490.9L691 503.2L691.5 489.6L692 505L692.5 490.6L693 501.6L693.5 490.9L694 502.8L694.5 488.7L695 500.5L695.5 490.1L696 500.1L696.5 489.5L697 476.3L697.5 486.8L698 500.7L698.5 491.5L699 501.7L699.5 491L700 502.2L700.5 488.5L701 502.4L701.5 491.9L702 503L702.5 490.9L703 503.1L703.5 490L704 504.6L704.5 489.3L705 505.1L705.5 489.7L706 502.7L706.5 488.3L707 502.6L707.5 485L708 503.3L708.5 490L709 481.8L709.5 488.4L710 504.8L710.5 491.1L711 496L711.5 450.4L712 483.4L712.5 487.6L713 499.8L713.5 491.6L714 504.4L714.5 489.9L715 505.5L715.5 490.9L716 501.9L716.5 488.6L717 502.5L717.5 486.5L718 505.9L718.5 485.8L719 501.4L719.5 490.4L720 502.8L720.5 490.5L721 502.1L721.5 491.2L722 502.5L722.5 486.8L723 502.8L723.5 488.7L724 505.7L724.5 489.3L725 504.9L725.5 488.9L726 502.3L726.5 484.4L727 500.5L727.5 488.5L728 501L728.5 489.3L729 503.6L729.5 487.8L730 503.4L730.5 489.1L731 497.9L731.5 472.9L732 497.1L732.5 480.7L733 501.4L733.5 488.5L734 499.5L734.5 489.1L735 500.2L735.5 491.9L736 503L736.5 490.7L737 503.4L737.5 489.6L738 501.9L738.5 492L739 502.8L739.5 492.2L740 502L740.5 488.5L741 503.7L741.5 479.7L742 501L742.5 491.3L743 502.9L743.5 490.3L744 504.7L744.5 491.9L745 504L745.5 493.2L746 502.6L746.5 493.8L747 503.6L747.5 493.4L748 506.4L748.5 492.4L749 503.4L749.5 490.9L750 504.6L750.5 489.2L751 507.9L751.5 490.2L752 506.4L752.5 486.4L753 502.5L753.5 485.8L754 503.4L754.5 488.9L755 502.9L755.5 490.4L756 499.9L756.5 490.9L757 499.9L757.5 491.2L758 500.4L758.5 489.6L759 501.8L759.5 491.3L760 503.3L760.5 491.2L761 502.2L761.5 490.8L762 502.7L762.5 492.8L763 502.2L763.5 492.1L764 505.3L764.5 493.4L765 503.5L765.5 490.7L766 501.7L766.5 490.3L767 503.6L767.5 491.1L768 501.8L768.5 489.3L769 475.4L769.5 485L770 502L770.5 491.2L771 501.4L771.5 490.9L772 501.1L772.5 491.1L773 502.6L773.5 490.4L774 501.3L774.5 489.4L775 510.2L775.5 489.6L776 506.7L776.5 489.1L777 505.1L777.5 481.3L778 502.3L778.5 489.5L779 501.4L779.5 490.3L780 503.7L780.5 490L781 501L781.5 486.2L782 480.9L782.5 487.5L783 502L783.5 490.4L784 500.5L784.5 490.9L785 501.1L785.5 491.1L786 502.7L786.5 490.4L787 506.1L787.5 487.5L788 463L788.5 475L789 502.1L789.5 490L790 502.7L790.5 488.9L791 501.2L791.5 483.8L792 451.1L792.5 473.6L793 498L793.5 488.6L794 500.7L794.5 487.3L795 499.6L795.5 488L796 501L796.5 486.4L797 501.3L797.5 487.6L798 505.3L798.5 487.4L799 506.9L799.5 490.7L800 507.4L800.5 489L801 503.1L801.5 490.1L802 504.5L802.5 492.3L803 502.1L803.5 490L804 502.3L804.5 486.4L805 508.4L805.5 491.4L806 502.4L806.5 492.6L807 501.5L807.5 492.8L808 504.7L808.5 491.7L809 500.9L809.5 491.5L810 502.1L810.5 492.3L811 504.4L811.5 491.9L812 501.4L812.5 489.3L813 503.8L813.5 488.2L814 501.2L814.5 491.9L815 503.7L815.5 486.9L816 501.9L816.5 491.8L817 504L817.5 486.2L818 503.8L818.5 490.9L819 501.8L819.5 489.2L820 505L820.5 485.2L821 503.1L821.5 491.8L822 505.7L822.5 492.8L823 502.5L823.5 489.8L824 501L824.5 492.6L825 501.8L825.5 490.7L826 502.2L826.5 491.7L827 503.7L827.5 487.9L828 500.3L828.5 488.8L829 501L829.5 490L830 492.7L830.5 438.4L831 476.1L831.5 484.3L832 495.8L832.5 477.6L833 442.8L833.5 360.7L834 415L834.5 449.8L835 482.8L835.5 482.3L836 502.4L836.5 487.1L837 503.6L837.5 492.5L838 501.5L838.5 489.6L839 503.3L839.5 490.2L840 503.5L840.5 489.7L841 479.6L841.5 482.9L842 502.9L842.5 486.9L843 504.2L843.5 487.8L844 499.6L844.5 487.3L845 499.1L845.5 484.1L846 498L846.5 479.6L847 490.8L847.5 477.3L848 472.4L848.5 476.3L849 492.1L849.5 479.2L850 493.8L850.5 484.3L851 498L851.5 483L852 498.6L852.5 488.7L853 502L853.5 491L854 503.6L854.5 491.7L855 502L855.5 490.5L856 502.2L856.5 491.1L857 500.1L857.5 483.6L858 502.6L858.5 491.5L859 500.7L859.5 489.5L860 504L860.5 491.9L861 502.5L861.5 488.1L862 500.4L862.5 490.3L863 505.3L863.5 489.7L864 500.5L864.5 477.1L865 499L865.5 489L866 505.5L866.5 486.4L867 503.8L867.5 490.1L868 502.1L868.5 490.3L869 502.1L869.5 491.6L870 501.5L870.5 487.9L871 467L871.5 480.6L872 500.1L872.5 488.7L873 501.4L873.5 487.4L874 503L874.5 486L875 505.8L875.5 487.2L876 501.2L876.5 491.3L877 501.9L877.5 491.7L878 506.2L878.5 491.1L879 504.5L879.5 492.4L880 503.7L880.5 492.2L881 502.1L881.5 491.6L882 504.2L882.5 489.5L883 501.9L883.5 492.4L884 502.7L884.5 491.5L885 503.7L885.5 488.6L886 500.8L886.5 485.5L887 494.1L887.5 480.9L888 499.5L888.5 488.8L889 504L889.5 491.6L890 501.6L890.5 491L891 503.5L891.5 490.5L892 500.6L892.5 473.8L893 495.6L893.5 487.4L894 500.9L894.5 488.9L895 502.5L895.5 488.1L896 502.8L896.5 489.2L897 504.7L897.5 481.3L898 503.9L898.5 488.7L899 505.5L899.5 490.2L900 504L900.5 491.4L901 503.1L901.5 490L902 510.9L902.5 491.6L903 506.3L903.5 490.9L904 504.9L904.5 490.8L905 504.5L905.5 488.5L906 473.4L906.5 386.4L907 431.5L907.5 453L908 483.5L908.5 483.1L909 500.8L909.5 485.3L910 502.1L910.5 488.6L911 502L911.5 488.8L912 471.6L912.5 484.9L913 500.9L913.5 488L914 502.7L914.5 490.2L915 501.4L915.5 490.9L916 473.9L916.5 487.2L917 501.9L917.5 492.4L918 505.9L918.5 492.6L919 505L919.5 493L920 505.8L920.5 491.6L921 502.4L921.5 487.7L922 494.5L922.5 468.1L923 436.5L923.5 464.1L924 489.8L924.5 483.1L925 505.6L925.5 490.6L926 502.2L926.5 488.9L927 501.4L927.5 488.3L928 495.6L928.5 475.8L929 491.1L929.5 483.5L930 498.7L930.5 488.2L931 503.3L931.5 488.2L932 502.3L932.5 492.5L933 503.5L933.5 486.1L934 501.9L934.5 483.7L935 501.4L935.5 490.8L936 504.2L936.5 490.4L937 501L937.5 490.6L938 502.1L938.5 489.9L939 502.6L939.5 489.6L940 500.1L940.5 487.6L941 500.8L941.5 490.9L942 503.1L942.5 490L943 500.2L943.5 484.8L944 496.7L944.5 484.4L945 497.8L945.5 485.9L946 500.3L946.5 488.7L947 502.5L947.5 490.8L948 506.1L948.5 490.8L949 505.4L949.5 489.5L950 502L950.5 491.3L951 501.1L951.5 489L952 503.9L952.5 485.9L953 502.9L953.5 488.7L954 500.9L954.5 480.8L955 498L955.5 489.9L956 503.6L956.5 490L957 500.3L957.5 489.9L958 501L958.5 489.8L959 500.3L959.5 490.6L960 500.1L960.5 489.5L961 501.6L961.5 489.4L962 499.2L962.5 453.4L963 493L963.5 475.5L964 501.4L964.5 492L965 507L965.5 492.2L966 503L966.5 492.5L967 501.3L967.5 490.5L968 499.7L968.5 487.8L969 498.5L969.5 490.3L970 501.3L970.5 492.2L971 499.6L971.5 491.5L972 503.7L972.5 490.5L973 501.4L973.5 490.1L974 500.2L974.5 491.1L975 505.3L975.5 491.6L976 503.7L976.5 491.8L977 502.6L977.5 491.6L978 502.5L978.5 489.9L979 501.7L979.5 490.2L980 500.9L980.5 489.7L981 502L981.5 487.7L982 501.7L982.5 489L983 501L983.5 491.9L984 503.1L984.5 493.6L985 504.1L985.5 492.3L986 476.8L986.5 487.4L987 502.6L987.5 491L988 503.8L988.5 491.2L989 503.4L989.5 490.1L990 505.1L990.5 491.7L991 509.4L991.5 481.1L992 500.7L992.5 489.3L993 502.1L993.5 487.1L994 501.1L994.5 485.6L995 510.1L995.5 492L996 506.4L996.5 490.2L997 502.4L997.5 487.8L998 501.5L998.5 489.3L999 505.3L999.5 486.5L1000 502.4L1000.5 487.3L1001 502.1L1001.5 489.6L1002 500.6L1002.5 489.6L1003 503.2L1003.5 490.2L1004 498.6L1004.5 490.4L1005 499L1005.5 490.4L1006 499.6L1006.5 490L1007 502.2L1007.5 490.1L1008 500.7L1008.5 487.9L1009 500.9L1009.5 489.3L1010 502.6L1010.5 490.9L1011 501.2L1011.5 488.8L1012 503.1L1012.5 491.4L1013 504L1013.5 492.1L1014 502.4L1014.5 491.6L1015 500.4L1015.5 491.6L1016 502.6L1016.5 488.2L1017 502.9L1017.5 491.1L1018 501.3L1018.5 486.1L1019 479.7L1019.5 400.3L1020 450.3L1020.5 470.9L1021 493.9L1021.5 482.4L1022 457.5L1022.5 366.2L1023 260.1L1023.5 351.2L1024 417.8L1024.5 381.6L1025 456.8L1025.5 480.5L1026 479.3L1026.5 419.1L1027 336.2L1027.5 382.9L1028 323.2L1028.5 371.6L1029 313.2L1029.5 311.2L1030 379.8L1030.5 336.4L1031 394L1031.5 435.1L1032 468.7L1032.5 457.5L1033 428.5L1033.5 345.9L1034 395.7L1034.5 330.8L1035 374.3L1035.5 300.8L1036 258.6L1036.5 358.8L1037 374.5L1037.5 274.6L1038 332L1038.5 361.9L1039 320.5L1039.5 378.2L1040 335.4L1040.5 391.4L1041 345.6L1041.5 396.9L1042 437.8L1042.5 405.5L1043 331L1043.5 403.1L1044 393L1044.5 306.1L1045 355.2L1045.5 288.8L1046 350.4L1046.5 296.1L1047 345.3L1047.5 279.7L1048 370.5L1048.5 383.9L1049 297.1L1049.5 186.1L1050 245.2L1050.5 300.5L1051 350.7L1051.5 341L1052 391.2L1052.5 378.2L1053 454.2L1053.5 479.3L1054 494.9L1054.5 461.1L1055 387.6L1055.5 432.8L1056 475.2L1056.5 480.3L1057 501.8L1057.5 491.5L1058 504.9L1058.5 487.1L1059 500.6L1059.5 482L1060 450.7L1060.5 352.7L1061 407.9L1061.5 444.9L1062 483.6L1062.5 485.5L1063 498.7L1063.5 482.7L1064 455.3L1064.5 477.6L1065 501.9L1065.5 489.4L1066 503.2L1066.5 491.4L1067 500.9L1067.5 488.2L1068 501.5L1068.5 490.7L1069 501.6L1069.5 489L1070 500.8L1070.5 490.2L1071 501.2L1071.5 491.1L1072 501.6L1072.5 488.5L1073 501.4L1073.5 491.5L1074 500.7L1074.5 492.9L1075 501.4L1075.5 491.5L1076 494.4L1076.5 439.5L1077 351.4L1077.5 402.6L1078 452.4L1078.5 472.7L1079 494.8L1079.5 490.5L1080 505.7L1080.5 490.3L1081 504L1081.5 491.2L1082 500.8L1082.5 491.2L1083 473.9L1083.5 487L1084 501.1L1084.5 490.7L1085 503.6L1085.5 490.5L1086 503.8L1086.5 490.7L1087 504.1L1087.5 487.9L1088 501.9L1088.5 490.4L1089 501.1L1089.5 488.8L1090 501.5L1090.5 492.6L1091 502.9L1091.5 478.8L1092 440.2L1092.5 467.6L1093 491.9L1093.5 488.5L1094 500L1094.5 491.8L1095 500.6L1095.5 489.6L1096 502.7L1096.5 491.9L1097 505.6L1097.5 489.5L1098 506.6L1098.5 489.1L1099 502.1L1099.5 486.4L1100 503.5L1100.5 489.3L1101 506.8L1101.5 490.1L1102 502.3L1102.5 491.6L1103 498.5L1103.5 460.4L1104 384.9L1104.5 428.8L1105 473.5L1105.5 481.4L1106 502.2L1106.5 491.7L1107 503.8L1107.5 490.5L1108 502.3L1108.5 489.3L1109 502.3L1109.5 492.6L1110 502.6L1110.5 489.4L1111 483L1111.5 488.2L1112 500.9L1112.5 491.8L1113 500.2L1113.5 490.8L1114 500L1114.5 489.9L1115 499.4L1115.5 489.9L1116 499.1L1116.5 489.9L1117 499.1L1117.5 488L1118 501.2L1118.5 491.2L1119 500.4L1119.5 492L1120 500.7L1120.5 489.1L1121 501.4L1121.5 489.8L1122 500.6L1122.5 489.6L1123 504.7L1123.5 490.3L1124 504L1124.5 486.2L1125 502.7L1125.5 491.2L1126 502.1L1126.5 488.1L1127 502.4L1127.5 489.5L1128 504.3L1128.5 490L1129 501.5L1129.5 489.2L1130 480.8L1130.5 487L1131 500.7L1131.5 489.8L1132 499.5L1132.5 490L1133 499.7L1133.5 491.1L1134 503.2L1134.5 485.4L1135 503L1135.5 487.8L1136 479.4L1136.5 402L1137 451.6L1137.5 471.8L1138 496.3L1138.5 486.9L1139 502.6L1139.5 488.2L1140 499.9L1140.5 482.7L1141 498.2L1141.5 486.6L1142 499.7L1142.5 487.7L1143 505.1L1143.5 489.5L1144 501.4L1144.5 491.5L1145 502.1L1145.5 484.5L1146 447.8L1146.5 471.6L1147 500.5L1147.5 469.4L1148 406.8L1148.5 448.4L1149 485.1L1149.5 487.8L1150 501.9L1150.5 488.7L1151 505.5L1151.5 486.4L1152 495.2L1152.5 454.1L1153 484.9L1153.5 483L1154 498.2L1154.5 488.5L1155 498.8L1155.5 490.8L1156 500.9L1156.5 491.6L1157 504.3L1157.5 491.6L1158 501.7L1158.5 491.8L1159 501.4L1159.5 489L1160 500.4L1160.5 489.4L1161 500.1L1161.5 467L1162 491.3L1162.5 488.7L1163 499L1163.5 489.8L1164 501.2L1164.5 488.6L1165 500.6L1165.5 488.2L1166 501.8L1166.5 491.1L1167 500.8L1167.5 491.1L1168 502.6L1168.5 490.4L1169 502L1169.5 492.2L1170 506.6L1170.5 485.1L1171 443.4L1171.5 470.9L1172 496.8L1172.5 488.2L1173 503.9L1173.5 490.2L1174 504.3L1174.5 489.8L1175 508.2L1175.5 490.7L1176 500.9L1176.5 489.6L1177 465.7L1177.5 482.6L1178 499.8L1178.5 492.9L1179 500.6L1179.5 493.4L1180 500L1180.5 491.8L1181 500L1181.5 488.6L1182 470.4L1182.5 486.2L1183 500.1L1183.5 487.9L1184 500.5L1184.5 491.1L1185 501.8L1185.5 490L1186 501.2L1186.5 490.4L1187 500.3L1187.5 486.2L1188 501.2L1188.5 490.8L1189 501.1L1189.5 490.7L1190 502.6L1190.5 489.4L1191 500.3L1191.5 490.2L1192 500.3L1192.5 485.8L1193 500.6L1193.5 476.5L1194 497.1L1194.5 485.8L1195 500.3L1195.5 489L1196 500.8L1196.5 488.4L1197 503.2L1197.5 491.4L1198 504L1198.5 488.5L1199 503.6L1199.5 484L1200 501.6L1200.5 489.4L1201 501.2L1201.5 488.4L1202 500.5L1202.5 488.9L1203 480L1203.5 483.3L1204 502.3L1204.5 488.3L1205 502.9L1205.5 489.2L1206 502.2L1206.5 492.3L1207 502L1207.5 485.2L1208 499.6L1208.5 490L1209 501.7L1209.5 488.1L1210 503.1L1210.5 488.8L1211 503.1L1211.5 481.1L1212 504.1L1212.5 484.6L1213 507.8L1213.5 487L1214 503.3L1214.5 489L1215 505.5L1215.5 477.9L1216 505.2L1216.5 487.2L1217 500.2L1217.5 485.7L1218 496.5L1218.5 483L1219 474.9L1219.5 485.3L1220 499.1L1220.5 489.9L1221 504.9L1221.5 491.6L1222 501.1L1222.5 491.3L1223 500.7L1223.5 492.1L1224 502.2L1224.5 490.6L1225 500.5L1225.5 487.1L1226 500.8L1226.5 490.2L1227 502.8L1227.5 490.4L1228 501.6L1228.5 491L1229 501.3L1229.5 489.5L1230 500.3L1230.5 487L1231 502.9L1231.5 490.4L1232 502L1232.5 489.7L1233 508.3L1233.5 486.5L1234 504.4L1234.5 470.5L1235 498.2L1235.5 485.6L1236 500.9L1236.5 488.5L1237 500.7L1237.5 485.7L1238 501.1L1238.5 487.8L1239 501.5L1239.5 484.8L1240 501.7L1240.5 490.7L1241 501.9L1241.5 488.2L1242 500.9L1242.5 488.7L1243 503.4L1243.5 487L1244 500.1L1244.5 486.7L1245 502.1L1245.5 490.5L1246 502.7L1246.5 488.6L1247 500.3L1247.5 489L1248 501L1248.5 485.4L1249 503.2L1249.5 491.7L1250 504.9L1250.5 491.2L1251 505L1251.5 491.1L1252 505.7L1252.5 490.1L1253 503.2L1253.5 488.8L1254 502.5L1254.5 492.1L1255 501.6L1255.5 490.7L1256 506.7L1256.5 489.1L1257 512.9L1257.5 486.4L1258 504.6L1258.5 489.8L1259 504.6L1259.5 491.2L1260 506.4L1260.5 492.5L1261 502.1L1261.5 491.1L1262 500.7L1262.5 490.7L1263 506.2L1263.5 491.8L1264 500.5L1264.5 489.3L1265 500.4L1265.5 492.1L1266 502.8L1266.5 488.7L1267 501.7L1267.5 492.2L1268 502.5L1268.5 492.8L1269 501.1L1269.5 490.8L1270 501.9L1270.5 489L1271 504L1271.5 487L1272 497.2L1272.5 472.4L1273 465.9L1273.5 417.4L1274 455.6L1274.5 466.8L1275 494.1L1275.5 485.2L1276 500.1L1276.5 491.7L1277 499.1L1277.5 486.4L1278 499.7L1278.5 489.7L1279 502.5L1279.5 487.2L1280 499.7L1280.5 491.3L1281 502.8L1281.5 490.5L1282 499.5L1282.5 491.6L1283 502.6L1283.5 491.8L1284 501.3L1284.5 490.5L1285 505L1285.5 490.7L1286 504.1L1286.5 489.5L1287 503.4L1287.5 489.4L1288 501.8L1288.5 489.2L1289 503.5L1289.5 487.7L1290 501L1290.5 489L1291 502L1291.5 488.4L1292 503.5L1292.5 489.4L1293 501.6L1293.5 489.7L1294 503.4L1294.5 487.6L1295 502.8L1295.5 487.8L1296 500.9L1296.5 488.1L1297 501L1297.5 486.5L1298 496.1L1298.5 478.1L1299 493.6L1299.5 486.5L1300 500.9L1300.5 486L1301 504.8L1301.5 492L1302 505.1L1302.5 491.9L1303 500.6L1303.5 489.1L1304 502.2L1304.5 491.4L1305 499.5L1305.5 467.7L1306 495.4L1306.5 486.7L1307 504.6L1307.5 488.1L1308 501.5L1308.5 487.9L1309 501.8L1309.5 490L1310 499.7L1310.5 488.3L1311 502.9L1311.5 486.5L1312 503.5L1312.5 490.3L1313 504.8L1313.5 491.6L1314 503.2L1314.5 490.3L1315 502.3L1315.5 490.1L1316 502.7L1316.5 491.5L1317 500.8L1317.5 489.6L1318 500.6L1318.5 488.3L1319 500.7L1319.5 490.5L1320 505.5L1320.5 490.3L1321 502L1321.5 489.3L1322 502L1322.5 490.1L1323 502.5L1323.5 491.5L1324 500.3L1324.5 491.2L1325 502.4L1325.5 491.4L1326 500.5L1326.5 487L1327 502.9L1327.5 469.9L1328 496.4L1328.5 490.5L1329 503.5L1329.5 491.5L1330 501.1L1330.5 490.5L1331 501.3L1331.5 492.7L1332 505.1L1332.5 492.6L1333 506L1333.5 492.6L1334 502.2L1334.5 492.3L1335 502L1335.5 492L1336 500.4L1336.5 484.4L1337 447.4L1337.5 472.3L1338 494.4L1338.5 489.8L1339 502.1L1339.5 488.5L1340 501L1340.5 492.5L1341 504.1L1341.5 488.7L1342 502.2L1342.5 490.4L1343 501.8L1343.5 488.7L1344 500.1L1344.5 489.2L1345 504.4L1345.5 488.3L1346 502.6L1346.5 490.3L1347 505.3L1347.5 491.2L1348 501.5L1348.5 489.6L1349 501.8L1349.5 489.6L1350 502.4L1350.5 487.5L1351 502.5L1351.5 486.2L1352 504.4L1352.5 490L1353 501.8L1353.5 489L1354 504.2L1354.5 489.4L1355 504.8L1355.5 487.2L1356 476.1L1356.5 406.7L1357 450.9L1357.5 464.1L1358 490.9L1358.5 486.3L1359 500.7L1359.5 481.6L1360 499.6L1360.5 486.2L1361 500.4L1361.5 488.4L1362 498.4L1362.5 482.5L1363 499.7L1363.5 484.7L1364 499.6L1364.5 464.8L1365 496.1L1365.5 488.4L1366 504.4L1366.5 489.4L1367 502.1L1367.5 492.3L1368 503.5L1368.5 490.2L1369 500.8L1369.5 492.5L1370 479.5L1370.5 488.4L1371 499.7L1371.5 490.5L1372 503.7L1372.5 491.3L1373 503.7L1373.5 490.3L1374 503L1374.5 489.6L1375 504.5L1375.5 487.6L1376 500L1376.5 486.3L1377 502.9L1377.5 490.9L1378 502.3L1378.5 485.6L1379 503.4L1379.5 480.1L1380 480.9L1380.5 487.7L1381 501.5L1381.5 490.4L1382 506.1L1382.5 486.6L1383 502.9L1383.5 487L1384 500L1384.5 486.4L1385 499.5L1385.5 479.7L1386 502.2L1386.5 489.4L1387 502.4L1387.5 489.2L1388 501.4L1388.5 481.1L1389 470.4L1389.5 483.5L1390 500.1L1390.5 489L1391 503.9L1391.5 490.6L1392 504L1392.5 490.9L1393 499.6L1393.5 470.4L1394 495.7L1394.5 489.8L1395 499.6L1395.5 489.4L1396 495.9L1396.5 479L1397 497.6L1397.5 486.7L1398 501.4L1398.5 486.9L1399 500.8L1399.5 487.5L1400 502.2L1400.5 488L1401 503.1L1401.5 484.8L1402 503.8L1402.5 488.9L1403 501.5L1403.5 490.2L1404 501.7L1404.5 490.7L1405 502.7L1405.5 491.3L1406 507.4L1406.5 490.7L1407 505.5L1407.5 491L1408 514.3L1408.5 487.8L1409 509.5L1409.5 485.5L1410 503.6L1410.5 490L1411 499.7L1411.5 475.7L1412 496.6L1412.5 489.2L1413 500.5L1413.5 489.3L1414 499.6L1414.5 490.1L1415 505.6L1415.5 487.5L1416 501.2L1416.5 486.6L1417 508.1L1417.5 489.5L1418 501.4L1418.5 487.8L1419 505.7L1419.5 488.3L1420 499.5L1420.5 488.5L1421 500.5L1421.5 489.5L1422 500.3L1422.5 488.6L1423 503.7L1423.5 484.4L1424 496.3L1424.5 446.6L1425 482.2L1425.5 482.3L1426 499.6L1426.5 484.4L1427 499.8L1427.5 474.1L1428 497.3L1428.5 487.5L1429 502.3L1429.5 489.7L1430 501.9L1430.5 492.5L1431 501.4L1431.5 488.2L1432 503.4L1432.5 490.9L1433 502.1L1433.5 490.5L1434 503.3L1434.5 491.1L1435 501.4L1435.5 486.1L1436 502.6L1436.5 493.6L1437 509L1437.5 492.8L1438 503.9L1438.5 492.9L1439 506L1439.5 491.8L1440 501L1440.5 491.9L1441 501.5L1441.5 492.4L1442 503.4L1442.5 488.6L1443 503.5L1443.5 488.9L1444 502.9L1444.5 489.2L1445 501.5L1445.5 490L1446 501.3L1446.5 489.5L1447 502.5L1447.5 488.3L1448 504.8L1448.5 489.8L1449 504.1L1449.5 492.2L1450 502.5L1450.5 491.7L1451 503L1451.5 487L1452 502.6L1452.5 487.3L1453 499.3L1453.5 487.6L1454 501.8L1454.5 487.6L1455 496.4L1455.5 481.1L1456 488.1L1456.5 483.8L1457 500.7L1457.5 489.1L1458 504.9L1458.5 489.4L1459 503.7L1459.5 490.3L1460 501.6L1460.5 488.9L1461 502.5L1461.5 487.3L1462 502.9L1462.5 486.3L1463 504.6L1463.5 490.1L1464 505.8L1464.5 489.2L1465 499.8L1465.5 462.3L1466 492.3L1466.5 488.2L1467 500.9L1467.5 490.5L1468 507.8L1468.5 488.1L1469 499.6L1469.5 487.9L1470 500L1470.5 486.3L1471 499.5L1471.5 488.6L1472 501.2L1472.5 489.3L1473 501.3L1473.5 482.1L1474 507.9L1474.5 488.4L1475 502L1475.5 490.1L1476 501.4L1476.5 488.9L1477 502.4L1477.5 489.5L1478 501.1L1478.5 487.9L1479 500L1479.5 490.5L1480 502.7L1480.5 490.9L1481 506.1L1481.5 489.5L1482 501.3L1482.5 486.8L1483 504.3L1483.5 490.4L1484 503.1L1484.5 490.9L1485 503.6L1485.5 491.2L1486 504L1486.5 491.2L1487 503.7L1487.5 491.5L1488 501.6L1488.5 493.2L1489 505.5L1489.5 490.9L1490 500.9L1490.5 491.4L1491 500L1491.5 480.2L1492 498.1L1492.5 488.5L1493 501.2L1493.5 483.8L1494 503.1L1494.5 487.6L1495 505.9L1495.5 489.2L1496 501L1496.5 476.6L1497 502.9L1497.5 490.4L1498 503.6L1498.5 485.9L1499 500.9L1499.5 448.3L1500 365.5L1500.5 415L1501 461.3L1501.5 477.8L1502 496.1L1502.5 491.4L1503 508.9L1503.5 492L1504 504.4L1504.5 492.2L1505 501.7L1505.5 489.8L1506 503L1506.5 487.2L1507 465L1507.5 376.1L1508 430.1L1508.5 460L1509 489.9L1509.5 488.8L1510 502.4L1510.5 489.7L1511 501.6L1511.5 491.8L1512 502.4L1512.5 490.5L1513 503.5L1513.5 483.2L1514 492.4L1514.5 486.3L1515 497L1515.5 487.9L1516 498.9L1516.5 489.2L1517 500.5L1517.5 489L1518 500.3L1518.5 489.2L1519 500.2L1519.5 489.8L1520 497.2L1520.5 485.2L1521 486.8L1521.5 483.1L1522 497.1L1522.5 488.3L1523 499.2L1523.5 482.8L1524 448.9L1524.5 350.6L1525 407.5L1525.5 442L1526 479.6L1526.5 480.7L1527 501.1L1527.5 488.8L1528 501.9L1528.5 487.5L1529 502.6L1529.5 491.5L1530 502.4L1530.5 491.3L1531 504.2L1531.5 487.8L1532 502.1L1532.5 491.6L1533 501.5L1533.5 491.3L1534 500.7L1534.5 490.8L1535 500.3L1535.5 479.3L1536 497.4L1536.5 480.6L1537 445.2L1537.5 471.9L1538 498.2L1538.5 489.4L1539 505.6L1539.5 489.1L1540 503.3L1540.5 489.8L1541 503.5L1541.5 488.7L1542 502.4L1542.5 489.4L1543 506.3L1543.5 487.8L1544 500.7L1544.5 487.9L1545 501L1545.5 490.1L1546 500.6L1546.5 492.4L1547 501.3L1547.5 492.2L1548 504.1L1548.5 491.7L1549 504.1L1549.5 487.3L1550 503.9L1550.5 492.1L1551 504.9L1551.5 492.4L1552 504.3L1552.5 472.2L1553 496.9L1553.5 491.4L1554 500.5L1554.5 490.3L1555 502.8L1555.5 491.5L1556 501.3L1556.5 490.4L1557 501.9L1557.5 492.4L1558 501.8L1558.5 490.7L1559 501.9L1559.5 491.2L1560 501.4L1560.5 491.2L1561 501.8L1561.5 483.4L1562 436.4L1562.5 468.4L1563 496.1L1563.5 485.9L1564 478.4L1564.5 395L1565 446.1L1565.5 467.6L1566 494L1566.5 490.3L1567 504.7L1567.5 488.2L1568 503.6L1568.5 486.1L1569 475.8L1569.5 394.4L1570 291.5L1570.5 346.8L1571 404.4L1571.5 437L1572 481.2L1572.5 482L1573 500.1L1573.5 489.8L1574 500.5L1574.5 488L1575 500.5L1575.5 486.9L1576 502.9L1576.5 489.8L1577 501.6L1577.5 491.4L1578 503.7L1578.5 490.4L1579 498.3L1579.5 479.1L1580 493.3L1580.5 484.7L1581 495.6L1581.5 486.6L1582 499.2L1582.5 486.5L1583 508.6L1583.5 491.3L1584 500.1L1584.5 490.7L1585 499.2L1585.5 491.7L1586 499.4L1586.5 491.5L1587 501.8L1587.5 484.1L1588 499.4L1588.5 491.8L1589 502.5L1589.5 487.1L1590 501.5L1590.5 487.9L1591 505L1591.5 489.4L1592 501L1592.5 490.8L1593 501L1593.5 488.6L1594 502.5L1594.5 491.3L1595 501.4L1595.5 492.3L1596 503.5L1596.5 492.4L1597 497.7L1597.5 470.2L1598 490.6L1598.5 487.8L1599 499.4L1599.5 491.4L1600 500.2L1600.5 490.2L1601 502.3L1601.5 489.6L1602 502.4L1602.5 490.5L1603 501.5L1603.5 489.2L1604 501.1L1604.5 487.3L1605 502.7L1605.5 488L1606 502.3L1606.5 489.8L1607 503.3L1607.5 487.6L1608 504.1L1608.5 490.9L1609 502.3L1609.5 491.6L1610 500.8L1610.5 490.5L1611 501.1L1611.5 490.1L1612 503.1L1612.5 490.1L1613 502L1613.5 488.8L1614 502.6L1614.5 484.5L1615 502L1615.5 484.8L1616 501.7L1616.5 489.1L1617 504.2L1617.5 489.4L1618 503.7L1618.5 489.2L1619 508.2L1619.5 479.1L1620 500.6L1620.5 489.3L1621 505.8L1621.5 490.5L1622 502.8L1622.5 489.3L1623 501L1623.5 489.6L1624 501.4L1624.5 489L1625 501L1625.5 490.3L1626 502.8L1626.5 490.9L1627 502L1627.5 490.7L1628 499.9L1628.5 489.5L1629 505.1L1629.5 489.6L1630 500.8L1630.5 489.6L1631 502.1L1631.5 488.2L1632 502.1L1632.5 489.4L1633 504.5L1633.5 489.2L1634 504.4L1634.5 488.8L1635 501.9L1635.5 488L1636 503.6L1636.5 489.3L1637 502.9L1637.5 490.1L1638 501L1638.5 487.6L1639 500.7L1639.5 489.8L1640 503.9L1640.5 491.2L1641 506.2L1641.5 491.1L1642 501.8L1642.5 480.7L1643 501.1L1643.5 486.7L1644 502L1644.5 485.5L1645 459.8L1645.5 368.8L1646 425.6L1646.5 455.1L1647 488.2L1647.5 482.6L1648 473.3L1648.5 486.7L1649 502.4L1649.5 489.7L1650 503L1650.5 481.9L1651 450.7L1651.5 475.9L1652 499.8L1652.5 489.7L1653 504.7L1653.5 490.8L1654 505L1654.5 491L1655 502L1655.5 489.8L1656 502.7L1656.5 489.7L1657 506.1L1657.5 491.4L1658 502L1658.5 491.2L1659 502.1L1659.5 490.7L1660 504.3L1660.5 490.6L1661 502.5L1661.5 488.3L1662 504.9L1662.5 493L1663 504.5L1663.5 490.5L1664 501.3L1664.5 493.1L1665 502.2L1665.5 490.3L1666 501.3L1666.5 491.7L1667 500.7L1667.5 489.7L1668 502.1L1668.5 490L1669 502.4L1669.5 492.5L1670 501.9L1670.5 492.7L1671 503.8L1671.5 491.8L1672 505.6L1672.5 492.3L1673 509.7L1673.5 493L1674 503.9L1674.5 492.3L1675 503.8L1675.5 488.6L1676 506.8L1676.5 482.8L1677 501.6L1677.5 491.8L1678 502.4L1678.5 489.5L1679 501.6L1679.5 487.7L1680 498.5L1680.5 486.1L1681 499.6L1681.5 485.5L1682 499.1L1682.5 488.5L1683 499.5L1683.5 488.9L1684 499.9L1684.5 487.3L1685 503.2L1685.5 488.1L1686 500.6L1686.5 487.6L1687 498.4L1687.5 488.2L1688 499.5L1688.5 485.7L1689 493.8L1689.5 462.6L1690 487.6L1690.5 483.3L1691 500.2L1691.5 486.5L1692 503L1692.5 490.1L1693 505.5L1693.5 489.6L1694 504.2L1694.5 491.7L1695 493L1695.5 421.5L1696 317.2L1696.5 195.3L1697 298.7L1697.5 391.3L1698 468.3L1698.5 484.7L1699 500.9L1699.5 488L1700 500.3L1700.5 486.4L1701 499.7L1701.5 488.9L1702 501.6L1702.5 488.7L1703 499.2L1703.5 490.1L1704 499.3L1704.5 487.8L1705 494.7L1705.5 482.5L1706 496.3L1706.5 463.6L1707 490.1L1707.5 487.5L1708 498.1L1708.5 491.5L1709 499.7L1709.5 490.6L1710 499.8L1710.5 490.7L1711 500.2L1711.5 493.1L1712 502.8L1712.5 492.9L1713 503.7L1713.5 491.1L1714 505.5L1714.5 489.4L1715 502.3L1715.5 491.2L1716 505L1716.5 491L1717 501.9L1717.5 489.8L1718 503L1718.5 490L1719 504.4L1719.5 486.1L1720 506.7L1720.5 490.8L1721 501.8L1721.5 490.5L1722 502L1722.5 489L1723 504.2L1723.5 488.3L1724 502.9L1724.5 487.6L1725 502.7L1725.5 490.9L1726 504L1726.5 490.3L1727 502.5L1727.5 489.1L1728 502.4L1728.5 490.3L1729 501.2L1729.5 485.5L1730 502L1730.5 489.2L1731 497.7L1731.5 479L1732 496.6L1732.5 484.3L1733 499.1L1733.5 486.3L1734 500L1734.5 490.9L1735 503L1735.5 491.7L1736 505.7L1736.5 491.1L1737 506.4L1737.5 490.8L1738 504L1738.5 489.7L1739 501.6L1739.5 490.3L1740 501.9L1740.5 488.3L1741 500.6L1741.5 492.2L1742 503.7L1742.5 489.2L1743 504.6L1743.5 491L1744 503L1744.5 490.2L1745 502.2L1745.5 489.7L1746 504.9L1746.5 491.4L1747 504L1747.5 492.1L1748 502.7L1748.5 492L1749 504.1L1749.5 490.2L1750 507L1750.5 486.3L1751 508L1751.5 485.7L1752 502.7L1752.5 490.6L1753 502.9L1753.5 491.1L1754 500.7L1754.5 490.3L1755 507.5L1755.5 491.2L1756 504.8L1756.5 492.1L1757 503.1L1757.5 493.5L1758 502.6L1758.5 490.3L1759 505.4L1759.5 491.1L1760 502.4L1760.5 491.7L1761 502.8L1761.5 492.1L1762 501.3L1762.5 489L1763 499L1763.5 490.1L1764 498.6L1764.5 487.5L1765 498.5L1765.5 489.5L1766 500.3L1766.5 489.8L1767 500.6L1767.5 490.2L1768 500.1L1768.5 490.4L1769 503.4L1769.5 479.6L1770 497.2L1770.5 490.9L1771 502.3L1771.5 492.7L1772 502.6L1772.5 492.1L1773 502.2L1773.5 491.6L1774 503.9L1774.5 488.3L1775 503.4L1775.5 490.8L1776 500.6L1776.5 490.6L1777 502.5L1777.5 486.5L1778 498.5L1778.5 486.9L1779 500.1L1779.5 490.8L1780 504.3L1780.5 487.3L1781 502.3L1781.5 488.8L1782 503.8L1782.5 488.1L1783 501.6L1783.5 490.1L1784 501.6L1784.5 488.8L1785 500.3L1785.5 490.5L1786 503.1L1786.5 490L1787 500.3L1787.5 490.7L1788 500.5L1788.5 489.2L1789 502.5L1789.5 487.5L1790 501L1790.5 483.5L1791 501.8L1791.5 488.5L1792 500.4L1792.5 490.3L1793 500.5L1793.5 490.6L1794 500.7L1794.5 486.6L1795 500.4L1795.5 490.3L1796 500L1796.5 486.8L1797 500.3L1797.5 483.3L1798 497.9L1798.5 483.8L1799 494.4L1799.5 475.4L1800 492.4L1800.5 483.8L1801 496.4L1801.5 488.3L1802 499.3L1802.5 486.3L1803 499.8L1803.5 489.9L1804 501L1804.5 491.4L1805 501.2L1805.5 488.8L1806 501.3L1806.5 490.1L1807 500.9L1807.5 489.6L1808 503.2L1808.5 491.7L1809 504.7L1809.5 492.9L1810 504.5L1810.5 492.6L1811 502.6L1811.5 492.7L1812 501.8L1812.5 490.4L1813 501.8L1813.5 492.1L1814 500.6L1814.5 490.1L1815 501.3L1815.5 489.9L1816 501.8L1816.5 491.2L1817 500.2L1817.5 489.8L1818 502.9L1818.5 490.6L1819 501.3L1819.5 487.4L1820 500.6L1820.5 490.4L1821 504.7L1821.5 489.1L1822 504L1822.5 491.1L1823 502L1823.5 490.5L1824 501.8L1824.5 489.8L1825 501.7L1825.5 489.7L1826 502.5L1826.5 490.5L1827 501.6L1827.5 488.4L1828 502L1828.5 491.2L1829 504L1829.5 487.5L1830 504.8L1830.5 487L1831 505L1831.5 490.6L1832 500.8L1832.5 487.5L1833 500.2L1833.5 487.1L1834 501.7L1834.5 490.5L1835 500.2L1835.5 483.7L1836 502L1836.5 489.2L1837 505.7L1837.5 483L1838 503.3L1838.5 488.3L1839 502.8L1839.5 489.5L1840 505.8L1840.5 490.6L1841 501.2L1841.5 488.5L1842 502.8L1842.5 492.1L1843 500.9L1843.5 491.1L1844 503.2L1844.5 488.7L1845 501.9L1845.5 491.9L1846 502.1L1846.5 485.5L1847 503.7L1847.5 486.5L1848 501.5L1848.5 491.3L1849 501.2L1849.5 492L1850 504.1L1850.5 493.3L1851 501.5L1851.5 494.4L1852 504.1L1852.5 492.8L1853 503.3L1853.5 491L1854 508.8L1854.5 490.6L1855 501.6L1855.5 488.4L1856 503.5L1856.5 490L1857 503.2L1857.5 483.7L1858 486.2L1858.5 403.8L1859 454.3L1859.5 472.5L1860 499.6L1860.5 489.5L1861 502.7L1861.5 491L1862 503L1862.5 492.3L1863 501.1L1863.5 491.6L1864 501.2L1864.5 492.4L1865 506.2L1865.5 488.2L1866 505.7L1866.5 489.4L1867 502.5L1867.5 488.9L1868 506.5L1868.5 491.2L1869 503.2L1869.5 490.2L1870 503.4L1870.5 491.3L1871 502.8L1871.5 487.4L1872 501.3L1872.5 489.9L1873 502.3L1873.5 486.9L1874 506.6L1874.5 487.9L1875 505.5L1875.5 489.8L1876 501.7L1876.5 479L1877 497.8L1877.5 488.6L1878 501.1L1878.5 490.6L1879 502.5L1879.5 467.2L1880 396.3L1880.5 438.8L1881 479.1L1881.5 480.9L1882 497.5L1882.5 485.9L1883 489.9L1883.5 469.3L1884 446.8L1884.5 466L1885 484L1885.5 462.6L1886 489.3L1886.5 489.7L1887 503.8L1887.5 491.5L1888 501.3L1888.5 492.8L1889 501.8L1889.5 491.9L1890 506.1L1890.5 490.2L1891 504L1891.5 489.1L1892 500.8L1892.5 490.5L1893 508.2L1893.5 490.1L1894 501.4L1894.5 489.7L1895 503.5L1895.5 488.9L1896 498.8L1896.5 485.8L1897 499.3L1897.5 489.7L1898 500.5L1898.5 489.6L1899 499.9L1899.5 489.8L1900 501.3L1900.5 490.3L1901 500.2L1901.5 489L1902 505L1902.5 488.8L1903 504L1903.5 488.5L1904 502.4L1904.5 484.2L1905 500.6L1905.5 489.9L1906 500.1L1906.5 489.1L1907 502.5L1907.5 491.5L1908 501.9L1908.5 490.4L1909 502.6L1909.5 489.6L1910 503.8L1910.5 488.6L1911 499.3L1911.5 487.5L1912 492.6L1912.5 475.1L1913 494L1913.5 487.5L1914 502.3L1914.5 489.7L1915 504.5L1915.5 491.8L1916 503.6L1916.5 491.3L1917 507.2L1917.5 491.8L1918 501.6L1918.5 487.6L1919 502.9L1919.5 485.7L1920 502.7L1920.5 484.1L1921 502.1L1921.5 486.9L1922 503.4L1922.5 487L1923 501.9L1923.5 490.6L1924 504.4L1924.5 479.1L1925 501.1L1925.5 489.2L1926 501.9L1926.5 488.2L1927 502.4L1927.5 488.3L1928 501.7L1928.5 488.1L1929 502.9L1929.5 486.9L1930 501.7L1930.5 487.7L1931 502.2L1931.5 489.6L1932 501.2L1932.5 491.9L1933 500.4L1933.5 491.7L1934 500.4L1934.5 489.8L1935 503.6L1935.5 490.2L1936 505.4L1936.5 488.9L1937 504.2L1937.5 489.7L1938 502.5L1938.5 490.9L1939 501.8L1939.5 489.9L1940 500.3L1940.5 491.4" stroke="#ff7f0e"/>
<path d="M100.5 511.8L101 523.7L101.5 510L102 521.8L102.5 512.5L103 526.5L103.5 513.1L104 523.1L104.5 513.2L105 523.8L105.5 515.7L106 527L106.5 514.6L107 525.3L107.5 511.1L108 524.9L108.5 505.3L109 524.1L109.5 511.6L110 528.1L110.5 510.8L111 528.1L111.5 514.2L112 524.2L112.5 514.1L113 524.6L113.5 515L114 523.3L114.5 513.8L115 522.9L115.5 515.1L116 522.8L116.5 516.1L117 526.9L117.5 516.1L118 524.1L118.5 516.2L119 524L119.5 516.3L120 530.9L120.5 515.5L121 527.6L121.5 517.1L122 523.6L122.5 516.1L123 524.2L123.5 515.6L124 522.5L124.5 515.1L125 524.4L125.5 513.2L126 524.2L126.5 511.5L127 525.8L127.5 507.1L128 525.6L128.5 512.6L129 524.6L129.5 506L130 521.9L130.5 515.3L131 523.6L131.5 515.6L132 523.4L132.5 516.6L133 523.4L133.5 515.7L134 524.6L134.5 510.6L135 524.8L135.5 514.8L136 522.6L136.5 514.7L137 528L137.5 513.2L138 527.7L138.5 513.5L139 529.4L139.5 503.6L140 524.4L140.5 512.5L141 526.3L141.5 511.5L142 527.6L142.5 513.4L143 526.6L143.5 509.7L144 527.2L144.5 506.6L145 527.5L145.5 509.8L146 525.6L146.5 502.9L147 523.4L147.5 511.5L148 522.6L148.5 513.3L149 523.9L149.5 513.3L150 523.4L150.5 510.1L151 523.8L151.5 514.5L152 525.6L152.5 512.8L153 523.2L153.5 511.9L154 524L154.5 514.3L155 523.9L155.5 515.1L156 525.9L156.5 514.2L157 528.6L157.5 514.2L158 529.5L158.5 514.5L159 526.2L159.5 514.5L160 523.4L160.5 512.7L161 524.5L161.5 512.8L162 524.2L162.5 514.1L163 522.4L163.5 515.2L164 523.2L164.5 513.6L165 524.8L165.5 515.1L166 522.3L166.5 515.9L167 522.6L167.5 514.4L168 521.1L168.5 516.2L169 522.2L169.5 512.1L170 524.4L170.5 513.8L171 522.6L171.5 515L172 522.9L172.5 514.1L173 526.9L173.5 516.4L174 524.6L174.5 515.7L175 526.2L175.5 517L176 524.7L176.5 516.6L177 525.5L177.5 514.9L178 529.3L178.5 514.8L179 526.3L179.5 515.5L180 537.4L180.5 514L181 528.4L181.5 514.5L182 528.9L182.5 513.4L183 527.4L183.5 515.4L184 525.1L184.5 515.1L185 524L185.5 515.2L186 522.7L186.5 514.3L187 524.6L187.5 515.6L188 525.7L188.5 516.1L189 527.4L189.5 515.9L190 525.2L190.5 515.3L191 525L191.5 513.7L192 523.5L192.5 513.6L193 522.3L193.5 510.5L194 521.5L194.5 509.6L195 522.5L195.5 509.2L196 521.5L196.5 514.7L197 522.3L197.5 514.7L198 521.9L198.5 515.8L199 523.1L199.5 514L200 523.8L200.5 515.4L201 524.1L201.5 515.5L202 522.4L202.5 515.4L203 523.1L203.5 515.4L204 525.1L204.5 515.3L205 524.1L205.5 515.8L206 524.7L206.5 513.5L207 527.2L207.5 514.2L208 524.7L208.5 513L209 526.3L209.5 512.9L210 525.9L210.5 515.1L211 529.3L211.5 504.8L212 525.6L212.5 515.6L213 524.1L213.5 516L214 523.3L214.5 514.3L215 523.3L215.5 512.9L216 523.7L216.5 513.4L217 523.4L217.5 515.4L218 523.7L218.5 515.9L219 524.3L219.5 516.3L220 524.3L220.5 516.1L221 525.1L221.5 516.9L222 527L222.5 513.9L223 525.8L223.5 512.8L224 515.7L224.5 500.3L225 512.1L225.5 506.8L226 516.2L226.5 510.7L227 521L227.5 511.6L228 521.9L228.5 513L229 524L229.5 515.9L230 535.3L230.5 517.2L231 528.8L231.5 515.2L232 526L232.5 516.9L233 526.5L233.5 515.4L234 526.8L234.5 514.9L235 524.7L235.5 516.7L236 523.9L236.5 516.5L237 525.4L237.5 516.7L238 523.5L238.5 516.1L239 527.8L239.5 515.7L240 525.7L240.5 514.1L241 526.4L241.5 511.4L242 527.1L242.5 512.5L243 526L243.5 513.7L244 525.2L244.5 513.3L245 523.8L245.5 514.2L246 522.1L246.5 511.3L247 517L247.5 508.7L248 523.4L248.5 511.8L249 526.1L249.5 509.4L250 526.5L250.5 512.9L251 526.5L251.5 514.2L252 526.2L252.5 515.2L253 527L253.5 514.8L254 527.1L254.5 514.7L255 527.3L255.5 514.4L256 532.3L256.5 515.6L257 527.2L257.5 514.7L258 526.3L258.5 515.4L259 524.9L259.5 515.7L260 526.9L260.5 514.4L261 523.8L261.5 514.3L262 523L262.5 516L263 524L263.5 514.8L264 522.7L264.5 511.6L265 523.2L265.5 514.3L266 522.7L266.5 514.2L267 523.8L267.5 511.7L268 525.5L268.5 515.3L269 524.5L269.5 510.3L270 519.7L270.5 493L271 441.9L271.5 353.7L272 400L272.5 434.4L273 474.4L273.5 491.3L274 513.5L274.5 512L275 524.4L275.5 514.2L276 522.9L276.5 514.1L277 526.6L277.5 513.7L278 523.7L278.5 515.4L279 528.7L279.5 513L280 528.5L280.5 511.1L281 527.1L281.5 513.1L282 525L282.5 514.9L283 526.4L283.5 514.6L284 526.1L284.5 515.3L285 525.1L285.5 517L286 528.6L286.5 516.1L287 525L287.5 513.6L288 524.5L288.5 514.3L289 531.3L289.5 515.2L290 525.4L290.5 516L291 525.2L291.5 513.5L292 529.8L292.5 516.3L293 524.9L293.5 516.4L294 531.4L294.5 515.7L295 523.6L295.5 516.5L296 524L296.5 516.9L297 523.7L297.5 515.6L298 526.1L298.5 516.1L299 525.1L299.5 514.1L300 524.3L300.5 512.3L301 528.3L301.5 512.7L302 525.2L302.5 512.3L303 521.7L303.5 510.6L304 521.6L304.5 513.5L305 526.6L305.5 513.8L306 523.4L306.5 509.5L307 524.8L307.5 514.7L308 523.4L308.5 514.3L309 526.2L309.5 510.8L310 526.4L310.5 516.4L311 526.6L311.5 518.4L312 525.9L312.5 518.6L313 526.8L313.5 518.4L314 526.7L314.5 518.1L315 526.5L315.5 514.9L316 523.5L316.5 513.9L317 522.1L317.5 511.3L318 522.1L318.5 513.5L319 522L319.5 514.5L320 524.8L320.5 515L321 525.5L321.5 515.6L322 525.9L322.5 516.7L323 525.8L323.5 516.2L324 524.1L324.5 516.2L325 523.8L325.5 512.4L326 525.2L326.5 513.2L327 524.9L327.5 516.6L328 525.9L328.5 516.1L329 529.6L329.5 499.2L330 524.9L330.5 515L331 527.1L331.5 515.7L332 527.5L332.5 515.7L333 526L333.5 513.9L334 524.9L334.5 515.1L335 526L335.5 515.3L336 524.1L336.5 514.7L337 524L337.5 513.7L338 523.7L338.5 513.8L339 524.9L339.5 515.6L340 524.3L340.5 514.7L341 523.5L341.5 515L342 524.2L342.5 514L343 524.4L343.5 513.8L344 525.1L344.5 515.3L345 525.4L345.5 514.8L346 525.1L346.5 515.9L347 524.5L347.5 516.1L348 525.9L348.5 514.6L349 526.7L349.5 514.3L350 525L350.5 515.3L351 523.3L351.5 515.9L352 525.5L352.5 516.1L353 523.8L353.5 516.8L354 525.3L354.5 517.6L355 524L355.5 516.3L356 524.2L356.5 516.3L357 524.1L357.5 514.6L358 525.9L358.5 514.8L359 526.3L359.5 515.7L360 525.3L360.5 513.8L361 527.7L361.5 514.8L362 527.2L362.5 515.5L363 523.2L363.5 514.5L364 523.5L364.5 515.7L365 524.4L365.5 512.2L366 522.9L366.5 515.3L367 523.5L367.5 515.4L368 525.9L368.5 514.7L369 526.4L369.5 516.1L370 524.1L370.5 511.9L371 525.4L371.5 516L372 524.9L372.5 514.6L373 524.9L373.5 516.1L374 525.7L374.5 511.2L375 526.6L375.5 514.6L376 527.5L376.5 515.8L377 525.1L377.5 515.5L378 528.9L378.5 515L379 525.4L379.5 517.9L380 527.7L380.5 516.7L381 527.7L381.5 515.2L382 527L382.5 512.9L383 526.4L383.5 512.3L384 525.2L384.5 515.2L385 525.5L385.5 514.1L386 525.1L386.5 513L387 527.2L387.5 512L388 527.1L388.5 516.1L389 526.8L389.5 516.2L390 524.7L390.5 514.7L391 524.6L391.5 514.9L392 526.1L392.5 514.6L393 528.7L393.5 513.5L394 523.5L394.5 512.8L395 527.8L395.5 514.3L396 527.9L396.5 513.2L397 524.8L397.5 510.7L398 526.2L398.5 512.2L399 523.9L399.5 514.2L400 524.3L400.5 515.4L401 523.4L401.5 515.8L402 526L402.5 516L403 524L403.5 516.5L404 524.8L404.5 515.6L405 525.9L405.5 515.8L406 528.5L406.5 514.3L407 524.8L407.5 515.8L408 525.4L408.5 514L409 523.2L409.5 513.9L410 523.2L410.5 512.3L411 525.9L411.5 512.8L412 523.5L412.5 509.6L413 522.4L413.5 514.8L414 522.3L414.5 514.9L415 522.7L415.5 516.5L416 527.9L416.5 517.3L417 523.7L417.5 515.8L418 525.1L418.5 516.4L419 527.9L419.5 516.7L420 529.5L420.5 516.1L421 528.7L421.5 516.1L422 524.6L422.5 513.8L423 523.6L423.5 512.6L424 525.8L424.5 514.2L425 523.8L425.5 514.3L426 523.7L426.5 512.2L427 525.7L427.5 514.6L428 530.1L428.5 513.8L429 526.1L429.5 514.9L430 528.2L430.5 512.4L431 525.5L431.5 512.6L432 524.6L432.5 475L433 509.2L433.5 511.2L434 524.1L434.5 513.9L435 526.4L435.5 513.9L436 528.1L436.5 516L437 528.4L437.5 512.8L438 524.2L438.5 510.8L439 524.5L439.5 511.2L440 524.7L440.5 515.4L441 525.2L441.5 516.2L442 523.2L442.5 513.6L443 523.3L443.5 512.3L444 523.3L444.5 511.6L445 523L445.5 513.1L446 523.1L446.5 510.8L447 524L447.5 514.3L448 526.7L448.5 512.1L449 528.3L449.5 513.3L450 525.8L450.5 513.4L451 527L451.5 509.6L452 526L452.5 511.3L453 524.8L453.5 511.8L454 524.5L454.5 511.1L455 525.2L455.5 514.1L456 523.9L456.5 510.1L457 527.2L457.5 512.6L458 527.3L458.5 513.8L459 522.7L459.5 515.1L460 523.1L460.5 514.1L461 522.3L461.5 513.9L462 523.1L462.5 513.7L463 522.3L463.5 513.4L464 523L464.5 512.5L465 522.6L465.5 513.8L466 530.1L466.5 509.4L467 524L467.5 513.7L468 524.1L468.5 509.6L469 526.3L469.5 515.4L470 523.6L470.5 513.3L471 523.9L471.5 514.5L472 527.4L472.5 514.6L473 529.1L473.5 513.5L474 528.8L474.5 516.3L475 528L475.5 515.2L476 530.3L476.5 516.8L477 527.6L477.5 515.3L478 529.5L478.5 515.3L479 528.6L479.5 513.2L480 525.6L480.5 514.4L481 525.9L481.5 516.2L482 525.6L482.5 514.1L483 526.2L483.5 515.8L484 524.1L484.5 514.3L485 524.2L485.5 512.2L486 523.6L486.5 516.4L487 525.7L487.5 515.4L488 524.3L488.5 517L489 526.8L489.5 514.8L490 525.7L490.5 514.6L491 526.8L491.5 515.2L492 524L492.5 508.3L493 524.6L493.5 513.7L494 524.5L494.5 512.4L495 525.3L495.5 511.7L496 526.6L496.5 510.6L497 525.6L497.5 513.1L498 524.2L498.5 513.3L499 526.7L499.5 516.4L500 529.9L500.5 516.4L501 528.6L501.5 516.8L502 526.1L502.5 514.6L503 526L503.5 516.5L504 526L504.5 516.1L505 530L505.5 517L506 531.5L506.5 517.7L507 529.2L507.5 516.1L508 526.2L508.5 514.6L509 522L509.5 502.5L510 498.6L510.5 471.8L511 455.7L511.5 419.2L512 452.5L512.5 463.6L513 468L513.5 441L514 477.2L514.5 483.1L515 486.5L515.5 459.8L516 476.9L516.5 476.2L517 493.5L517.5 490.9L518 504.3L518.5 502L519 513.5L519.5 504.8L520 519.9L520.5 510.7L521 521.7L521.5 512.2L522 523.1L522.5 511.7L523 523.6L523.5 512.4L524 524L524.5 509.9L525 523.6L525.5 511.5L526 524L526.5 510.1L527 524L527.5 513.8L528 524.7L528.5 516L529 528L529.5 516.2L530 524.4L530.5 514.4L531 525.7L531.5 515.7L532 525.1L532.5 516.2L533 527.9L533.5 515.3L534 525L534.5 517.1L535 528.8L535.5 515.3L536 524.3L536.5 515.8L537 523.8L537.5 514.7L538 523L538.5 514.5L539 525.5L539.5 514.5L540 524.3L540.5 514.6L541 523.4L541.5 515L542 526.2L542.5 515L543 526L543.5 514.6L544 528.9L544.5 513.4L545 527.4L545.5 517.5L546 526.3L546.5 516.5L547 526.3L547.5 517L548 524.1L548.5 516.4L549 528.6L549.5 515.8L550 526.4L550.5 512.5L551 526.2L551.5 516L552 525.6L552.5 515.9L553 525.9L553.5 516.1L554 523.8L554.5 515.2L555 525.4L555.5 513.3L556 525.2L556.5 513.3L557 523.8L557.5 508.2L558 519.8L558.5 510.1L559 525.1L559.5 509.8L560 524.8L560.5 514L561 528.1L561.5 514.8L562 527.8L562.5 516.5L563 525.6L563.5 516.8L564 525.3L564.5 516.6L565 524.3L565.5 516.5L566 530.9L566.5 515.9L567 525.8L567.5 512.6L568 527.4L568.5 515L569 530L569.5 515L570 528.3L570.5 513.1L571 526.9L571.5 514L572 527L572.5 513.7L573 529L573.5 515.3L574 530.8L574.5 513.9L575 528L575.5 514.9L576 527.7L576.5 513.1L577 527.3L577.5 511.9L578 527.9L578.5 513.2L579 524.1L579.5 513.6L580 523.4L580.5 513.8L581 523.4L581.5 514.1L582 522.8L582.5 510.8L583 524.5L583.5 515.3L584 524L584.5 513.9L585 525.6L585.5 516.5L586 525.8L586.5 517L587 527.6L587.5 516L588 524.7L588.5 517.1L589 524.1L589.5 516.5L590 525.5L590.5 517L591 532.3L591.5 516L592 524.4L592.5 516.3L593 525.6L593.5 514.7L594 526.4L594.5 514.9L595 525.1L595.5 514.3L596 525.4L596.5 511L597 525.7L597.5 509.6L598 523.8L598.5 514L599 523.3L599.5 512.9L600 523.1L600.5 514.8L601 524.7L601.5 514L602 525.2L602.5 516.8L603 525.3L603.5 515.8L604 526.8L604.5 514.7L605 525.5L605.5 515.5L606 525.9L606.5 515.2L607 525.4L607.5 515.6L608 523.5L608.5 515.2L609 524.9L609.5 514.4L610 524.2L610.5 515.4L611 524.7L611.5 512.6L612 524L612.5 513.4L613 524.5L613.5 514.6L614 523.4L614.5 513.3L615 523L615.5 513.3L616 526.3L616.5 514.7L617 523.8L617.5 514L618 524.4L618.5 512.8L619 523.5L619.5 514.4L620 522.6L620.5 515.2L621 523.3L621.5 514.6L622 526.1L622.5 515.7L623 526L623.5 515.9L624 527.5L624.5 515.1L625 524.6L625.5 515.7L626 524L626.5 515.7L627 524.4L627.5 515.5L628 526.8L628.5 510.8L629 524.9L629.5 512.4L630 524.7L630.5 510.7L631 525.8L631.5 514.2L632 524.2L632.5 515.3L633 524.6L633.5 513.4L634 527.8L634.5 517.1L635 526.1L635.5 516.8L636 524.3L636.5 517L637 523.8L637.5 513.2L638 523.5L638.5 514.2L639 523.8L639.5 513.4L640 523.5L640.5 513.2L641 523.6L641.5 514.6L642 523.5L642.5 514.4L643 521.9L643.5 515L644 522.9L644.5 514.3L645 522.4L645.5 516.2L646 522.2L646.5 514.2L647 522.8L647.5 516L648 522.6L648.5 515.2L649 522.7L649.5 515.6L650 524.8L650.5 515.8L651 523.9L651.5 515.4L652 522.8L652.5 516.5L653 524.3L653.5 517.1L654 524.4L654.5 515.4L655 528.2L655.5 514.7L656 528.4L656.5 514.4L657 527.4L657.5 511.5L658 526.2L658.5 515.2L659 525L659.5 515.3L660 524.5L660.5 513.8L661 523.7L661.5 514.8L662 525.3L662.5 516.3L663 524.8L663.5 511.1L664 529.2L664.5 512.9L665 531.7L665.5 511.5L666 525.1L666.5 513.4L667 525.1L667.5 511.6L668 528.9L668.5 513.2L669 526.9L669.5 513.8L670 525.1L670.5 513.5L671 525.9L671.5 515.4L672 526.9L672.5 515.3L673 524.5L673.5 517.1L674 524L674.5 514.8L675 523.6L675.5 514.8L676 524.8L676.5 515.6L677 523.2L677.5 516.1L678 525.5L678.5 509.8L679 523.9L679.5 514.5L680 527.7L680.5 510.8L681 525.2L681.5 514.4L682 524.3L682.5 514.8L683 524.9L683.5 515.8L684 523.5L684.5 514.2L685 523.1L685.5 516.3L686 525.9L686.5 515.2L687 525.4L687.5 513.8L688 524.8L688.5 515.1L689 527.3L689.5 514.8L690 526.8L690.5 513.4L691 525.9L691.5 515.8L692 523.5L692.5 513.9L693 524L693.5 514.8L694 525L694.5 515.2L695 525.5L695.5 514.3L696 526.1L696.5 513.9L697 528.7L697.5 514.5L698 529.2L698.5 513L699 527.7L699.5 516L700 525.1L700.5 511.6L701 526.8L701.5 513.8L702 527.9L702.5 511.1L703 524.8L703.5 515.2L704 522.7L704.5 515.4L705 523.4L705.5 514.1L706 526.3L706.5 513.4L707 522.7L707.5 510.3L708 523L708.5 514.9L709 524.1L709.5 514.6L710 522.9L710.5 515.2L711 525.9L711.5 501L712 520.3L712.5 509.7L713 524.8L713.5 513.4L714 524.5L714.5 514.9L715 524.5L715.5 515.2L716 525.6L716.5 511.1L717 524.3L717.5 512.8L718 525.6L718.5 514.5L719 526.7L719.5 512.2L720 525.9L720.5 515.4L721 526L721.5 516L722 523.1L722.5 510.6L723 524L723.5 514.7L724 526.2L724.5 513.9L725 525.7L725.5 514.6L726 526.3L726.5 511.2L727 525L727.5 514.4L728 526.4L728.5 514.3L729 528.5L729.5 514.2L730 526.9L730.5 515.4L731 528L731.5 514.6L732 523.6L732.5 513L733 524.4L733.5 514.5L734 524.1L734.5 515.1L735 523.2L735.5 513.5L736 523.8L736.5 513.9L737 526.8L737.5 512.3L738 524.1L738.5 514.2L739 524.8L739.5 512.9L740 525.2L740.5 514.9L741 524.1L741.5 513.6L742 523.3L742.5 507.1L743 525.3L743.5 512L744 527.8L744.5 514.1L745 524.6L745.5 513.2L746 526L746.5 516.9L747 527.4L747.5 516.4L748 527L748.5 517.1L749 526.2L749.5 517.1L750 525.5L750.5 516L751 524.1L751.5 515.6L752 524.3L752.5 514.7L753 523L753.5 512.9L754 524.6L754.5 514.6L755 526.9L755.5 514L756 522.8L756.5 512.2L757 522.8L757.5 512.7L758 523.8L758.5 513.4L759 524.8L759.5 510.8L760 525.7L760.5 512.9L761 527.3L761.5 514.3L762 529.4L762.5 513.4L763 525L763.5 514.8L764 524.4L764.5 511.3L765 526.2L765.5 516.7L766 529.2L766.5 516.4L767 528.1L767.5 515.4L768 524.7L768.5 514.9L769 525L769.5 512.1L770 525.4L770.5 513.9L771 524.5L771.5 515.2L772 526.2L772.5 510.3L773 524.2L773.5 515.4L774 526.5L774.5 513.6L775 524.6L775.5 510.8L776 523.5L776.5 508.9L777 522.5L777.5 514.1L778 523.5L778.5 510.9L779 523.5L779.5 514.5L780 523.7L780.5 515.9L781 525.8L781.5 515.4L782 525.3L782.5 516.2L783 523.7L783.5 516.3L784 524L784.5 516L785 523.9L785.5 512.2L786 524.1L786.5 514L787 530L787.5 513.7L788 504L788.5 512.9L789 523.3L789.5 515.8L790 524.1L790.5 515.4L791 525.8L791.5 515.9L792 530.2L792.5 514.1L793 524.2L793.5 515.7L794 526.5L794.5 513.8L795 524.6L795.5 515L796 523.7L796.5 516.9L797 526.2L797.5 516.5L798 529.9L798.5 516.8L799 531L799.5 515.2L800 527.2L800.5 514.1L801 525.4L801.5 514.9L802 524.3L802.5 515.7L803 531.2L803.5 510.6L804 524L804.5 511.5L805 526.9L805.5 512.3L806 526L806.5 509.7L807 525.4L807.5 514.2L808 524.4L808.5 514.3L809 524.4L809.5 513.3L810 528.1L810.5 514.5L811 527.1L811.5 509.7L812 526.5L812.5 510.9L813 525.8L813.5 512.5L814 525.2L814.5 514L815 524.7L815.5 508.9L816 524.7L816.5 515.6L817 526.8L817.5 513.7L818 529.1L818.5 514.9L819 525.8L819.5 514.5L820 524.7L820.5 515.1L821 524.2L821.5 516.4L822 524.7L822.5 516.4L823 525.4L823.5 515.3L824 524.9L824.5 513.1L825 527.1L825.5 516.1L826 525.7L826.5 516.1L827 524.8L827.5 515.6L828 528.1L828.5 515.4L829 524.5L829.5 516.6L830 527.3L830.5 517L831 524.1L831.5 515.8L832 524.4L832.5 516L833 510.7L833.5 445.1L834 487.5L834.5 502L835 520L835.5 513.5L836 525.1L836.5 514.9L837 523.6L837.5 514.3L838 523.3L838.5 514.4L839 522.8L839.5 509.4L840 523.6L840.5 514.6L841 525.1L841.5 509L842 524.8L842.5 509.6L843 529L843.5 512.9L844 525.3L844.5 515.5L845 525.3L845.5 515.8L846 524.4L846.5 515L847 523.6L847.5 514.5L848 523.2L848.5 513.7L849 522.8L849.5 514.3L850 523.9L850.5 515L851 525.5L851.5 515.7L852 526.5L852.5 515.5L853 530.5L853.5 513.7L854 529.1L854.5 513.6L855 526.5L855.5 516L856 526.8L856.5 513.7L857 529.3L857.5 514.5L858 525.4L858.5 515.6L859 528.2L859.5 514.1L860 529.8L860.5 516L861 523.8L861.5 515.3L862 524.8L862.5 511.9L863 526.2L863.5 508.9L864 522.8L864.5 514.9L865 522.7L865.5 513.8L866 524.2L866.5 515.8L867 524.4L867.5 515L868 523.1L868.5 514.2L869 524.5L869.5 509.8L870 523.8L870.5 511.5L871 525.6L871.5 515.2L872 525.9L872.5 514.9L873 526.3L873.5 512.9L874 523.1L874.5 512L875 523.1L875.5 512.9L876 522.9L876.5 514.4L877 523.1L877.5 515.4L878 522.5L878.5 512.9L879 525.5L879.5 515.7L880 525.8L880.5 514.3L881 524.7L881.5 509.1L882 525L882.5 512L883 526.9L883.5 507.5L884 525.7L884.5 514L885 523.7L885.5 514.6L886 524.4L886.5 516.4L887 532.8L887.5 517.7L888 526.6L888.5 517.3L889 528.1L889.5 516.7L890 525.4L890.5 516.9L891 525.7L891.5 516L892 523.9L892.5 510L893 524.9L893.5 515.3L894 525.4L894.5 515.3L895 528.2L895.5 510.8L896 523.2L896.5 516L897 524.8L897.5 516.1L898 525.4L898.5 517.1L899 525.2L899.5 515.8L900 525.5L900.5 517.5L901 525.7L901.5 516.5L902 528.7L902.5 518L903 526.1L903.5 517.2L904 528.7L904.5 515.8L905 525.8L905.5 515.9L906 499.7L906.5 510.4L907 527.1L907.5 513.9L908 528.9L908.5 511.9L909 526.4L909.5 511L910 523.6L910.5 514L911 524.2L911.5 510.5L912 526.4L912.5 514.3L913 526.8L913.5 513.2L914 523.8L914.5 514.5L915 524.3L915.5 514.8L916 524.2L916.5 514.6L917 524.1L917.5 515.5L918 525.8L918.5 515L919 528.1L919.5 515.6L920 531.2L920.5 515.7L921 526.2L921.5 515.4L922 526.8L922.5 511.7L923 523.1L923.5 491.9L924 518.3L924.5 509.8L925 523L925.5 514.9L926 525.9L926.5 511.9L927 524.2L927.5 515.6L928 526.5L928.5 512.8L929 525.2L929.5 513L930 525.3L930.5 514L931 527.1L931.5 512.6L932 525.6L932.5 514.2L933 525.8L933.5 515.6L934 527.4L934.5 515L935 526.6L935.5 515.5L936 525.5L936.5 515.9L937 527.8L937.5 513.8L938 526.6L938.5 509.9L939 524L939.5 512.6L940 525.6L940.5 513.6L941 525L941.5 513.2L942 523.3L942.5 514.4L943 523.8L943.5 514.9L944 524.5L944.5 516.5L945 524.1L945.5 515.3L946 523.4L946.5 514.9L947 524L947.5 513.3L948 524.2L948.5 515.4L949 525.9L949.5 512.7L950 526.5L950.5 511.4L951 526L951.5 511.7L952 525.6L952.5 504.5L953 526.9L953.5 515.6L954 528L954.5 512.3L955 527L955.5 515L956 525.9L956.5 514.2L957 527.3L957.5 514L958 525.7L958.5 514.8L959 525.2L959.5 514.8L960 526L960.5 515.3L961 525.5L961.5 514.2L962 524.8L962.5 515.8L963 526L963.5 517.6L964 525.9L964.5 514.9L965 524.1L965.5 516L966 528.2L966.5 514.4L967 526.6L967.5 516.1L968 526.8L968.5 516.3L969 524.4L969.5 515.7L970 526.3L970.5 514.4L971 524.7L971.5 516.1L972 526.3L972.5 516.8L973 525.7L973.5 515.3L974 524.3L974.5 514.3L975 525.2L975.5 513.3L976 528.1L976.5 511.9L977 532.6L977.5 513.4L978 527.4L978.5 512.2L979 527.5L979.5 513.7L980 526.1L980.5 515.7L981 524.1L981.5 511L982 526.7L982.5 516.2L983 524.2L983.5 516.5L984 525.9L984.5 516.3L985 525L985.5 516.6L986 523.3L986.5 516L987 524L987.5 516.1L988 523.9L988.5 515.7L989 527L989.5 515.6L990 526.7L990.5 514.9L991 525.9L991.5 516L992 524.1L992.5 514.7L993 527.3L993.5 514.8L994 524L994.5 513.8L995 523.7L995.5 515.2L996 524.6L996.5 512.5L997 526.7L997.5 514.5L998 526.1L998.5 513.9L999 527.3L999.5 509.5L1000 525.9L1000.5 514L1001 524.1L1001.5 513.7L1002 529.8L1002.5 511.4L1003 526.7L1003.5 508.4L1004 524.8L1004.5 512.2L1005 528.1L1005.5 513.7L1006 527.2L1006.5 510.7L1007 525.4L1007.5 515.5L1008 523.4L1008.5 513.9L1009 524L1009.5 507.6L1010 524.5L1010.5 512.3L1011 526.3L1011.5 514L1012 526.8L1012.5 508.1L1013 526.9L1013.5 504.7L1014 523.1L1014.5 511.6L1015 523.6L1015.5 512.4L1016 524.6L1016.5 513.5L1017 523L1017.5 512.9L1018 523.5L1018.5 512.1L1019 506L1019.5 513.3L1020 522.4L1020.5 515.9L1021 523.9L1021.5 502.4L1022 454.1L1022.5 354.4L1023 442.6L1023.5 489.4L1024 520.8L1024.5 511.9L1025 526.5L1025.5 514.8L1026 525.3L1026.5 510L1027 519.7L1027.5 498.2L1028 489.6L1028.5 460L1029 489.9L1029.5 498.4L1030 518L1030.5 511.5L1031 523.8L1031.5 515.2L1032 528.6L1032.5 514.5L1033 525.7L1033.5 514.9L1034 528.1L1034.5 511.2L1035 496.9L1035.5 416L1036 488.6L1036.5 508.7L1037 524.1L1037.5 503.6L1038 451.9L1038.5 501L1039 515.3L1039.5 467.8L1040 504.3L1040.5 506.1L1041 525.2L1041.5 512L1042 525.9L1042.5 513.2L1043 523.6L1043.5 511.6L1044 511L1044.5 479.2L1045 441.2L1045.5 479.5L1046 507.6L1046.5 506.8L1047 506.5L1047.5 477.5L1048 443.5L1048.5 389.9L1049 335.1L1049.5 383.8L1050 430.3L1050.5 440.7L1051 482.6L1051.5 499.3L1052 518.4L1052.5 508.6L1053 521.6L1053.5 513.4L1054 521.9L1054.5 514.9L1055 522L1055.5 513.9L1056 522.7L1056.5 512.6L1057 524.8L1057.5 513.2L1058 523.9L1058.5 514.7L1059 525.7L1059.5 514.1L1060 524.9L1060.5 513.3L1061 484.6L1061.5 503.4L1062 521L1062.5 516.1L1063 528.8L1063.5 515.6L1064 529.9L1064.5 511.3L1065 526.7L1065.5 513.5L1066 526.2L1066.5 512.6L1067 525.9L1067.5 515.6L1068 531L1068.5 514.7L1069 525.3L1069.5 515.9L1070 524.5L1070.5 514.7L1071 520L1071.5 509.7L1072 521.6L1072.5 512.2L1073 523.6L1073.5 510.1L1074 527.7L1074.5 510.7L1075 525L1075.5 514.4L1076 526.2L1076.5 513.5L1077 520.1L1077.5 472.8L1078 506.9L1078.5 508.3L1079 524.2L1079.5 513.1L1080 527.7L1080.5 513.3L1081 526.9L1081.5 515.5L1082 524.9L1082.5 515.9L1083 523.2L1083.5 513.2L1084 523.2L1084.5 514L1085 523.2L1085.5 514.5L1086 524.8L1086.5 513.5L1087 524L1087.5 515.2L1088 527.5L1088.5 513.2L1089 525.5L1089.5 514.1L1090 529.8L1090.5 514.6L1091 524.2L1091.5 511.6L1092 524.4L1092.5 512.6L1093 523.5L1093.5 514.4L1094 523.3L1094.5 512.3L1095 523.4L1095.5 514.4L1096 525.3L1096.5 513.2L1097 524.8L1097.5 514.2L1098 524.5L1098.5 513L1099 526.1L1099.5 515.1L1100 524.9L1100.5 511.8L1101 523.5L1101.5 515.9L1102 529.9L1102.5 516.4L1103 527.9L1103.5 514.4L1104 493.6L1104.5 507.8L1105 525.8L1105.5 514.2L1106 526.7L1106.5 515.2L1107 525.4L1107.5 513.8L1108 524.9L1108.5 515.2L1109 524L1109.5 514.2L1110 524.7L1110.5 515.6L1111 524.8L1111.5 516L1112 525.7L1112.5 514.4L1113 528.4L1113.5 514.8L1114 523.2L1114.5 514.9L1115 524.4L1115.5 514.8L1116 524.6L1116.5 514.6L1117 526.8L1117.5 516.6L1118 528L1118.5 512.4L1119 528.9L1119.5 514.5L1120 528.5L1120.5 513.1L1121 528L1121.5 515.2L1122 526.8L1122.5 510L1123 524.9L1123.5 509.1L1124 519.8L1124.5 512.6L1125 521.8L1125.5 514.1L1126 522.9L1126.5 514.9L1127 523.8L1127.5 515.1L1128 528.3L1128.5 515.9L1129 527.8L1129.5 514.7L1130 526.9L1130.5 514L1131 534.1L1131.5 515.3L1132 530.4L1132.5 513.4L1133 527.1L1133.5 514.3L1134 525.6L1134.5 512.7L1135 528L1135.5 512.5L1136 524.7L1136.5 496.1L1137 520.6L1137.5 508.4L1138 524.6L1138.5 512.6L1139 523.1L1139.5 512.1L1140 524.2L1140.5 514L1141 525.4L1141.5 515.5L1142 524.3L1142.5 515.5L1143 526.3L1143.5 514L1144 525L1144.5 513.9L1145 524L1145.5 514.3L1146 506.1L1146.5 509.6L1147 524.6L1147.5 516.2L1148 524.9L1148.5 513.5L1149 525.2L1149.5 514.2L1150 524.9L1150.5 514.7L1151 524.7L1151.5 511.1L1152 524.5L1152.5 511.6L1153 523L1153.5 512.2L1154 521.1L1154.5 515L1155 521.2L1155.5 514.6L1156 524.3L1156.5 515.8L1157 524.1L1157.5 515.6L1158 523.8L1158.5 512.5L1159 523.8L1159.5 516.4L1160 526.1L1160.5 515.8L1161 528L1161.5 514L1162 524L1162.5 515.8L1163 526.6L1163.5 515.8L1164 524.8L1164.5 514.2L1165 527.9L1165.5 511.7L1166 525.2L1166.5 513.2L1167 525.5L1167.5 510.9L1168 524.9L1168.5 515.1L1169 524.4L1169.5 511.9L1170 523.7L1170.5 514.4L1171 497.7L1171.5 511L1172 524L1172.5 516.2L1173 523.6L1173.5 516.6L1174 523.2L1174.5 516.9L1175 525.7L1175.5 515.4L1176 524.6L1176.5 515.2L1177 525.4L1177.5 511.4L1178 524.9L1178.5 512.9L1179 506.7L1179.5 513.7L1180 527.2L1180.5 516.7L1181 524.1L1181.5 512.8L1182 525.5L1182.5 515.3L1183 525.9L1183.5 513.7L1184 525.1L1184.5 515.7L1185 524.3L1185.5 515.1L1186 524.4L1186.5 516.1L1187 528.4L1187.5 515L1188 523L1188.5 516.3L1189 523.4L1189.5 514.7L1190 523.4L1190.5 515.3L1191 523.7L1191.5 516.2L1192 523.6L1192.5 513.8L1193 525L1193.5 512.9L1194 524.6L1194.5 514.2L1195 524.7L1195.5 510.9L1196 529.9L1196.5 513.5L1197 525.1L1197.5 514.3L1198 523.9L1198.5 513L1199 525.8L1199.5 516.8L1200 526.6L1200.5 517.4L1201 524.8L1201.5 516.3L1202 527.4L1202.5 513.7L1203 520.9L1203.5 507.7L1204 516.7L1204.5 509.1L1205 519.2L1205.5 512.3L1206 522.8L1206.5 513.9L1207 522.4L1207.5 515.7L1208 523.4L1208.5 514.9L1209 524.4L1209.5 513.7L1210 525.9L1210.5 512.4L1211 524.9L1211.5 512L1212 525.7L1212.5 515.7L1213 525.9L1213.5 512.8L1214 524.4L1214.5 515.8L1215 524.6L1215.5 517.5L1216 524.5L1216.5 515.9L1217 523.6L1217.5 513.6L1218 523.9L1218.5 514.2L1219 526.6L1219.5 514.4L1220 523.8L1220.5 513.6L1221 529.2L1221.5 515.9L1222 529.2L1222.5 517.3L1223 526.7L1223.5 516L1224 525.1L1224.5 514.6L1225 527.1L1225.5 516.1L1226 531.9L1226.5 515.4L1227 524.8L1227.5 513.6L1228 524.8L1228.5 512.6L1229 525.6L1229.5 513.9L1230 525.1L1230.5 510L1231 525.5L1231.5 513.3L1232 525.6L1232.5 515.7L1233 525.5L1233.5 514L1234 527.9L1234.5 516.2L1235 525.1L1235.5 516.1L1236 523.5L1236.5 515.2L1237 522.9L1237.5 515.6L1238 524.7L1238.5 510.4L1239 526.2L1239.5 507.7L1240 523.4L1240.5 512L1241 525.4L1241.5 512.2L1242 523.4L1242.5 515.3L1243 523.1L1243.5 515.8L1244 523.6L1244.5 512.8L1245 524L1245.5 515.4L1246 523.9L1246.5 516.6L1247 524.1L1247.5 514.1L1248 525.2L1248.5 516.9L1249 528.3L1249.5 516.2L1250 526.9L1250.5 517.4L1251 526.1L1251.5 516.5L1252 527L1252.5 514.6L1253 527L1253.5 513L1254 526.6L1254.5 515.2L1255 530.3L1255.5 514.6L1256 527.8L1256.5 511.3L1257 525.3L1257.5 511.3L1258 526.7L1258.5 515.1L1259 528L1259.5 513.3L1260 527.3L1260.5 516L1261 525.7L1261.5 515.1L1262 523.2L1262.5 513.4L1263 523.5L1263.5 514.3L1264 523.1L1264.5 513.7L1265 525.4L1265.5 511.6L1266 526.4L1266.5 513.1L1267 528.1L1267.5 515.2L1268 526.4L1268.5 515.3L1269 526.4L1269.5 515.1L1270 524.4L1270.5 515.7L1271 523.3L1271.5 516.5L1272 523.9L1272.5 515.9L1273 527.8L1273.5 495L1274 517.6L1274.5 512.2L1275 524.6L1275.5 515L1276 525.6L1276.5 515L1277 525.5L1277.5 514.8L1278 525.8L1278.5 512.8L1279 528.2L1279.5 513.1L1280 529L1280.5 515L1281 523.6L1281.5 515.1L1282 526L1282.5 516.9L1283 524.9L1283.5 514.2L1284 530.4L1284.5 513.1L1285 527.7L1285.5 510.7L1286 527.5L1286.5 514.1L1287 528L1287.5 510.9L1288 524.5L1288.5 513.4L1289 524.7L1289.5 514.6L1290 530L1290.5 514.8L1291 524.3L1291.5 513.1L1292 523.3L1292.5 514.4L1293 526L1293.5 512.8L1294 522.8L1294.5 514.1L1295 525.1L1295.5 514.5L1296 522.1L1296.5 509.4L1297 523L1297.5 511.5L1298 523.6L1298.5 511.5L1299 524.3L1299.5 512L1300 524.2L1300.5 512L1301 524.1L1301.5 513.4L1302 524.8L1302.5 512.4L1303 525.4L1303.5 515.7L1304 524.7L1304.5 510.6L1305 525L1305.5 515.3L1306 525L1306.5 514.8L1307 526.7L1307.5 511.9L1308 523.6L1308.5 513.9L1309 523.2L1309.5 511.6L1310 523.9L1310.5 514.5L1311 524.4L1311.5 515.8L1312 522.8L1312.5 516.7L1313 525.2L1313.5 515.4L1314 529.3L1314.5 517L1315 528.2L1315.5 516.1L1316 527.7L1316.5 515.3L1317 525.7L1317.5 516.6L1318 525.5L1318.5 516L1319 527.4L1319.5 514.7L1320 525.9L1320.5 514.9L1321 524.5L1321.5 511.8L1322 522.8L1322.5 515.4L1323 523.7L1323.5 514.4L1324 527L1324.5 513.8L1325 523.5L1325.5 507.8L1326 525L1326.5 512.8L1327 525.1L1327.5 512.9L1328 525.6L1328.5 515.1L1329 524.2L1329.5 514.5L1330 524.4L1330.5 512.7L1331 524.7L1331.5 510.6L1332 524.9L1332.5 513.2L1333 525.4L1333.5 513.3L1334 528.1L1334.5 506.9L1335 529.4L1335.5 512.7L1336 527.7L1336.5 515.1L1337 525.7L1337.5 515.6L1338 527.8L1338.5 513L1339 526.4L1339.5 511.8L1340 524.2L1340.5 513.8L1341 523.2L1341.5 512.8L1342 523.1L1342.5 511.1L1343 525.2L1343.5 512.7L1344 527.3L1344.5 514.9L1345 526.6L1345.5 515.2L1346 523.4L1346.5 514.7L1347 523.1L1347.5 514.3L1348 526.8L1348.5 514.3L1349 528.6L1349.5 513.3L1350 525.1L1350.5 515.2L1351 525.3L1351.5 513.4L1352 526.1L1352.5 508.6L1353 518.8L1353.5 513.4L1354 521.7L1354.5 514.8L1355 522.6L1355.5 517.2L1356 524.1L1356.5 504.1L1357 521.3L1357.5 514.8L1358 524.1L1358.5 515.6L1359 524.3L1359.5 514.6L1360 525.1L1360.5 513.4L1361 527.4L1361.5 514.5L1362 523.5L1362.5 516.9L1363 524.9L1363.5 517.1L1364 525.7L1364.5 516L1365 524L1365.5 514.1L1366 524.2L1366.5 512.4L1367 522.9L1367.5 510.2L1368 522.9L1368.5 514.3L1369 525.8L1369.5 513.1L1370 526.8L1370.5 511.3L1371 526.5L1371.5 512.7L1372 526L1372.5 513.4L1373 527.2L1373.5 515.1L1374 525.3L1374.5 513.3L1375 525.8L1375.5 512.4L1376 525.1L1376.5 514.7L1377 526.1L1377.5 516.4L1378 524.5L1378.5 515.1L1379 524L1379.5 514.3L1380 522.8L1380.5 513.9L1381 523.8L1381.5 514.3L1382 523.1L1382.5 510.7L1383 526.9L1383.5 514.4L1384 524.7L1384.5 514.3L1385 527.4L1385.5 512.3L1386 526.2L1386.5 513.5L1387 523.6L1387.5 510.3L1388 527.7L1388.5 514L1389 524.4L1389.5 513.5L1390 525.7L1390.5 512.3L1391 527.3L1391.5 512.1L1392 525.1L1392.5 512.3L1393 526.6L1393.5 513.3L1394 529.3L1394.5 513.3L1395 525.4L1395.5 517.5L1396 526.4L1396.5 517.4L1397 526.1L1397.5 513.1L1398 531.5L1398.5 516.4L1399 527.7L1399.5 515.5L1400 529.1L1400.5 512L1401 524.5L1401.5 514.3L1402 524.4L1402.5 514L1403 524.5L1403.5 510.4L1404 526.1L1404.5 512.7L1405 524.1L1405.5 514L1406 526L1406.5 513.9L1407 524.6L1407.5 514.4L1408 523.1L1408.5 514.1L1409 523.7L1409.5 514.1L1410 522.7L1410.5 512.8L1411 523.9L1411.5 514.5L1412 523.3L1412.5 512.7L1413 523.4L1413.5 514.7L1414 523.8L1414.5 511.3L1415 527.2L1415.5 513.2L1416 527.5L1416.5 514.7L1417 525.2L1417.5 513.3L1418 525.5L1418.5 515.9L1419 525.5L1419.5 513.7L1420 524.5L1420.5 515.6L1421 528.6L1421.5 515.9L1422 526.2L1422.5 516.9L1423 527.3L1423.5 518.4L1424 526.2L1424.5 518.6L1425 526.8L1425.5 517.7L1426 523.6L1426.5 513.9L1427 521L1427.5 511L1428 524L1428.5 512.1L1429 523.3L1429.5 514L1430 523.1L1430.5 512.7L1431 526.2L1431.5 515.5L1432 524.4L1432.5 515.3L1433 525.2L1433.5 515L1434 526.7L1434.5 514.8L1435 525.3L1435.5 515.5L1436 525.8L1436.5 514.6L1437 529.9L1437.5 513.3L1438 529.8L1438.5 514.7L1439 524.8L1439.5 517.2L1440 527L1440.5 517L1441 526.3L1441.5 515.2L1442 524.5L1442.5 514.6L1443 523L1443.5 514.8L1444 522.8L1444.5 515L1445 523.2L1445.5 515.2L1446 530.1L1446.5 513.6L1447 524.5L1447.5 515.4L1448 526.5L1448.5 516.2L1449 528.8L1449.5 511.9L1450 525.9L1450.5 512.8L1451 525.1L1451.5 514.4L1452 522.7L1452.5 513.1L1453 522.4L1453.5 515.3L1454 522.2L1454.5 514.9L1455 522.5L1455.5 515.9L1456 527.6L1456.5 515.1L1457 524.4L1457.5 515.6L1458 523.1L1458.5 516L1459 523.5L1459.5 512.6L1460 522.8L1460.5 515.6L1461 522.7L1461.5 513.7L1462 522.5L1462.5 514.6L1463 523.9L1463.5 515.3L1464 525.7L1464.5 516.2L1465 526.2L1465.5 513.7L1466 526L1466.5 513.2L1467 527L1467.5 514.2L1468 524.2L1468.5 513.9L1469 524.5L1469.5 515L1470 526.7L1470.5 515.4L1471 525.3L1471.5 514.8L1472 524.2L1472.5 515.2L1473 524.7L1473.5 513.1L1474 524.4L1474.5 513.9L1475 525.7L1475.5 514.6L1476 525.3L1476.5 514.8L1477 526.5L1477.5 511.5L1478 528L1478.5 513.6L1479 524.5L1479.5 513.5L1480 525.2L1480.5 512.9L1481 524.4L1481.5 512.9L1482 528.9L1482.5 513.2L1483 523.7L1483.5 514.7L1484 527.4L1484.5 508.2L1485 524.7L1485.5 514.7L1486 524.5L1486.5 513.9L1487 525.4L1487.5 515L1488 524.1L1488.5 515.8L1489 523.4L1489.5 515.1L1490 524.8L1490.5 514.6L1491 524.3L1491.5 516.8L1492 524.2L1492.5 516.3L1493 526.4L1493.5 514.6L1494 526.7L1494.5 513.7L1495 526.6L1495.5 514.6L1496 523.9L1496.5 515.1L1497 525.5L1497.5 514L1498 524.8L1498.5 513.1L1499 526.4L1499.5 512.7L1500 493.2L1500.5 509.4L1501 521.6L1501.5 514.9L1502 527.7L1502.5 516.2L1503 524.1L1503.5 514.8L1504 524.6L1504.5 514.9L1505 525.8L1505.5 513.5L1506 526.9L1506.5 512.9L1507 521L1507.5 470.8L1508 509.5L1508.5 508.2L1509 528.1L1509.5 512L1510 524.7L1510.5 515.7L1511 525.1L1511.5 514.7L1512 524.1L1512.5 514.5L1513 524.9L1513.5 515.5L1514 524.1L1514.5 511.2L1515 522.5L1515.5 514.7L1516 524.9L1516.5 515.3L1517 525.3L1517.5 510.1L1518 524.2L1518.5 509.7L1519 522.7L1519.5 514.5L1520 522.2L1520.5 513.1L1521 522.7L1521.5 512.1L1522 522L1522.5 513.7L1523 524.1L1523.5 511.2L1524 521L1524.5 492.2L1525 521.3L1525.5 513.8L1526 526.9L1526.5 512.9L1527 524.4L1527.5 516.4L1528 523.8L1528.5 516.1L1529 524L1529.5 516.2L1530 528.6L1530.5 514.7L1531 525.8L1531.5 514.3L1532 524.7L1532.5 514.3L1533 523.9L1533.5 512.7L1534 524.4L1534.5 513.4L1535 524.4L1535.5 511.9L1536 524.9L1536.5 511.2L1537 503.2L1537.5 510.9L1538 526.9L1538.5 516.6L1539 523.7L1539.5 516.4L1540 524.4L1540.5 515.7L1541 523.3L1541.5 515.8L1542 524.1L1542.5 512.8L1543 525.3L1543.5 514.5L1544 524.3L1544.5 510.6L1545 526.3L1545.5 515.2L1546 525.8L1546.5 513.8L1547 526.6L1547.5 514.3L1548 524.8L1548.5 516.7L1549 525.1L1549.5 511.3L1550 527.1L1550.5 516L1551 525.2L1551.5 516.5L1552 526.2L1552.5 516.1L1553 525.8L1553.5 514.3L1554 525.8L1554.5 515.5L1555 528.5L1555.5 513.2L1556 523.3L1556.5 515.2L1557 524.7L1557.5 511.9L1558 523.1L1558.5 512.4L1559 525.6L1559.5 512L1560 525.1L1560.5 512.5L1561 523.3L1561.5 513.2L1562 522.1L1562.5 515.5L1563 522.8L1563.5 511.8L1564 521.1L1564.5 491.7L1565 518.5L1565.5 509.5L1566 523.6L1566.5 514.4L1567 524.3L1567.5 513.5L1568 523.6L1568.5 506.7L1569 518.4L1569.5 467.8L1570 385L1570.5 434.8L1571 481.1L1571.5 497.3L1572 526.1L1572.5 512.3L1573 525.1L1573.5 513.6L1574 526.4L1574.5 515.6L1575 524L1575.5 515.3L1576 524L1576.5 514.9L1577 523L1577.5 511.8L1578 523.6L1578.5 515.6L1579 526.6L1579.5 513.1L1580 526.1L1580.5 511.9L1581 524.7L1581.5 515.6L1582 526.9L1582.5 516.1L1583 529L1583.5 514.8L1584 526.8L1584.5 514.4L1585 526.6L1585.5 516.1L1586 525.3L1586.5 515.8L1587 528.4L1587.5 514.8L1588 525.4L1588.5 515.2L1589 526.4L1589.5 516.4L1590 525.5L1590.5 514.2L1591 524.7L1591.5 515.6L1592 523.7L1592.5 515.4L1593 525.1L1593.5 516.3L1594 524L1594.5 516.5L1595 523.5L1595.5 516.1L1596 525.8L1596.5 514.1L1597 525.2L1597.5 515.2L1598 525.1L1598.5 511.1L1599 532.6L1599.5 511.7L1600 525.8L1600.5 511.2L1601 526L1601.5 509.3L1602 527.7L1602.5 515.4L1603 527L1603.5 515.7L1604 526.7L1604.5 512.3L1605 525.4L1605.5 514.5L1606 523.1L1606.5 515.2L1607 523.8L1607.5 513.3L1608 523.7L1608.5 511.2L1609 523.5L1609.5 516.6L1610 523.6L1610.5 514.3L1611 524.6L1611.5 514.9L1612 525.8L1612.5 515.5L1613 527.7L1613.5 516.7L1614 526.6L1614.5 515.7L1615 523.9L1615.5 517.4L1616 524.2L1616.5 515.8L1617 523L1617.5 513.3L1618 523.7L1618.5 513.8L1619 522.6L1619.5 515L1620 524.4L1620.5 512.2L1621 527.9L1621.5 515.5L1622 521.8L1622.5 513.3L1623 522.7L1623.5 514.5L1624 522.3L1624.5 515.2L1625 525.2L1625.5 513.7L1626 529.7L1626.5 515.3L1627 524.7L1627.5 515.4L1628 524.5L1628.5 516.1L1629 525L1629.5 515L1630 525.1L1630.5 515L1631 524.6L1631.5 512.5L1632 527.5L1632.5 512.4L1633 526L1633.5 515.1L1634 524.5L1634.5 513.6L1635 523.2L1635.5 515.7L1636 526.3L1636.5 513.4L1637 523.3L1637.5 512.4L1638 524.1L1638.5 514.1L1639 525.7L1639.5 515L1640 526.2L1640.5 512.6L1641 524.8L1641.5 509L1642 523.7L1642.5 511.7L1643 524L1643.5 510.1L1644 523.6L1644.5 514.3L1645 513.7L1645.5 447.8L1646 490.8L1646.5 505.1L1647 522.9L1647.5 516.5L1648 525.8L1648.5 514L1649 527.7L1649.5 513.5L1650 526.5L1650.5 513.2L1651 506.1L1651.5 509.4L1652 523L1652.5 511.1L1653 521.7L1653.5 512.8L1654 521.5L1654.5 512.6L1655 522.2L1655.5 514.3L1656 521.8L1656.5 515L1657 523.8L1657.5 515.7L1658 523.1L1658.5 515.9L1659 525.1L1659.5 516.3L1660 525.1L1660.5 512.3L1661 527.9L1661.5 510.4L1662 523.9L1662.5 512.6L1663 526L1663.5 515.9L1664 528.9L1664.5 514.6L1665 528.5L1665.5 515.2L1666 527.4L1666.5 517.5L1667 529.6L1667.5 517.2L1668 527.3L1668.5 514.6L1669 524.9L1669.5 511.8L1670 523.6L1670.5 512.9L1671 522.9L1671.5 515L1672 523.4L1672.5 513.3L1673 524.3L1673.5 514.1L1674 526.6L1674.5 515.3L1675 523.8L1675.5 514.9L1676 523.6L1676.5 510.9L1677 522.1L1677.5 514.5L1678 522.6L1678.5 510.8L1679 521.8L1679.5 511.6L1680 522L1680.5 511.5L1681 523.8L1681.5 516L1682 524.5L1682.5 517.1L1683 524.2L1683.5 517.7L1684 524.2L1684.5 517.7L1685 523.7L1685.5 516L1686 526.6L1686.5 516.3L1687 525.6L1687.5 513.6L1688 523.2L1688.5 514.4L1689 523.5L1689.5 512.1L1690 524.9L1690.5 515.9L1691 526.7L1691.5 515L1692 524.4L1692.5 514.8L1693 524L1693.5 514.6L1694 524.2L1694.5 513.3L1695 524.3L1695.5 508.6L1696 470.8L1696.5 361.7L1697 455.8L1697.5 499.9L1698 527.9L1698.5 510.1L1699 526.6L1699.5 513.7L1700 527L1700.5 512L1701 523.8L1701.5 513L1702 523L1702.5 511.1L1703 522.6L1703.5 513.6L1704 521.8L1704.5 513.7L1705 522.8L1705.5 516L1706 523.6L1706.5 515.7L1707 525.5L1707.5 516.1L1708 523.4L1708.5 514.9L1709 523.5L1709.5 515.8L1710 523.9L1710.5 512.2L1711 527.3L1711.5 511.6L1712 526.6L1712.5 514.3L1713 527.2L1713.5 512.8L1714 522.8L1714.5 512.8L1715 523.6L1715.5 514.4L1716 523.6L1716.5 513.5L1717 522.6L1717.5 514.1L1718 525.3L1718.5 506.9L1719 526.9L1719.5 508.9L1720 531.1L1720.5 509.2L1721 521.7L1721.5 509L1722 522.5L1722.5 508L1723 524.2L1723.5 509.7L1724 525L1724.5 513L1725 523.9L1725.5 513.3L1726 524.2L1726.5 510L1727 526.3L1727.5 513.6L1728 523.2L1728.5 513.5L1729 525.1L1729.5 513.9L1730 523.7L1730.5 514L1731 525.4L1731.5 513.1L1732 524.6L1732.5 513.2L1733 525.3L1733.5 515.1L1734 525.7L1734.5 514.1L1735 525.8L1735.5 517.2L1736 529.3L1736.5 516L1737 527.6L1737.5 516.5L1738 528.1L1738.5 516.2L1739 527.2L1739.5 515.4L1740 535.3L1740.5 517.2L1741 527.5L1741.5 515.9L1742 529L1742.5 515.6L1743 524.2L1743.5 514.7L1744 525.1L1744.5 515.8L1745 523.9L1745.5 513.5L1746 531.7L1746.5 515L1747 526.1L1747.5 516.5L1748 524.2L1748.5 515L1749 524.5L1749.5 515.3L1750 522.9L1750.5 513.6L1751 522.4L1751.5 513.3L1752 523.6L1752.5 513.5L1753 523.9L1753.5 514.1L1754 523.3L1754.5 514.3L1755 523.7L1755.5 515.9L1756 522.5L1756.5 513.1L1757 522.8L1757.5 513.5L1758 528.7L1758.5 515.1L1759 523.5L1759.5 512.7L1760 522.4L1760.5 512.2L1761 522.6L1761.5 513.2L1762 524.1L1762.5 511.6L1763 527.1L1763.5 511.2L1764 523.8L1764.5 510.5L1765 526.2L1765.5 513.1L1766 528.9L1766.5 514.1L1767 527.3L1767.5 513.5L1768 524.5L1768.5 515.8L1769 530.1L1769.5 514.5L1770 526.7L1770.5 515.6L1771 526.8L1771.5 515.1L1772 527.1L1772.5 512L1773 524.9L1773.5 513.8L1774 527L1774.5 515.3L1775 529L1775.5 513.7L1776 524.5L1776.5 510.4L1777 523.5L1777.5 512.6L1778 523.2L1778.5 513.8L1779 522.3L1779.5 513.1L1780 521.7L1780.5 513.8L1781 522.4L1781.5 509.7L1782 522L1782.5 514.4L1783 522.3L1783.5 513.9L1784 524.3L1784.5 513.3L1785 527.6L1785.5 514.6L1786 525.3L1786.5 514.2L1787 523.5L1787.5 514.2L1788 524.2L1788.5 515.4L1789 523.7L1789.5 514.9L1790 522.5L1790.5 514.7L1791 524.5L1791.5 509.9L1792 525L1792.5 513.2L1793 524.1L1793.5 514.4L1794 523.1L1794.5 515.4L1795 524.4L1795.5 510.2L1796 523.7L1796.5 514.2L1797 527.5L1797.5 514.6L1798 525.6L1798.5 514L1799 524.4L1799.5 512.8L1800 524.2L1800.5 512.8L1801 527.1L1801.5 512.9L1802 522.6L1802.5 513.9L1803 523.6L1803.5 515L1804 526.9L1804.5 516.3L1805 527.7L1805.5 515.4L1806 525.4L1806.5 513.7L1807 525.4L1807.5 514.3L1808 524.1L1808.5 515.3L1809 525.2L1809.5 516.7L1810 524.1L1810.5 514.2L1811 523.9L1811.5 514.2L1812 524.7L1812.5 514.6L1813 524.6L1813.5 513.4L1814 526.1L1814.5 508.5L1815 523.5L1815.5 509.1L1816 526.2L1816.5 510.5L1817 526.5L1817.5 515.3L1818 524L1818.5 513.7L1819 525.2L1819.5 510.6L1820 524.7L1820.5 514.6L1821 529.5L1821.5 514.9L1822 525.5L1822.5 511.5L1823 524.7L1823.5 514.7L1824 524.3L1824.5 511.8L1825 527.9L1825.5 514.5L1826 526.9L1826.5 514.3L1827 531.8L1827.5 515.1L1828 528.1L1828.5 515.8L1829 532L1829.5 514.5L1830 525.7L1830.5 515.1L1831 527L1831.5 514.6L1832 525.3L1832.5 515.3L1833 524.6L1833.5 514.6L1834 524.3L1834.5 512.1L1835 524.1L1835.5 514.1L1836 523.9L1836.5 513.3L1837 524L1837.5 515L1838 523.1L1838.5 512.3L1839 524L1839.5 515.9L1840 525.8L1840.5 514.7L1841 527.1L1841.5 516.2L1842 525L1842.5 513.7L1843 525.5L1843.5 515.1L1844 523.6L1844.5 508.5L1845 522.3L1845.5 512L1846 525.6L1846.5 511.3L1847 526.2L1847.5 511.1L1848 523.1L1848.5 511.8L1849 527.4L1849.5 509.5L1850 525.2L1850.5 512.9L1851 522.7L1851.5 514.1L1852 523.6L1852.5 515L1853 525.3L1853.5 515.7L1854 525.2L1854.5 512.4L1855 523.7L1855.5 514.5L1856 524.4L1856.5 517.3L1857 528.2L1857.5 514.2L1858 522.7L1858.5 494.4L1859 518.1L1859.5 513L1860 526.7L1860.5 514.1L1861 524.4L1861.5 508.1L1862 525.1L1862.5 514.1L1863 527L1863.5 515.5L1864 527.1L1864.5 516.4L1865 525.3L1865.5 514.5L1866 527L1866.5 513.3L1867 524.4L1867.5 513.6L1868 525.7L1868.5 515.8L1869 524.3L1869.5 511.7L1870 524.8L1870.5 510.9L1871 524.8L1871.5 513L1872 525.7L1872.5 513.9L1873 523.3L1873.5 514.1L1874 522.9L1874.5 513.2L1875 521.6L1875.5 514L1876 523.4L1876.5 511.7L1877 523L1877.5 510.5L1878 524.5L1878.5 512.4L1879 527.7L1879.5 505.7L1880 490.9L1880.5 504.6L1881 522.5L1881.5 511.5L1882 524.9L1882.5 512.7L1883 522.9L1883.5 513.8L1884 523.7L1884.5 512.6L1885 523.9L1885.5 513.8L1886 526.8L1886.5 511.6L1887 527L1887.5 510.3L1888 524.1L1888.5 510.4L1889 524.1L1889.5 512.2L1890 522.7L1890.5 511.5L1891 525L1891.5 509.9L1892 523.2L1892.5 514.3L1893 523.8L1893.5 514.7L1894 524L1894.5 513.7L1895 525.4L1895.5 514.6L1896 524.4L1896.5 513.7L1897 524.2L1897.5 514.3L1898 527L1898.5 515.4L1899 525.8L1899.5 515.2L1900 526.4L1900.5 513.2L1901 525L1901.5 511.3L1902 524.9L1902.5 514.2L1903 528.1L1903.5 514.2L1904 525.9L1904.5 509.5L1905 525.5L1905.5 515.9L1906 525.2L1906.5 514.7L1907 524.8L1907.5 516.9L1908 524.1L1908.5 515.7L1909 523.4L1909.5 514.9L1910 524.1L1910.5 513.7L1911 522.9L1911.5 516L1912 523.1L1912.5 514.2L1913 527.3L1913.5 516.4L1914 525.6L1914.5 515.8L1915 525.5L1915.5 514.9L1916 527.7L1916.5 513.1L1917 525.3L1917.5 515.2L1918 525L1918.5 513.7L1919 525.9L1919.5 513.8L1920 522.6L1920.5 514.6L1921 523.3L1921.5 513.5L1922 526.4L1922.5 512.6L1923 525L1923.5 514.5L1924 524.4L1924.5 515.1L1925 524.4L1925.5 514L1926 526.9L1926.5 513.1L1927 523.9L1927.5 514.8L1928 525.3L1928.5 515.3L1929 525.2L1929.5 516.3L1930 527.5L1930.5 517.1L1931 527.5L1931.5 514.6L1932 525.5L1932.5 515.3L1933 524.6L1933.5 517.1L1934 524L1934.5 512.8L1935 522.7L1935.5 516.4L1936 523.3L1936.5 513.4L1937 524.1L1937.5 513.9L1938 524.9L1938.5 512.9L1939 523.5L1939.5 509.7L1940 523.1L1940.5 508.3" stroke="#2ca02c"/>
<path d="M713.50 37.5V561.5" stroke="#000" stroke-width="1.1"/>
<path d="M1327.50 37.5V561.5" stroke="#000" stroke-width="1.1"/>
<path d="M100.5 428.9L101 432.6L101.5 428.6L102 432.9L102.5 428.5L103 433L103.5 428.1L104 431.7L104.5 429.1L105 431.8L105.5 428.5L106 431.4L106.5 428.3L107 431.7L107.5 428.6L108 431.7L108.5 428.8L109 431.8L109.5 429.2L110 432.9L110.5 429.1L111 432.3L111.5 429.6L112 433.1L112.5 429.2L113 432.7L113.5 428.8L114 431.8L114.5 429L115 431.9L115.5 429L116 432.1L116.5 428.9L117 433L117.5 429L118 431.7L118.5 429.1L119 433.7L119.5 429.2L120 432.2L120.5 429.1L121 433L121.5 429.1L122 433.1L122.5 429.3L123 433L123.5 429.3L124 432.3L124.5 428.2L125 432.6L125.5 428.8L126 432.8L126.5 429.4L127 432L127.5 429.2L128 432.4L128.5 428.8L129 432.2L129.5 429.7L130 432.7L130.5 428.7L131 432.3L131.5 429.4L132 432.4L132.5 429.3L133 433.4L133.5 429.5L134 432.4L134.5 428.6L135 432.3L135.5 429.3L136 432.1L136.5 428.9L137 432L137.5 429.2L138 432.6L138.5 429.2L139 432.1L139.5 429.3L140 432.5L140.5 429.6L141 432.1L141.5 429.1L142 431.6L142.5 428.5L143 432.1L143.5 429.7L144 432.5L144.5 429.4L145 432.2L145.5 428.9L146 432.8L146.5 428.5L147 432.3L147.5 430L148 432.4L148.5 429.6L149 432.8L149.5 429.9L150 433.3L150.5 428.5L151 432.5L151.5 428.6L152 432.3L152.5 428.6L153 432.1L153.5 428.9L154 432.6L154.5 427.4L155 432L155.5 429.2L156 431.8L156.5 428.6L157 432.8L157.5 428.8L158 432.5L158.5 428.5L159 431.9L159.5 428.9L160 432.7L160.5 428L161 432.3L161.5 427.7L162 432.6L162.5 427.8L163 432.4L163.5 429.4L164 432.8L164.5 429.2L165 434.2L165.5 429.5L166 432.3L166.5 429.7L167 433L167.5 429.5L168 433L168.5 428.7L169 432L169.5 428.9L170 432L170.5 429.5L171 431.8L171.5 429L172 432.3L172.5 429.3L173 431.8L173.5 429.2L174 431.8L174.5 428.4L175 433.6L175.5 427.1L176 431.4L176.5 427.4L177 431.7L177.5 428.6L178 431.6L178.5 428.4L179 431.4L179.5 428.7L180 431.4L180.5 429L181 431.8L181.5 427.9L182 432.8L182.5 428.9L183 432.6L183.5 429.4L184 432.2L184.5 429.4L185 431.9L185.5 429.3L186 431.9L186.5 428.1L187 431.7L187.5 429L188 431.9L188.5 428.6L189 433.5L189.5 428.5L190 432.1L190.5 429.3L191 433.3L191.5 429.6L192 432L192.5 429.6L193 432.3L193.5 429.2L194 432.3L194.5 429L195 431.8L195.5 428.6L196 431.8L196.5 428.6L197 432.6L197.5 429L198 432L198.5 429L199 432.2L199.5 429.1L200 432.3L200.5 429.5L201 433.2L201.5 428.5L202 432.9L202.5 429.1L203 432.1L203.5 429.5L204 432.5L204.5 429.2L205 433.5L205.5 429.8L206 433.3L206.5 429.6L207 432.6L207.5 429.3L208 432.7L208.5 429.3L209 433L209.5 429.3L210 433.1L210.5 429.7L211 432.6L211.5 429.7L212 432.4L212.5 428.6L213 432.3L213.5 429L214 432.6L214.5 429.9L215 432.2L215.5 430L216 432.2L216.5 429.5L217 432.3L217.5 430.2L218 432.9L218.5 429.9L219 432.7L219.5 429.7L220 432.7L220.5 430.1L221 432.7L221.5 429.4L222 432.2L222.5 429.8L223 432.1L223.5 429.7L224 432.5L224.5 429.4L225 433.3L225.5 429.3L226 431.9L226.5 429.3L227 432.2L227.5 428.4L228 432.1L228.5 428.8L229 432.9L229.5 429.2L230 432.3L230.5 429.3L231 431.9L231.5 428.6L232 432.3L232.5 429.2L233 431.8L233.5 428.8L234 432.3L234.5 429.4L235 433.1L235.5 428.7L236 433.6L236.5 429.6L237 432.3L237.5 429.4L238 432.5L238.5 427.5L239 432.2L239.5 429.1L240 432.2L240.5 428.8L241 432.5L241.5 428.2L242 432.3L242.5 428.7L243 432.9L243.5 428.9L244 432L244.5 428.8L245 431.8L245.5 428.9L246 431.8L246.5 429.3L247 432.1L247.5 429.1L248 431.9L248.5 427.7L249 432.4L249.5 429.1L250 431.8L250.5 428.6L251 432.7L251.5 429.3L252 432.5L252.5 428.8L253 432.5L253.5 428.9L254 432.8L254.5 428.1L255 432.4L255.5 429.2L256 433.5L256.5 429L257 432.8L257.5 427.8L258 432.2L258.5 428.7L259 432.5L259.5 428.1L260 431.9L260.5 428.9L261 432.2L261.5 428.8L262 431.9L262.5 428.2L263 432.3L263.5 428.8L264 433.4L264.5 428.8L265 431.8L265.5 429.1L266 432L266.5 428.7L267 432.1L267.5 428.8L268 432.6L268.5 429.1L269 432.2L269.5 429.5L270 432.3L270.5 429L271 432.6L271.5 429.1L272 423.6L272.5 428L273 432.2L273.5 429.5L274 432.3L274.5 429.1L275 433L275.5 429.2L276 432.2L276.5 429.6L277 432.7L277.5 429.7L278 432.8L278.5 429.9L279 432.6L279.5 429.7L280 433.4L280.5 430L281 432.9L281.5 428.4L282 432.6L282.5 428.9L283 432.9L283.5 428.2L284 432.8L284.5 429.8L285 432.7L285.5 429.4L286 432.1L286.5 428.6L287 433.2L287.5 429L288 432.6L288.5 429.4L289 432.4L289.5 428.7L290 432.3L290.5 429.3L291 432.6L291.5 429.8L292 433.5L292.5 429L293 432.7L293.5 429L294 432.7L294.5 429.3L295 433.6L295.5 429.1L296 432.8L296.5 429.3L297 431.9L297.5 428.6L298 433L298.5 428.4L299 432.1L299.5 428.1L300 432.1L300.5 428.6L301 432.4L301.5 429.1L302 432.9L302.5 429.1L303 432.8L303.5 429.3L304 433.2L304.5 428.6L305 434.4L305.5 428.9L306 432.6L306.5 428.5L307 432.4L307.5 428.8L308 433.2L308.5 429.5L309 434.3L309.5 429.5L310 431.9L310.5 429.2L311 432.1L311.5 429.2L312 431.8L312.5 429.2L313 432.9L313.5 428.3L314 432L314.5 429.2L315 432.9L315.5 428.6L316 432.1L316.5 429.3L317 433.3L317.5 429.1L318 433.3L318.5 429.2L319 432.2L319.5 429.2L320 432.5L320.5 429L321 432.8L321.5 429L322 433.8L322.5 428.9L323 432.3L323.5 428.9L324 432.5L324.5 428.4L325 432.1L325.5 428.8L326 431.7L326.5 428.2L327 431.7L327.5 428.4L328 433.4L328.5 426.7L329 431.1L329.5 428L330 431.8L330.5 428.5L331 431.2L331.5 428.6L332 431.5L332.5 428.8L333 432.4L333.5 428.1L334 432.2L334.5 427.3L335 431.7L335.5 429.1L336 432.3L336.5 429.1L337 431.8L337.5 429.3L338 432.4L338.5 429.1L339 431.7L339.5 429.3L340 432.6L340.5 429L341 432.2L341.5 428.9L342 433.5L342.5 428.6L343 431.9L343.5 428.8L344 433L344.5 429.2L345 432.9L345.5 429.2L346 432.5L346.5 429.3L347 432.3L347.5 429.3L348 432.3L348.5 428.9L349 431.8L349.5 428.9L350 431.7L350.5 429.3L351 431.7L351.5 428.7L352 431.7L352.5 429.3L353 431.8L353.5 427.8L354 432.2L354.5 428.7L355 433.1L355.5 429.3L356 432.8L356.5 429.9L357 433.2L357.5 429.6L358 432.1L358.5 429.9L359 432.5L359.5 429.2L360 434L360.5 428.6L361 432.5L361.5 428.6L362 431.9L362.5 429.6L363 432.9L363.5 429.2L364 432.5L364.5 429.5L365 431.9L365.5 429.8L366 432.9L366.5 429.3L367 433.2L367.5 429.6L368 432.7L368.5 429.5L369 432.7L369.5 429.1L370 433.1L370.5 428.4L371 432.7L371.5 428.7L372 433.3L372.5 428.5L373 432.4L373.5 429.6L374 432.5L374.5 429.7L375 432.3L375.5 429.5L376 432.6L376.5 429.6L377 432.6L377.5 429.2L378 432.1L378.5 429.7L379 432.3L379.5 428.1L380 432.6L380.5 429.4L381 432.2L381.5 428.7L382 432.5L382.5 429.2L383 433.2L383.5 429L384 432.6L384.5 429.4L385 432.3L385.5 429.4L386 432.5L386.5 429.1L387 433.1L387.5 428.4L388 432.2L388.5 428.7L389 433.2L389.5 429.1L390 432.2L390.5 428.5L391 432.4L391.5 428.7L392 432.2L392.5 429.1L393 431.8L393.5 428.5L394 433.8L394.5 428.8L395 432.8L395.5 429.2L396 433.1L396.5 428.7L397 432.3L397.5 429.5L398 433.8L398.5 429.2L399 432.5L399.5 429.2L400 432.5L400.5 428.9L401 432.5L401.5 429.2L402 433L402.5 429L403 432.2L403.5 429.3L404 431.8L404.5 429.5L405 432L405.5 429.6L406 433.5L406.5 429.3L407 432.9L407.5 428.3L408 433.8L408.5 429.5L409 433.1L409.5 429.3L410 433L410.5 428.8L411 433.4L411.5 429.3L412 432.6L412.5 427.8L413 433.1L413.5 429.9L414 433.1L414.5 429.8L415 432.7L415.5 429.4L416 432.6L416.5 429.4L417 432.7L417.5 428.5L418 433L418.5 429.2L419 432.8L419.5 429.4L420 432.3L420.5 429.1L421 433.4L421.5 427.9L422 432.3L422.5 428.2L423 432.4L423.5 429.3L424 432.4L424.5 429L425 432.4L425.5 429.3L426 432L426.5 428.7L427 432.2L427.5 428.5L428 431.9L428.5 428.9L429 432.1L429.5 427.7L430 432.1L430.5 428.4L431 431.8L431.5 428.8L432 431.9L432.5 428.4L433 431.6L433.5 428L434 433L434.5 428.5L435 431.7L435.5 429L436 432.2L436.5 429.3L437 432.1L437.5 429.1L438 431.7L438.5 429.7L439 433.4L439.5 429.2L440 432.2L440.5 428.2L441 432.4L441.5 429.4L442 433.5L442.5 428.8L443 432.2L443.5 428L444 433L444.5 428.7L445 432.4L445.5 429.6L446 432.2L446.5 429.5L447 432.2L447.5 429.3L448 431.9L448.5 428.7L449 431.9L449.5 428.5L450 432.3L450.5 428.3L451 431.8L451.5 427.2L452 431.9L452.5 429.1L453 432L453.5 428.2L454 432.2L454.5 427.6L455 432.6L455.5 429.3L456 431.7L456.5 428.8L457 431.8L457.5 429.3L458 432.2L458.5 429.1L459 432.4L459.5 428.9L460 433.4L460.5 429.3L461 432.6L461.5 429.7L462 432L462.5 429.7L463 431.8L463.5 428.9L464 431.4L464.5 428.7L465 431.6L465.5 427.9L466 431.7L466.5 428.5L467 431.6L467.5 427.4L468 432L468.5 428.5L469 431.7L469.5 428.9L470 432.6L470.5 428.8L471 432.2L471.5 428.7L472 432.6L472.5 428.6L473 433.5L473.5 429L474 432.1L474.5 429.1L475 433L475.5 427.5L476 432.4L476.5 428.7L477 432.1L477.5 429.4L478 432.3L478.5 429.2L479 432.4L479.5 428.8L480 432.2L480.5 429.8L481 432.5L481.5 429.3L482 432.6L482.5 428.7L483 431.9L483.5 429.2L484 432.8L484.5 429.4L485 431.9L485.5 429.1L486 432.2L486.5 428.3L487 432.7L487.5 429.2L488 433L488.5 429.6L489 432.7L489.5 429.6L490 432.1L490.5 429.1L491 431.8L491.5 429.4L492 431.8L492.5 428.1L493 433.8L493.5 428.1L494 432.3L494.5 429.5L495 432.5L495.5 428.6L496 433.8L496.5 428.6L497 433.2L497.5 428.4L498 432.6L498.5 429.6L499 433L499.5 428.6L500 434.4L500.5 429.5L501 432.9L501.5 429.4L502 433.6L502.5 429.6L503 432.7L503.5 429.6L504 432.7L504.5 428.7L505 432.5L505.5 428.9L506 432.9L506.5 429.4L507 432.5L507.5 429.2L508 432.4L508.5 429.1L509 432.6L509.5 427.8L510 432.4L510.5 429.4L511 432.3L511.5 429.1L512 432L512.5 428.9L513 431.7L513.5 428.9L514 431.9L514.5 429L515 431.6L515.5 427.9L516 432.2L516.5 429L517 432.9L517.5 428.7L518 432L518.5 428.7L519 432.2L519.5 428.5L520 431.6L520.5 428.7L521 431.8L521.5 428.9L522 432.4L522.5 429L523 432.5L523.5 429.3L524 432.5L524.5 429.8L525 432.3L525.5 429.7L526 432.6L526.5 429.9L527 432.7L527.5 429.8L528 432.5L528.5 429.2L529 432.8L529.5 429.5L530 432.4L530.5 429.1L531 432.4L531.5 426.9L532 432.3L532.5 428.8L533 432.2L533.5 428.2L534 433.5L534.5 429.2L535 432.3L535.5 428.6L536 432.5L536.5 429.5L537 432.9L537.5 429.4L538 432.3L538.5 429.5L539 431.9L539.5 429.3L540 432.7L540.5 428.7L541 432.2L541.5 428.8L542 432.8L542.5 429.2L543 432.3L543.5 428.7L544 432.7L544.5 429.4L545 432.6L545.5 429.3L546 432.6L546.5 428.8L547 432L547.5 428.9L548 432.5L548.5 427.8L549 431.7L549.5 427.5L550 431.4L550.5 428.1L551 431.2L551.5 428.3L552 431.6L552.5 428.6L553 431.5L553.5 428.7L554 431.9L554.5 428.8L555 432L555.5 429.5L556 432.3L556.5 428.2L557 432L557.5 429.3L558 432.2L558.5 428.4L559 432.6L559.5 428.8L560 432.8L560.5 429.5L561 432.4L561.5 429L562 432.6L562.5 428.1L563 433L563.5 428.9L564 432.3L564.5 428.9L565 432.6L565.5 428.9L566 432L566.5 428.8L567 433.2L567.5 429.4L568 432.2L568.5 429.1L569 432.3L569.5 428.8L570 431.4L570.5 428.3L571 431.5L571.5 428.4L572 432.1L572.5 428.8L573 431.9L573.5 428.2L574 432L574.5 429.2L575 432.5L575.5 429.4L576 433L576.5 429.6L577 432.4L577.5 429.8L578 432.2L578.5 429.2L579 433.9L579.5 429.5L580 432.5L580.5 429.1L581 433.3L581.5 429.5L582 432L582.5 428.2L583 431.9L583.5 429L584 432L584.5 429.1L585 432.5L585.5 428.9L586 432.2L586.5 429.3L587 432.3L587.5 429.4L588 432.8L588.5 429.6L589 432.1L589.5 428.7L590 432.2L590.5 429.2L591 432.6L591.5 429.2L592 431.5L592.5 429.2L593 431.5L593.5 428.1L594 432.4L594.5 429.2L595 432.3L595.5 428.6L596 432.5L596.5 429.5L597 432.4L597.5 429.2L598 433.2L598.5 429.1L599 432L599.5 429.4L600 432.9L600.5 429.2L601 433.1L601.5 428.9L602 432.5L602.5 429.2L603 431.9L603.5 429L604 432L604.5 429.2L605 432.9L605.5 429L606 432.2L606.5 428.5L607 432.7L607.5 429.3L608 432.1L608.5 429.2L609 431.9L609.5 428.9L610 431.9L610.5 428.6L611 431.7L611.5 429.2L612 432.1L612.5 429.6L613 431.6L613.5 429.3L614 432L614.5 428.9L615 431.7L615.5 427.8L616 431.9L616.5 428.4L617 432.1L617.5 429L618 432.7L618.5 429.1L619 432.5L619.5 429.3L620 432.8L620.5 428.8L621 432.1L621.5 429.2L622 432.8L622.5 429.4L623 431.8L623.5 428.8L624 432L624.5 429.2L625 432.3L625.5 428L626 432.4L626.5 428.4L627 432.1L627.5 428.7L628 433.9L628.5 429L629 432.6L629.5 427.5L630 432.3L630.5 429.3L631 432.7L631.5 428.6L632 432.6L632.5 429.6L633 432.8L633.5 429.4L634 432.6L634.5 430.2L635 433.3L635.5 429L636 433.5L636.5 429.7L637 432.7L637.5 429.5L638 432.8L638.5 429.8L639 432.7L639.5 429.1L640 432.4L640.5 428.6L641 432.3L641.5 428.2L642 432L642.5 428.9L643 432.2L643.5 427.4L644 432.1L644.5 429L645 432.2L645.5 429L646 432.3L646.5 428.6L647 432.1L647.5 428.7L648 432.9L648.5 428.3L649 432L649.5 429.6L650 432.3L650.5 429L651 432.9L651.5 429L652 432.7L652.5 429.5L653 432.6L653.5 429.8L654 432.2L654.5 428.4L655 433.2L655.5 429.7L656 432.5L656.5 429.5L657 433.9L657.5 429.2L658 432.9L658.5 429.5L659 432.3L659.5 428.7L660 432L660.5 428.4L661 431.6L661.5 428.4L662 431.4L662.5 428.2L663 431.7L663.5 428.6L664 432.5L664.5 429.3L665 431.7L665.5 429.2L666 431.7L666.5 429.2L667 432.2L667.5 428.8L668 432.8L668.5 429.1L669 432.8L669.5 428.5L670 432.1L670.5 429.1L671 432.1L671.5 429.4L672 432.2L672.5 429.1L673 432.3L673.5 428.9L674 432.4L674.5 429.1L675 432.4L675.5 429.5L676 434.1L676.5 428.7L677 432.6L677.5 428.9L678 432.5L678.5 428.6L679 432.3L679.5 428L680 432.1L680.5 429.2L681 432L681.5 429.1L682 431.6L682.5 428.8L683 432.3L683.5 428.7L684 432.3L684.5 428.6L685 432.1L685.5 429.2L686 432L686.5 428.7L687 432.2L687.5 428.9L688 432.9L688.5 429.3L689 432L689.5 429.3L690 433L690.5 428.1L691 432.5L691.5 429.3L692 432.1L692.5 429.8L693 432.1L693.5 429.2L694 433.4L694.5 429.8L695 432.4L695.5 429.9L696 433.1L696.5 429.5L697 432.2L697.5 428.9L698 432.7L698.5 429.3L699 432.1L699.5 429.6L700 432.5L700.5 428.7L701 433.3L701.5 429.4L702 432L702.5 428.5L703 432.6L703.5 428.1L704 431.8L704.5 428.4L705 431.9L705.5 429.5L706 432L706.5 429.5L707 432.3L707.5 429.3L708 432L708.5 428.8L709 431.6L709.5 428.8L710 432L710.5 429L711 431.4L711.5 428.6L712 431.7L712.5 428.4L713 431.6L713.5 428.7L714 431.6L714.5 429.3L715 431.8L715.5 429.2L716 432.1L716.5 429.6L717 432.4L717.5 428.9L718 432.2L718.5 429.2L719 432.6L719.5 429.4L720 432.7L720.5 429L721 432.4L721.5 429L722 431.9L722.5 429.5L723 432.3L723.5 429L724 432.4L724.5 429.4L725 432.5L725.5 429.4L726 432.7L726.5 429.2L727 432.2L727.5 429.3L728 431.8L728.5 428.8L729 432.3L729.5 428.8L730 431.9L730.5 428.5L731 433.8L731.5 427.7L732 432.4L732.5 428.5L733 432.8L733.5 428.8L734 432.8L734.5 429L735 432L735.5 429.1L736 432.2L736.5 428.9L737 431.9L737.5 429.2L738 431.7L738.5 429L739 432L739.5 429.2L740 432L740.5 429.2L741 432L741.5 427.9L742 431.9L742.5 428.5L743 431.9L743.5 428.3L744 431.7L744.5 428.9L745 432.7L745.5 429L746 431.9L746.5 429L747 432.3L747.5 429L748 432.3L748.5 429.3L749 432.2L749.5 429.7L750 432.1L750.5 429.4L751 432L751.5 429.1L752 432L752.5 428.6L753 432L753.5 428.8L754 432L754.5 429.2L755 433.1L755.5 429.4L756 432.1L756.5 429.4L757 432L757.5 429.1L758 432L758.5 429.3L759 431.9L759.5 428.8L760 432.9L760.5 428.4L761 432.5L761.5 428.9L762 431.8L762.5 429.3L763 432.5L763.5 429L764 432.3L764.5 427.5L765 432.8L765.5 428.9L766 433.4L766.5 429.5L767 432.4L767.5 428.5L768 432.4L768.5 429.9L769 432.6L769.5 428.6L770 432.5L770.5 429.9L771 432.3L771.5 430.3L772 432.6L772.5 430.2L773 432.6L773.5 429.5L774 432.6L774.5 428.8L775 433.1L775.5 428.6L776 432.3L776.5 429.4L777 433.1L777.5 429.2L778 433.3L778.5 430L779 433.2L779.5 429.3L780 433.1L780.5 429.7L781 432.2L781.5 428.9L782 432.2L782.5 428.5L783 432L783.5 429.1L784 433.3L784.5 428.4L785 432.9L785.5 429.3L786 432.5L786.5 428.8L787 432.3L787.5 428.5L788 431.7L788.5 428L789 432.5L789.5 428L790 431.8L790.5 427.5L791 432.1L791.5 428.8L792 432.3L792.5 428.6L793 431.8L793.5 428.7L794 432.4L794.5 429.2L795 432.5L795.5 428.7L796 432.4L796.5 429.5L797 432.6L797.5 429.4L798 433.5L798.5 429.9L799 432.7L799.5 429.3L800 432.3L800.5 428.4L801 432.6L801.5 429.6L802 432.8L802.5 429L803 431.9L803.5 429L804 432L804.5 428.9L805 431.5L805.5 428.7L806 431.8L806.5 427.2L807 432L807.5 428.1L808 431.7L808.5 427.7L809 431.4L809.5 428.6L810 432.4L810.5 427.3L811 431.6L811.5 428.7L812 431.6L812.5 428.6L813 431.8L813.5 428.7L814 432.2L814.5 427.8L815 431.9L815.5 428.3L816 431.9L816.5 429.1L817 431.8L817.5 428.6L818 432.6L818.5 429L819 431.9L819.5 428.9L820 432.1L820.5 428.8L821 432L821.5 428.9L822 431.7L822.5 428.4L823 432.8L823.5 428.2L824 431.7L824.5 428L825 432.4L825.5 428.4L826 433.2L826.5 428.8L827 433.1L827.5 429.3L828 432.4L828.5 429.4L829 433.2L829.5 429.8L830 433.5L830.5 429.5L831 432.8L831.5 429.6L832 433.6L832.5 429L833 432.3L833.5 429.2L834 432.8L834.5 429.5L835 432.1L835.5 429.1L836 431.6L836.5 427.7L837 431.6L837.5 428.4L838 432.2L838.5 428.6L839 432.5L839.5 428.6L840 432L840.5 428.5L841 432.5L841.5 429.5L842 432.2L842.5 428.4L843 432.9L843.5 428.9L844 432.8L844.5 429.4L845 434L845.5 428.9L846 432.4L846.5 429.4L847 432.2L847.5 429L848 432.1L848.5 428.9L849 432.1L849.5 428.5L850 432.1L850.5 428.7L851 431.5L851.5 428.2L852 432L852.5 429.2L853 432.3L853.5 427.9L854 432.7L854.5 429.1L855 431.9L855.5 428.8L856 431.9L856.5 429.3L857 433L857.5 428.9L858 433.7L858.5 428.6L859 432.4L859.5 429.2L860 432.9L860.5 427.9L861 431.8L861.5 429L862 432L862.5 428.9L863 431.8L863.5 429.7L864 432L864.5 429.4L865 432.5L865.5 429.3L866 432.1L866.5 428.5L867 432.1L867.5 428.7L868 431.8L868.5 429.2L869 432.1L869.5 428.9L870 432.3L870.5 429.4L871 432.3L871.5 429.2L872 433.6L872.5 429.8L873 433.1L873.5 429.4L874 432.6L874.5 429.5L875 432.3L875.5 428.9L876 432.1L876.5 428.9L877 432.9L877.5 428.5L878 433L878.5 428.3L879 431.9L879.5 428.9L880 432.1L880.5 428.9L881 432.1L881.5 428.4L882 432L882.5 428.8L883 432L883.5 429.2L884 431.8L884.5 429.1L885 432.8L885.5 428.1L886 433.7L886.5 429L887 431.9L887.5 429.1L888 431.7L888.5 429L889 431.4L889.5 429L890 432.4L890.5 428.9L891 431.6L891.5 428.7L892 431.9L892.5 428.4L893 431.7L893.5 428.9L894 432.2L894.5 428.8L895 431.7L895.5 429L896 432.5L896.5 428.6L897 431.8L897.5 428.7L898 433L898.5 428.9L899 432.5L899.5 429.4L900 432.4L900.5 428.1L901 432.2L901.5 429.4L902 432.9L902.5 429.4L903 432.5L903.5 429.1L904 432.3L904.5 429.3L905 432.5L905.5 428.9L906 433.3L906.5 429.3L907 432.4L907.5 429.2L908 432.3L908.5 430L909 432.1L909.5 429.2L910 432.7L910.5 428.5L911 432.3L911.5 428.4L912 432.1L912.5 429.2L913 432.7L913.5 429.2L914 432.5L914.5 428.5L915 432.2L915.5 428.8L916 433.6L916.5 429.1L917 432.5L917.5 429.4L918 432.3L918.5 427.9L919 431.9L919.5 428.5L920 431.9L920.5 428.9L921 432.3L921.5 428.1L922 431.9L922.5 429.1L923 431.9L923.5 428.1L924 432.6L924.5 428.5L925 432.6L925.5 428.8L926 432L926.5 429L927 431.8L927.5 427.9L928 431.9L928.5 429.4L929 432.1L929.5 429L930 432.7L930.5 429.2L931 433.1L931.5 429.1L932 432.7L932.5 429.9L933 432.3L933.5 428.8L934 432.2L934.5 429.5L935 432L935.5 429.4L936 432L936.5 429L937 432.7L937.5 429L938 432.4L938.5 428.9L939 432.7L939.5 427.3L940 433.3L940.5 428.2L941 432.5L941.5 428.8L942 432.7L942.5 429.1L943 432.5L943.5 429.6L944 432.9L944.5 428.8L945 432.4L945.5 429.4L946 433.1L946.5 429.5L947 432.3L947.5 429.3L948 432.5L948.5 429.4L949 432L949.5 427.8L950 431.9L950.5 428.3L951 431.7L951.5 429.3L952 432.3L952.5 429.1L953 432L953.5 429.2L954 432.4L954.5 428.2L955 432.9L955.5 429.3L956 432.6L956.5 429.6L957 432.3L957.5 429.2L958 433.1L958.5 428.6L959 432.8L959.5 427.2L960 432.6L960.5 429.5L961 433.3L961.5 429.6L962 432.6L962.5 429.3L963 432.7L963.5 429.6L964 435.2L964.5 428.8L965 433L965.5 428.9L966 432.1L966.5 428.4L967 431.8L967.5 429.2L968 432.9L968.5 429.1L969 432.2L969.5 429.4L970 433.1L970.5 429.4L971 432.5L971.5 429.6L972 432L972.5 429.4L973 432.3L973.5 428.3L974 432.1L974.5 429.5L975 432.9L975.5 429L976 433.2L976.5 429.5L977 433.2L977.5 429.3L978 433L978.5 429.7L979 433.2L979.5 429.9L980 432.6L980.5 430.1L981 432.8L981.5 429.6L982 432.6L982.5 429.8L983 432.8L983.5 429.9L984 432.7L984.5 428.8L985 432.6L985.5 429L986 433.3L986.5 428.5L987 432.2L987.5 429.6L988 432.4L988.5 429.2L989 432.9L989.5 429.6L990 432.4L990.5 428.6L991 432.7L991.5 429.6L992 433L992.5 429L993 432.3L993.5 429L994 431.9L994.5 428.6L995 431.5L995.5 428.6L996 432.6L996.5 428.3L997 431.7L997.5 428.9L998 431.9L998.5 429L999 432.4L999.5 428.3L1000 432.3L1000.5 429L1001 432.7L1001.5 429.1L1002 431.9L1002.5 429.3L1003 433.2L1003.5 429L1004 432.1L1004.5 429.6L1005 432.5L1005.5 428.7L1006 432.8L1006.5 429.7L1007 432.5L1007.5 429.1L1008 433L1008.5 429.3L1009 432.8L1009.5 428.6L1010 432.7L1010.5 429.5L1011 432L1011.5 428.9L1012 432.6L1012.5 429.3L1013 432.1L1013.5 429.6L1014 432L1014.5 429.6L1015 432.5L1015.5 428.6L1016 433.3L1016.5 429.3L1017 432.4L1017.5 428.8L1018 431.5L1018.5 429.2L1019 432.4L1019.5 429.1L1020 432.2L1020.5 428.9L1021 432.1L1021.5 429L1022 429.9L1022.5 405.1L1023 424.3L1023.5 427.3L1024 432.1L1024.5 429.1L1025 433.3L1025.5 428.1L1026 432.7L1026.5 429.4L1027 432.5L1027.5 427.8L1028 432.3L1028.5 428.6L1029 432.3L1029.5 428.9L1030 431.9L1030.5 428.6L1031 431.5L1031.5 428.3L1032 432.2L1032.5 428.8L1033 431.9L1033.5 428.4L1034 431.6L1034.5 428.2L1035 431.5L1035.5 427.5L1036 432.3L1036.5 428.7L1037 432L1037.5 429.3L1038 433.6L1038.5 428.3L1039 433L1039.5 429.5L1040 432.8L1040.5 429L1041 433.8L1041.5 430.1L1042 432.5L1042.5 430L1043 432.5L1043.5 429.9L1044 432.7L1044.5 429.9L1045 432.3L1045.5 428L1046 432.3L1046.5 428.3L1047 432.4L1047.5 429.3L1048 432.2L1048.5 428.1L1049 422L1049.5 427.3L1050 432.3L1050.5 429.2L1051 432.7L1051.5 428.9L1052 432.7L1052.5 428.8L1053 432L1053.5 429.6L1054 433.2L1054.5 429.3L1055 432.3L1055.5 429.9L1056 432.4L1056.5 429.1L1057 432.5L1057.5 427.1L1058 432.4L1058.5 429.2L1059 431.8L1059.5 428.8L1060 432.9L1060.5 429.1L1061 432.4L1061.5 429.1L1062 432.4L1062.5 427.8L1063 433.2L1063.5 429L1064 433.1L1064.5 428.7L1065 432.4L1065.5 428.5L1066 432.3L1066.5 428.4L1067 432.4L1067.5 429.6L1068 432.6L1068.5 429L1069 432.1L1069.5 429.7L1070 432.6L1070.5 428.7L1071 433.2L1071.5 429.7L1072 432.8L1072.5 429.7L1073 432.5L1073.5 429.8L1074 432.4L1074.5 429.8L1075 432.4L1075.5 429.8L1076 432.2L1076.5 429.6L1077 433.1L1077.5 428.9L1078 433.2L1078.5 428.1L1079 432.8L1079.5 427.9L1080 432.8L1080.5 429.4L1081 432.2L1081.5 429.4L1082 432.4L1082.5 429L1083 431.9L1083.5 428.9L1084 432.2L1084.5 429.2L1085 431.5L1085.5 428.9L1086 431.7L1086.5 428.9L1087 431.9L1087.5 429.3L1088 433.3L1088.5 429.7L1089 432.8L1089.5 429.5L1090 434.5L1090.5 429.4L1091 432.3L1091.5 429.5L1092 434.1L1092.5 429.5L1093 434.7L1093.5 429.2L1094 432.9L1094.5 429.2L1095 432.9L1095.5 429.2L1096 433.6L1096.5 430L1097 433.5L1097.5 428.2L1098 432.5L1098.5 429.5L1099 432.6L1099.5 429.7L1100 432.8L1100.5 429.8L1101 432.6L1101.5 428.8L1102 433.3L1102.5 429.6L1103 432.1L1103.5 429.4L1104 434.4L1104.5 429.1L1105 432.1L1105.5 427.8L1106 432.5L1106.5 429.3L1107 432.4L1107.5 429.2L1108 433.4L1108.5 428.6L1109 432.9L1109.5 430L1110 433.2L1110.5 430.1L1111 433.3L1111.5 429.7L1112 433.8L1112.5 430.2L1113 433L1113.5 429.6L1114 432.2L1114.5 429.2L1115 433.7L1115.5 429.3L1116 432.5L1116.5 428.9L1117 432.2L1117.5 428.8L1118 432L1118.5 429.4L1119 432L1119.5 429.3L1120 432.7L1120.5 429.4L1121 432.3L1121.5 429.7L1122 432.5L1122.5 429.8L1123 432.1L1123.5 428.9L1124 432.1L1124.5 428.3L1125 431.8L1125.5 429L1126 431.9L1126.5 429.3L1127 431.8L1127.5 428.7L1128 432.1L1128.5 429.4L1129 431.8L1129.5 429.4L1130 432.2L1130.5 428.4L1131 432.5L1131.5 428.8L1132 432.3L1132.5 428.9L1133 432.1L1133.5 428.9L1134 432.2L1134.5 428.3L1135 431.7L1135.5 428.1L1136 432.3L1136.5 428.8L1137 432L1137.5 429L1138 432.2L1138.5 429.5L1139 432.7L1139.5 429.1L1140 432.3L1140.5 429.6L1141 433.1L1141.5 428.9L1142 433.7L1142.5 429.6L1143 432.8L1143.5 429.8L1144 433.2L1144.5 429.5L1145 432.7L1145.5 428.8L1146 432.6L1146.5 429.7L1147 433.1L1147.5 429.8L1148 432.5L1148.5 428.9L1149 432.5L1149.5 429.4L1150 432.7L1150.5 429.7L1151 433.5L1151.5 429.4L1152 433L1152.5 429.5L1153 432.4L1153.5 429.2L1154 432.2L1154.5 428.8L1155 432.1L1155.5 428.5L1156 432.3L1156.5 428.8L1157 431.8L1157.5 428.7L1158 432.8L1158.5 428.6L1159 432.4L1159.5 428.5L1160 432.5L1160.5 429.1L1161 432.2L1161.5 429.7L1162 432L1162.5 429.7L1163 432.6L1163.5 429.5L1164 432.6L1164.5 429.3L1165 432.8L1165.5 428.9L1166 432.2L1166.5 429L1167 432.1L1167.5 428L1168 432.1L1168.5 427.6L1169 432.8L1169.5 428.9L1170 432.9L1170.5 429.6L1171 433.5L1171.5 429L1172 432.9L1172.5 428.7L1173 433.4L1173.5 429.6L1174 433.2L1174.5 428.6L1175 433L1175.5 427.8L1176 432L1176.5 428.7L1177 431.6L1177.5 428.4L1178 431.9L1178.5 428.9L1179 433.2L1179.5 428.5L1180 432.5L1180.5 429L1181 433.1L1181.5 429.1L1182 432.5L1182.5 429.1L1183 432.5L1183.5 429L1184 433.1L1184.5 428.9L1185 433.1L1185.5 429.5L1186 432.8L1186.5 429.3L1187 432.2L1187.5 429.5L1188 432.4L1188.5 429.3L1189 432.1L1189.5 428.8L1190 432.4L1190.5 429.1L1191 432.5L1191.5 429.3L1192 431.9L1192.5 429.3L1193 431.8L1193.5 428.9L1194 433.5L1194.5 429.5L1195 432.2L1195.5 429.3L1196 434.1L1196.5 428.8L1197 433L1197.5 429.6L1198 433.2L1198.5 430.2L1199 432.3L1199.5 430L1200 432.7L1200.5 429.5L1201 433.2L1201.5 429.4L1202 432.1L1202.5 429.5L1203 435.6L1203.5 429.2L1204 432.1L1204.5 428.6L1205 431.9L1205.5 428.8L1206 432.2L1206.5 428.8L1207 432L1207.5 428.5L1208 432.4L1208.5 428.9L1209 432.8L1209.5 429.3L1210 431.9L1210.5 429L1211 432.5L1211.5 427.8L1212 431.7L1212.5 428.5L1213 431.9L1213.5 428.6L1214 431.7L1214.5 428.7L1215 432.3L1215.5 429.3L1216 432L1216.5 428.6L1217 432L1217.5 429L1218 432.9L1218.5 428.6L1219 432.4L1219.5 428.9L1220 432L1220.5 428.7L1221 431.9L1221.5 427.9L1222 432.2L1222.5 429.2L1223 432.4L1223.5 429.5L1224 432.3L1224.5 430L1225 432.2L1225.5 429.7L1226 432.3L1226.5 428.9L1227 432.1L1227.5 429.7L1228 432.1L1228.5 429.8L1229 432L1229.5 428.3L1230 431.8L1230.5 429.1L1231 431.8L1231.5 429.3L1232 432.2L1232.5 428.9L1233 432.8L1233.5 429.5L1234 432L1234.5 429.1L1235 433.4L1235.5 428.9L1236 433.1L1236.5 429.7L1237 432.3L1237.5 428.5L1238 433L1238.5 429.4L1239 433.6L1239.5 428.2L1240 431.9L1240.5 428.7L1241 432.1L1241.5 429L1242 432.1L1242.5 428.7L1243 431.9L1243.5 428.8L1244 432L1244.5 428.6L1245 432L1245.5 427.5L1246 431.8L1246.5 428.1L1247 433.5L1247.5 428.3L1248 431.8L1248.5 428.9L1249 432.4L1249.5 428.3L1250 431.7L1250.5 429.2L1251 432.5L1251.5 428.7L1252 431.8L1252.5 429.2L1253 432.3L1253.5 429.3L1254 431.9L1254.5 428.7L1255 431.9L1255.5 429.3L1256 432.4L1256.5 429.3L1257 432.8L1257.5 429.5L1258 432.6L1258.5 429.8L1259 433.4L1259.5 429.6L1260 432.6L1260.5 429L1261 432.5L1261.5 428.7L1262 431.8L1262.5 428.9L1263 431.7L1263.5 428.8L1264 432.3L1264.5 428.4L1265 431.6L1265.5 429.2L1266 432.8L1266.5 429.4L1267 432.8L1267.5 429.3L1268 432L1268.5 429.1L1269 431.8L1269.5 428.7L1270 432.7L1270.5 429.4L1271 432.5L1271.5 429.1L1272 432.4L1272.5 429.4L1273 432.1L1273.5 429.6L1274 434.1L1274.5 428.8L1275 432.4L1275.5 429.6L1276 432.7L1276.5 428.9L1277 432.4L1277.5 429.5L1278 432.8L1278.5 428.9L1279 431.9L1279.5 428.7L1280 432.1L1280.5 428L1281 432.1L1281.5 428.9L1282 432.4L1282.5 428.8L1283 432L1283.5 429.1L1284 432.6L1284.5 428.6L1285 431.9L1285.5 428.9L1286 431.8L1286.5 429.3L1287 431.8L1287.5 429.2L1288 431.9L1288.5 428.4L1289 431.9L1289.5 428.7L1290 431.7L1290.5 428.4L1291 432.1L1291.5 428.8L1292 431.8L1292.5 428.7L1293 432L1293.5 428.6L1294 432.8L1294.5 429.5L1295 432.3L1295.5 429.1L1296 432.1L1296.5 428.8L1297 431.8L1297.5 426.5L1298 431.8L1298.5 427.9L1299 432L1299.5 428.1L1300 431.8L1300.5 428L1301 431.3L1301.5 428.6L1302 432.4L1302.5 429.1L1303 432L1303.5 429.1L1304 432.2L1304.5 429.4L1305 432.1L1305.5 429.3L1306 432.4L1306.5 429.6L1307 434.4L1307.5 429.4L1308 433.1L1308.5 428.7L1309 432.9L1309.5 429.2L1310 432.7L1310.5 429.7L1311 432.8L1311.5 429.1L1312 432.1L1312.5 429L1313 432.5L1313.5 429.2L1314 432L1314.5 429.1L1315 431.9L1315.5 428.8L1316 432.4L1316.5 429.1L1317 431.6L1317.5 428.9L1318 433.1L1318.5 428.5L1319 431.8L1319.5 428.6L1320 431.4L1320.5 428.7L1321 432.2L1321.5 428.2L1322 431.6L1322.5 428.5L1323 432.4L1323.5 429.2L1324 431.8L1324.5 429.4L1325 432.8L1325.5 429.5L1326 431.9L1326.5 428.6L1327 432L1327.5 429.1L1328 434L1328.5 429L1329 433L1329.5 430L1330 432.4L1330.5 429.6L1331 433L1331.5 428.5L1332 433.1L1332.5 427.9L1333 432.4L1333.5 428.8L1334 434L1334.5 428.6L1335 433.4L1335.5 429.1L1336 432.4L1336.5 429.5L1337 432.3L1337.5 428.9L1338 432.5L1338.5 428.9L1339 432.9L1339.5 429.4L1340 432.7L1340.5 429.4L1341 432.5L1341.5 429.3L1342 432.3L1342.5 429L1343 431.6L1343.5 428.2L1344 431.8L1344.5 427.5L1345 431.5L1345.5 428.4L1346 431.8L1346.5 429L1347 432L1347.5 428.3L1348 431.6L1348.5 427.5L1349 431.5L1349.5 427.8L1350 431.5L1350.5 429.2L1351 431.8L1351.5 429.1L1352 432.2L1352.5 429L1353 433.2L1353.5 429L1354 432.6L1354.5 427.8L1355 432.4L1355.5 429.3L1356 433.3L1356.5 427.9L1357 432.2L1357.5 429.3L1358 432.7L1358.5 429.1L1359 432.3L1359.5 429.1L1360 432.1L1360.5 429.1L1361 432L1361.5 428.1L1362 432.1L1362.5 428.7L1363 432.7L1363.5 429.1L1364 432.7L1364.5 429.1L1365 432.3L1365.5 429L1366 433.3L1366.5 429.1L1367 432L1367.5 429.4L1368 432.2L1368.5 429.2L1369 431.9L1369.5 428.9L1370 432.9L1370.5 429.2L1371 432.4L1371.5 428.7L1372 432.2L1372.5 427.9L1373 432.2L1373.5 428.9L1374 433.5L1374.5 429.2L1375 432.3L1375.5 428.6L1376 432.4L1376.5 428.7L1377 431.9L1377.5 429.3L1378 431.9L1378.5 428.4L1379 432.1L1379.5 429.3L1380 431.6L1380.5 429.2L1381 432.4L1381.5 429.3L1382 431.6L1382.5 428.7L1383 431.9L1383.5 428.6L1384 431.9L1384.5 428.1L1385 433.1L1385.5 429.2L1386 432.6L1386.5 428.9L1387 432.5L1387.5 429.4L1388 432.3L1388.5 429.1L1389 432.2L1389.5 428.2L1390 433.2L1390.5 428.4L1391 431.6L1391.5 428.9L1392 431.8L1392.5 428.4L1393 432.8L1393.5 428.7L1394 433.3L1394.5 429.1L1395 433.1L1395.5 428.1L1396 433.1L1396.5 429.3L1397 432.5L1397.5 429.6L1398 435.4L1398.5 429.2L1399 432.9L1399.5 429.1L1400 432.9L1400.5 429.9L1401 433.3L1401.5 429.5L1402 432.7L1402.5 429.5L1403 432.1L1403.5 429.3L1404 432.3L1404.5 429L1405 431.9L1405.5 428L1406 432.6L1406.5 429L1407 433.1L1407.5 429L1408 432.9L1408.5 428.2L1409 433L1409.5 428.9L1410 432.4L1410.5 429.1L1411 432.7L1411.5 428.8L1412 432.1L1412.5 429.1L1413 432.7L1413.5 429.4L1414 432.7L1414.5 429.4L1415 432.4L1415.5 429.5L1416 432.5L1416.5 428.7L1417 434.1L1417.5 429.4L1418 432.2L1418.5 429.4L1419 431.9L1419.5 428.9L1420 433L1420.5 429.3L1421 432.9L1421.5 428.5L1422 433.6L1422.5 429.2L1423 433L1423.5 428.3L1424 432.6L1424.5 428.8L1425 432.2L1425.5 429.2L1426 432.3L1426.5 428.6L1427 431.8L1427.5 428.6L1428 432L1428.5 428.8L1429 431.9L1429.5 429L1430 431.7L1430.5 429.2L1431 432L1431.5 429.2L1432 432.7L1432.5 429.5L1433 434.6L1433.5 429.2L1434 432.6L1434.5 428.4L1435 433L1435.5 429.2L1436 433L1436.5 429.5L1437 432L1437.5 429.3L1438 431.9L1438.5 429.3L1439 432.1L1439.5 428.3L1440 431.7L1440.5 429.4L1441 431.9L1441.5 429.3L1442 432.7L1442.5 429.2L1443 432.1L1443.5 429.8L1444 432.3L1444.5 428L1445 433L1445.5 429.4L1446 432.5L1446.5 428.8L1447 432.5L1447.5 429.2L1448 432.7L1448.5 428.9L1449 432.3L1449.5 429.6L1450 432.3L1450.5 429.4L1451 432.3L1451.5 429.1L1452 431.9L1452.5 428.8L1453 432.9L1453.5 428L1454 431.7L1454.5 428.6L1455 432.5L1455.5 428L1456 432.1L1456.5 429.1L1457 433L1457.5 428.9L1458 432.2L1458.5 428.6L1459 432.3L1459.5 429.6L1460 432.3L1460.5 428.7L1461 432.3L1461.5 429.1L1462 432.1L1462.5 429.1L1463 432.7L1463.5 429.7L1464 432.2L1464.5 429.2L1465 433.5L1465.5 429L1466 431.9L1466.5 428.9L1467 432L1467.5 429.3L1468 432.5L1468.5 429.2L1469 432.4L1469.5 429.3L1470 433.9L1470.5 428.5L1471 432.6L1471.5 429L1472 432.1L1472.5 428.5L1473 432.1L1473.5 427.7L1474 432.2L1474.5 428.7L1475 431.5L1475.5 428.3L1476 432L1476.5 428.3L1477 431.5L1477.5 428.3L1478 431.7L1478.5 428.9L1479 433L1479.5 428.4L1480 431.6L1480.5 429.1L1481 432.1L1481.5 428.6L1482 432.4L1482.5 428.7L1483 431.8L1483.5 428.4L1484 432L1484.5 428.6L1485 432.5L1485.5 428.1L1486 431.9L1486.5 428.4L1487 431.6L1487.5 427.5L1488 431.7L1488.5 428.9L1489 431.9L1489.5 429L1490 431.6L1490.5 428.6L1491 432.1L1491.5 428.7L1492 432.5L1492.5 426.4L1493 432.6L1493.5 428.3L1494 432.7L1494.5 428.8L1495 431.7L1495.5 428.7L1496 431.7L1496.5 428.9L1497 431.7L1497.5 428.6L1498 432L1498.5 429.3L1499 432.2L1499.5 429.4L1500 432.2L1500.5 429.5L1501 432.8L1501.5 429.8L1502 432.5L1502.5 429.5L1503 432.5L1503.5 429.9L1504 432.7L1504.5 429.1L1505 433L1505.5 429.1L1506 432.8L1506.5 428.5L1507 432.8L1507.5 429.8L1508 432.8L1508.5 429.8L1509 433.3L1509.5 429.5L1510 433.9L1510.5 429.5L1511 433.3L1511.5 429.3L1512 432.4L1512.5 430L1513 432.7L1513.5 429.5L1514 433.1L1514.5 429.8L1515 432L1515.5 427.9L1516 432.2L1516.5 428.5L1517 433L1517.5 429.3L1518 432.8L1518.5 428.7L1519 433.4L1519.5 429L1520 433.4L1520.5 429.2L1521 432.9L1521.5 428.8L1522 433.2L1522.5 429.2L1523 432.7L1523.5 429.2L1524 432.9L1524.5 428.5L1525 432.6L1525.5 427.5L1526 431.9L1526.5 427.7L1527 433.2L1527.5 428.4L1528 432.4L1528.5 429.3L1529 432.9L1529.5 428.8L1530 432.3L1530.5 429.3L1531 433L1531.5 429.8L1532 433.7L1532.5 429.2L1533 432.4L1533.5 428.4L1534 432.7L1534.5 429.8L1535 432.5L1535.5 429.7L1536 432.4L1536.5 429.7L1537 432.6L1537.5 429.7L1538 432.3L1538.5 428.8L1539 432.4L1539.5 429.5L1540 433.1L1540.5 429.5L1541 432.2L1541.5 429.6L1542 432.4L1542.5 429.6L1543 432.5L1543.5 429.9L1544 432.6L1544.5 429.2L1545 432.2L1545.5 429.4L1546 432.5L1546.5 429.6L1547 432.2L1547.5 429.3L1548 433.7L1548.5 429.1L1549 432.2L1549.5 429.2L1550 433.4L1550.5 429.5L1551 432.5L1551.5 429.5L1552 432.7L1552.5 429.4L1553 432.1L1553.5 428.7L1554 431.8L1554.5 428.1L1555 432.3L1555.5 429L1556 431.7L1556.5 428.5L1557 431.5L1557.5 428.8L1558 431.9L1558.5 429L1559 432.2L1559.5 428.8L1560 431.7L1560.5 429L1561 432.2L1561.5 429.4L1562 432.4L1562.5 429.7L1563 432.6L1563.5 429.3L1564 432.4L1564.5 428.4L1565 432.1L1565.5 429L1566 432L1566.5 428.3L1567 431.6L1567.5 428.2L1568 432.4L1568.5 427.7L1569 431.8L1569.5 428.1L1570 423.3L1570.5 427.6L1571 432L1571.5 428.1L1572 431.9L1572.5 427.5L1573 431.7L1573.5 429.1L1574 431.8L1574.5 429L1575 432.8L1575.5 429.2L1576 432L1576.5 429L1577 431.9L1577.5 429.1L1578 433.3L1578.5 427.4L1579 432.6L1579.5 428.9L1580 432.2L1580.5 429.2L1581 432.2L1581.5 429.6L1582 432.7L1582.5 429.7L1583 433L1583.5 429.8L1584 432.4L1584.5 429.7L1585 432.1L1585.5 429.3L1586 432.1L1586.5 429.4L1587 431.8L1587.5 428.9L1588 431.9L1588.5 428.7L1589 432L1589.5 428.6L1590 432.2L1590.5 428.3L1591 431.5L1591.5 428.7L1592 432.3L1592.5 428.9L1593 432.2L1593.5 429L1594 431.7L1594.5 428.1L1595 432.5L1595.5 428.1L1596 432.5L1596.5 428.2L1597 431.7L1597.5 428.2L1598 431.9L1598.5 428.1L1599 431.9L1599.5 428.7L1600 433.1L1600.5 429L1601 432.9L1601.5 428.7L1602 432.4L1602.5 429.6L1603 432.3L1603.5 428.5L1604 431.8L1604.5 428.5L1605 431.6L1605.5 427.4L1606 431.8L1606.5 428L1607 431.6L1607.5 428.7L1608 431.7L1608.5 429.2L1609 434.4L1609.5 428.5L1610 432L1610.5 428.5L1611 432L1611.5 428.7L1612 432.2L1612.5 429.1L1613 432.5L1613.5 429.2L1614 432.1L1614.5 427.7L1615 432.7L1615.5 428.8L1616 432.4L1616.5 428.5L1617 431.7L1617.5 428.7L1618 432.6L1618.5 428.2L1619 432.2L1619.5 429.4L1620 432.4L1620.5 429.3L1621 432.1L1621.5 429L1622 432.1L1622.5 429L1623 431.9L1623.5 428.9L1624 432.6L1624.5 428.7L1625 432.2L1625.5 429L1626 431.9L1626.5 428.6L1627 433.1L1627.5 428.4L1628 432.9L1628.5 429.7L1629 432.9L1629.5 428.5L1630 433.3L1630.5 429.2L1631 432.5L1631.5 428.8L1632 432.5L1632.5 428.7L1633 432.3L1633.5 428.5L1634 431.7L1634.5 427.4L1635 432.8L1635.5 429L1636 432.2L1636.5 428.6L1637 432.2L1637.5 428.9L1638 432.4L1638.5 429.3L1639 433.2L1639.5 429.1L1640 432.3L1640.5 428.9L1641 433.2L1641.5 429.3L1642 432.2L1642.5 428.9L1643 432.8L1643.5 428.9L1644 432.8L1644.5 429.1L1645 432.8L1645.5 428.3L1646 432.4L1646.5 428.9L1647 432.2L1647.5 428.9L1648 431.7L1648.5 428.7L1649 432.3L1649.5 429L1650 431.7L1650.5 429.3L1651 431.9L1651.5 429.3L1652 432.2L1652.5 428.7L1653 432L1653.5 429.1L1654 432.9L1654.5 429.3L1655 432.2L1655.5 429.5L1656 433.9L1656.5 429.2L1657 432.2L1657.5 429.4L1658 432.1L1658.5 429.3L1659 432.2L1659.5 428.7L1660 432.9L1660.5 429.4L1661 432L1661.5 429.1L1662 432.7L1662.5 429L1663 431.9L1663.5 428.7L1664 433.3L1664.5 429.1L1665 432.1L1665.5 428.7L1666 432L1666.5 429.2L1667 432.3L1667.5 429.4L1668 432.4L1668.5 428.6L1669 431.8L1669.5 426.6L1670 432.1L1670.5 429L1671 432.6L1671.5 428.9L1672 431.7L1672.5 428.8L1673 432.4L1673.5 427.6L1674 432.5L1674.5 429L1675 432.1L1675.5 428.4L1676 433.1L1676.5 428.8L1677 432L1677.5 428.6L1678 433L1678.5 429.4L1679 432.1L1679.5 429.4L1680 432.2L1680.5 429.1L1681 433.4L1681.5 429.8L1682 433.2L1682.5 429.5L1683 433.5L1683.5 429.6L1684 433.5L1684.5 429.3L1685 431.9L1685.5 428.8L1686 432.1L1686.5 428.9L1687 432.7L1687.5 429.2L1688 432.3L1688.5 429.1L1689 432.4L1689.5 428.8L1690 432.3L1690.5 429.4L1691 432L1691.5 429.6L1692 432.1L1692.5 429.6L1693 432.1L1693.5 429.4L1694 431.8L1694.5 429.1L1695 432.2L1695.5 429.3L1696 431.4L1696.5 417L1697 430.8L1697.5 428.5L1698 431.9L1698.5 429L1699 432L1699.5 429.1L1700 431.8L1700.5 429.6L1701 432.6L1701.5 429L1702 432.6L1702.5 429.6L1703 433L1703.5 429.2L1704 432.8L1704.5 429.1L1705 432.7L1705.5 429.3L1706 432.6L1706.5 428.7L1707 432.5L1707.5 428.8L1708 432.6L1708.5 429.1L1709 432.9L1709.5 429.1L1710 432L1710.5 429.1L1711 432.6L1711.5 428.5L1712 432.2L1712.5 428.6L1713 432.1L1713.5 428.2L1714 432.2L1714.5 428.1L1715 431.7L1715.5 429.1L1716 431.9L1716.5 429.2L1717 432.2L1717.5 429.2L1718 432.8L1718.5 429.4L1719 432L1719.5 429.5L1720 433.3L1720.5 429.4L1721 432.2L1721.5 429.3L1722 432L1722.5 429.1L1723 432.3L1723.5 426.8L1724 431.8L1724.5 428.9L1725 432L1725.5 428.3L1726 432.8L1726.5 428.7L1727 432.9L1727.5 429L1728 432.1L1728.5 429.1L1729 432.3L1729.5 429.4L1730 431.9L1730.5 429.5L1731 433.3L1731.5 428.7L1732 432.3L1732.5 429.4L1733 433.1L1733.5 428.7L1734 432.3L1734.5 429.7L1735 432.2L1735.5 429.3L1736 433.5L1736.5 428.8L1737 432.2L1737.5 428.4L1738 432.8L1738.5 428.1L1739 433L1739.5 429.3L1740 432.3L1740.5 429L1741 433L1741.5 427.8L1742 432.9L1742.5 429.5L1743 432.9L1743.5 429.4L1744 432.5L1744.5 429.2L1745 432.3L1745.5 429L1746 432.3L1746.5 428.2L1747 433.5L1747.5 428.9L1748 432.8L1748.5 429L1749 433.4L1749.5 428.9L1750 432.1L1750.5 427.1L1751 432.5L1751.5 428.9L1752 432.6L1752.5 429L1753 432.5L1753.5 428.7L1754 432.1L1754.5 428.7L1755 433.1L1755.5 428.7L1756 432.3L1756.5 429.2L1757 432.3L1757.5 429.4L1758 432.1L1758.5 429.2L1759 433.3L1759.5 429.6L1760 432.7L1760.5 429.1L1761 431.6L1761.5 427.7L1762 431.8L1762.5 429L1763 432.1L1763.5 428.6L1764 432.2L1764.5 429L1765 431.8L1765.5 429L1766 432.3L1766.5 429.3L1767 432.1L1767.5 428.6L1768 433.2L1768.5 428.6L1769 432.8L1769.5 429.1L1770 432.2L1770.5 428.6L1771 432.2L1771.5 429.1L1772 432.7L1772.5 429.2L1773 433.8L1773.5 429.1L1774 432.9L1774.5 429.3L1775 433.3L1775.5 429.2L1776 431.7L1776.5 428.2L1777 431.6L1777.5 428.5L1778 431.7L1778.5 429L1779 431.9L1779.5 429.1L1780 431.7L1780.5 428.2L1781 432L1781.5 429.2L1782 432.3L1782.5 429.2L1783 432.3L1783.5 429.4L1784 432.1L1784.5 429.2L1785 432.1L1785.5 429.8L1786 433.2L1786.5 428.4L1787 432.4L1787.5 429.4L1788 433.7L1788.5 429.8L1789 432L1789.5 428.6L1790 431.7L1790.5 429.7L1791 431.9L1791.5 429.8L1792 432.3L1792.5 428.9L1793 432.4L1793.5 429.3L1794 433.7L1794.5 429.4L1795 432.7L1795.5 429.1L1796 432.4L1796.5 429.1L1797 432L1797.5 428.8L1798 431.5L1798.5 429.1L1799 432.1L1799.5 429.3L1800 432.5L1800.5 428L1801 432.3L1801.5 429.3L1802 433.2L1802.5 428.7L1803 432.8L1803.5 429.4L1804 433L1804.5 430.1L1805 432.7L1805.5 430.2L1806 432.8L1806.5 429.8L1807 433.2L1807.5 429.4L1808 432.2L1808.5 429L1809 432.7L1809.5 428.8L1810 433.2L1810.5 428.7L1811 432.8L1811.5 428.4L1812 433.5L1812.5 429L1813 433L1813.5 428.9L1814 432.7L1814.5 429L1815 432.2L1815.5 429.1L1816 432.2L1816.5 429.3L1817 432.7L1817.5 429.7L1818 432.4L1818.5 428.6L1819 432.2L1819.5 429L1820 432.2L1820.5 428.2L1821 432.3L1821.5 427.9L1822 431.9L1822.5 428.9L1823 432.2L1823.5 428.2L1824 432.6L1824.5 428.5L1825 431.8L1825.5 429.3L1826 432.6L1826.5 429L1827 432.2L1827.5 429.3L1828 432L1828.5 429L1829 431.7L1829.5 429.1L1830 432L1830.5 429.1L1831 432.2L1831.5 428.9L1832 431.9L1832.5 429.3L1833 432L1833.5 429.3L1834 432L1834.5 429.2L1835 432.4L1835.5 428.2L1836 432.2L1836.5 429.1L1837 432L1837.5 429.2L1838 432L1838.5 429L1839 432.1L1839.5 429.4L1840 432.5L1840.5 429L1841 432.5L1841.5 429.5L1842 432.6L1842.5 429.5L1843 432.4L1843.5 429.6L1844 432.9L1844.5 429.2L1845 432.2L1845.5 429.3L1846 432.2L1846.5 428.7L1847 432.2L1847.5 428.6L1848 432.2L1848.5 428.7L1849 432L1849.5 427.8L1850 432L1850.5 429.1L1851 431.9L1851.5 429.5L1852 432.1L1852.5 429.1L1853 433.2L1853.5 429.3L1854 433.6L1854.5 429.2L1855 432.5L1855.5 429L1856 433.7L1856.5 429L1857 431.9L1857.5 429.2L1858 433L1858.5 428.3L1859 431.6L1859.5 429.2L1860 431.5L1860.5 428.9L1861 432L1861.5 428.5L1862 432.2L1862.5 429.2L1863 432L1863.5 428.3L1864 432.4L1864.5 428.9L1865 431.8L1865.5 429.4L1866 431.9L1866.5 429.1L1867 432.4L1867.5 428.8L1868 433.3L1868.5 428.9L1869 432.9L1869.5 429.3L1870 433.2L1870.5 429.4L1871 432.9L1871.5 430L1872 432.9L1872.5 429.6L1873 432.5L1873.5 429.5L1874 433.1L1874.5 429.9L1875 432.5L1875.5 430L1876 432.4L1876.5 429.1L1877 431.7L1877.5 428.7L1878 431.7L1878.5 429.1L1879 431.6L1879.5 428.5L1880 432.2L1880.5 428.8L1881 432.1L1881.5 428L1882 432.3L1882.5 428.4L1883 432.7L1883.5 429.4L1884 432.7L1884.5 428.6L1885 432.6L1885.5 428.3L1886 432.2L1886.5 428.2L1887 432.9L1887.5 428.8L1888 432.4L1888.5 429.5L1889 432.2L1889.5 428.8L1890 432.7L1890.5 428.7L1891 432.1L1891.5 428.5L1892 432.6L1892.5 428.3L1893 432L1893.5 428.6L1894 431.6L1894.5 429L1895 432.7L1895.5 429.6L1896 432.6L1896.5 429.6L1897 432.7L1897.5 429.6L1898 432.9L1898.5 429.6L1899 432.9L1899.5 429.1L1900 432.4L1900.5 429.3L1901 433L1901.5 428.2L1902 432.7L1902.5 427.1L1903 432.7L1903.5 428.8L1904 432.5L1904.5 428.4L1905 432.2L1905.5 429.2L1906 432.1L1906.5 428.6L1907 433.3L1907.5 428.9L1908 431.4L1908.5 428.1L1909 431.6L1909.5 428.8L1910 431.7L1910.5 428.5L1911 431.6L1911.5 429.2L1912 433.1L1912.5 429.3L1913 432.5L1913.5 429.6L1914 432.6L1914.5 428.5L1915 433.2L1915.5 429.5L1916 432.8L1916.5 429.4L1917 432.8L1917.5 429.1L1918 432.2L1918.5 429.3L1919 432.4L1919.5 429L1920 432.2L1920.5 429.4L1921 432.2L1921.5 428.8L1922 431.8L1922.5 429.3L1923 432.7L1923.5 429.3L1924 432.2L1924.5 429.1L1925 432.7L1925.5 429.2L1926 432.9L1926.5 429L1927 432.3L1927.5 429.2L1928 432.5L1928.5 429.3L1929 432.6L1929.5 429.2L1930 432.3L1930.5 429.5L1931 432.6L1931.5 429.5L1932 431.9L1932.5 429.5L1933 431.6L1933.5 428.8L1934 431.5L1934.5 428.5L1935 431.6L1935.5 429L1936 432.2L1936.5 428.8L1937 431.9L1937.5 428.3L1938 432.4L1938.5 428L1939 431.8L1939.5 428.1L1940 431.8L1940.5 428.2" stroke="#d62728"/>
<path d="M100.5 483.7L101 488.5L101.5 483.6L102 488.5L102.5 485.2L103 488.8L103.5 485.7L104 489L104.5 485.2L105 489.3L105.5 484.4L106 490.1L106.5 484L107 490.7L107.5 485L108 489.9L108.5 485.2L109 489.3L109.5 484.8L110 489.3L110.5 484.6L111 489.7L111.5 485.9L112 489.4L112.5 485.7L113 489.4L113.5 485.6L114 490.5L114.5 485.6L115 489.4L115.5 485.7L116 489.4L116.5 485.7L117 489.8L117.5 485L118 489.6L118.5 484.7L119 490.1L119.5 484.4L120 490.6L120.5 485.3L121 490.4L121.5 485.2L122 490.2L122.5 485.6L123 490.4L123.5 486.1L124 490.7L124.5 485L125 489.9L125.5 485.4L126 490.4L126.5 485.8L127 490.4L127.5 485.8L128 489.9L128.5 484.7L129 490.5L129.5 486L130 490.8L130.5 485.4L131 490.6L131.5 483.6L132 489.7L132.5 484.9L133 489.4L133.5 484.6L134 489.8L134.5 484.9L135 489L135.5 484.3L136 490.2L136.5 484.7L137 489L137.5 482.7L138 488.8L138.5 485.1L139 489.4L139.5 485.3L140 490.4L140.5 484.5L141 489.2L141.5 485.3L142 491.3L142.5 484.6L143 492.7L143.5 485.2L144 489.4L144.5 484L145 490.6L145.5 484.7L146 489.8L146.5 484.7L147 490.1L147.5 485.1L148 489.2L148.5 483.7L149 489.4L149.5 484.8L150 490L150.5 485.4L151 489.3L151.5 485.5L152 489.2L152.5 485L153 489.5L153.5 485.7L154 491.8L154.5 485.6L155 489.7L155.5 486.1L156 490.9L156.5 486.1L157 491.1L157.5 485.9L158 489.7L158.5 486.2L159 490.5L159.5 485.6L160 491.2L160.5 484.5L161 489.8L161.5 481.5L162 490.7L162.5 485.4L163 489.3L163.5 485.9L164 490.9L164.5 485.9L165 491.3L165.5 486.3L166 489.7L166.5 486.2L167 490.1L167.5 485L168 489.8L168.5 484.6L169 489.7L169.5 485.5L170 488.7L170.5 485.1L171 489.1L171.5 485.1L172 489L172.5 484.7L173 488.6L173.5 484.6L174 489.1L174.5 485.3L175 489.3L175.5 485.4L176 489.3L176.5 484.8L177 489.3L177.5 484.4L178 490.5L178.5 485.3L179 490.1L179.5 483.1L180 489.6L180.5 485.2L181 490L181.5 484.9L182 491.5L182.5 484.4L183 489.6L183.5 485.5L184 489.4L184.5 484.8L185 491.8L185.5 483.8L186 489.1L186.5 483.8L187 490.5L187.5 482.3L188 490.7L188.5 483.3L189 490.9L189.5 485L190 489.4L190.5 485L191 489.9L191.5 485.8L192 489.9L192.5 484.6L193 489.6L193.5 485.5L194 491.5L194.5 485.3L195 490.6L195.5 484.7L196 492.3L196.5 486.1L197 490.7L197.5 485.2L198 491.5L198.5 485L199 489.9L199.5 484.4L200 489L200.5 483.8L201 488.9L201.5 484.8L202 488.7L202.5 484.9L203 488.8L203.5 484.8L204 488.6L204.5 484.4L205 488.4L205.5 484.8L206 490.1L206.5 485.4L207 489.5L207.5 485L208 491.6L208.5 485.6L209 490L209.5 483.9L210 490.3L210.5 485.6L211 490.5L211.5 486.6L212 490.4L212.5 485.7L213 490.2L213.5 485.9L214 489.9L214.5 484.9L215 489.6L215.5 485.3L216 489.2L216.5 484.9L217 490L217.5 485.2L218 489.9L218.5 484.7L219 490.5L219.5 485.5L220 489.4L220.5 484.9L221 488.9L221.5 484.4L222 489.6L222.5 485.5L223 489.5L223.5 484.3L224 488.8L224.5 484.2L225 488.8L225.5 484.9L226 491.2L226.5 484.4L227 489.5L227.5 484.6L228 489.4L228.5 484.8L229 488.7L229.5 482.9L230 489.1L230.5 484.8L231 489.8L231.5 484.6L232 490L232.5 485L233 488.8L233.5 483.9L234 488.9L234.5 484.6L235 488.7L235.5 484.7L236 489.5L236.5 484.1L237 489.2L237.5 484.6L238 489.9L238.5 485.2L239 489.4L239.5 485.2L240 489.6L240.5 484.3L241 489.2L241.5 485.4L242 488.9L242.5 485L243 489.5L243.5 484.8L244 489.1L244.5 485.2L245 489.2L245.5 485.2L246 489.1L246.5 484L247 489.6L247.5 485.4L248 490.3L248.5 483.2L249 489.4L249.5 483.3L250 489.6L250.5 484.6L251 489.2L251.5 484.4L252 488.6L252.5 484.5L253 488.6L253.5 485.2L254 488.7L254.5 484.5L255 488.7L255.5 485.3L256 489.1L256.5 484.6L257 490.3L257.5 485.1L258 489.4L258.5 485L259 489.8L259.5 485.6L260 490.6L260.5 485.4L261 489.5L261.5 485.6L262 490.1L262.5 485L263 490.7L263.5 484.9L264 489.7L264.5 483.4L265 490.2L265.5 485.8L266 490.5L266.5 485.7L267 489.7L267.5 486L268 490.8L268.5 485.1L269 490.3L269.5 484.7L270 489.6L270.5 485.9L271 491.5L271.5 485.2L272 490.5L272.5 486L273 490.1L273.5 484.9L274 490.1L274.5 485.1L275 490.9L275.5 484.2L276 489.3L276.5 482.9L277 488.8L277.5 484.2L278 489.4L278.5 483.5L279 489.2L279.5 483.5L280 489.3L280.5 483.8L281 488.6L281.5 480.6L282 487.7L282.5 483L283 487.7L283.5 483.6L284 487.7L284.5 483.8L285 488.6L285.5 484.3L286 489.1L286.5 484.4L287 488.3L287.5 483.7L288 488.7L288.5 484.8L289 489.6L289.5 483.9L290 489.3L290.5 485.9L291 490.5L291.5 485.5L292 491.1L292.5 485.7L293 489.6L293.5 486.3L294 490.6L294.5 486.5L295 491.4L295.5 484.1L296 489.6L296.5 486.4L297 490L297.5 485.4L298 490.6L298.5 485.8L299 491.9L299.5 485L300 489.7L300.5 483.8L301 491L301.5 483.8L302 490.3L302.5 484.8L303 490.7L303.5 485.3L304 490.4L304.5 485.5L305 489.7L305.5 484.4L306 490.1L306.5 482.9L307 491.7L307.5 484.1L308 489.6L308.5 485.3L309 489.9L309.5 485.5L310 489.8L310.5 486.1L311 489.6L311.5 485.3L312 489.5L312.5 485.8L313 489.3L313.5 485.5L314 489.4L314.5 485.6L315 489.2L315.5 484.7L316 489.8L316.5 485.2L317 489.9L317.5 484.8L318 491L318.5 485.2L319 489.1L319.5 485.1L320 489.3L320.5 485.2L321 489.8L321.5 484.4L322 489.4L322.5 486L323 489.8L323.5 486.2L324 489.3L324.5 486.2L325 490.5L325.5 485.6L326 489.3L326.5 483.5L327 490.6L327.5 484.6L328 489.8L328.5 485.2L329 489.6L329.5 482.6L330 490.7L330.5 484.2L331 490.5L331.5 483.8L332 490.5L332.5 484.2L333 489L333.5 484.6L334 489.3L334.5 484.7L335 488.9L335.5 484.4L336 488.8L336.5 484.4L337 489.1L337.5 482.6L338 490.5L338.5 483.6L339 489L339.5 484L340 488.6L340.5 484.5L341 488.9L341.5 484.9L342 490.2L342.5 484.9L343 491L343.5 484.4L344 489.3L344.5 485.1L345 489.6L345.5 484.8L346 490L346.5 485.3L347 490.1L347.5 484.9L348 489.5L348.5 484.6L349 490L349.5 485.3L350 489.3L350.5 485L351 489.2L351.5 485.9L352 489.3L352.5 485.7L353 490.1L353.5 485.8L354 490.7L354.5 485.8L355 489.7L355.5 485.1L356 489.7L356.5 485.8L357 488.8L357.5 485.3L358 490.9L358.5 485.5L359 490L359.5 484.9L360 489.4L360.5 485.1L361 489.7L361.5 485L362 488.9L362.5 485L363 489.3L363.5 485.4L364 490.5L364.5 485.9L365 489.8L365.5 485.8L366 489.4L366.5 485L367 489.4L367.5 483.6L368 489.9L368.5 484.3L369 490L369.5 485.2L370 490.1L370.5 484.9L371 490.1L371.5 486.4L372 491.6L372.5 486.1L373 491.6L373.5 485.5L374 490.5L374.5 484.4L375 490.2L375.5 484.4L376 490.9L376.5 484.8L377 489L377.5 483.7L378 488.7L378.5 483.4L379 489.5L379.5 484.6L380 490.5L380.5 484.4L381 490L381.5 484.9L382 489.6L382.5 485.3L383 489.3L383.5 485.7L384 489.3L384.5 485.7L385 489.5L385.5 485L386 489.5L386.5 484.7L387 490.1L387.5 485.9L388 490L388.5 485.1L389 490.5L389.5 486L390 491.1L390.5 485.9L391 491.4L391.5 485L392 489.4L392.5 485.1L393 489.1L393.5 484.9L394 490L394.5 485.2L395 489.7L395.5 484.9L396 490.1L396.5 485.2L397 489.2L397.5 484.9L398 490.6L398.5 484.3L399 488.6L399.5 484.4L400 490.5L400.5 484.9L401 489.4L401.5 484.7L402 489.4L402.5 483.8L403 489.4L403.5 484.4L404 489.4L404.5 484.3L405 490.3L405.5 484.5L406 489.2L406.5 485.2L407 491.1L407.5 485.3L408 488.9L408.5 485.4L409 489.5L409.5 485.2L410 489.5L410.5 485.7L411 490.1L411.5 485.4L412 490.2L412.5 484.7L413 489.8L413.5 483.5L414 488.3L414.5 482.6L415 488.7L415.5 484L416 489.4L416.5 485.5L417 490.7L417.5 485.8L418 491.2L418.5 485.4L419 489.6L419.5 484.8L420 489.4L420.5 484.6L421 490L421.5 485.4L422 491L422.5 484.9L423 489.8L423.5 484L424 489.8L424.5 485.4L425 489.5L425.5 484.3L426 489.4L426.5 484.5L427 489.2L427.5 484.7L428 489.5L428.5 485.1L429 489.2L429.5 484.5L430 489.5L430.5 483.9L431 489L431.5 484.3L432 488.2L432.5 484.6L433 488.1L433.5 484.8L434 489.2L434.5 483.6L435 489.2L435.5 485L436 490.3L436.5 484.7L437 489.5L437.5 486.1L438 489.6L438.5 483.9L439 490.5L439.5 484L440 489.3L440.5 484.2L441 489L441.5 484.9L442 489.4L442.5 484.9L443 489.6L443.5 485.2L444 491.1L444.5 484.9L445 490.2L445.5 485.9L446 490.3L446.5 485.7L447 489.6L447.5 484.9L448 491.1L448.5 483.1L449 490.9L449.5 485L450 490.6L450.5 484.6L451 489.2L451.5 483.5L452 489.4L452.5 484.9L453 488.6L453.5 483.1L454 489.3L454.5 485.1L455 489.8L455.5 484.3L456 489.6L456.5 483.9L457 489.9L457.5 485.6L458 490.4L458.5 484.9L459 489.9L459.5 484.8L460 491L460.5 482.4L461 490.6L461.5 484.4L462 489.7L462.5 486.2L463 489.5L463.5 483.3L464 490L464.5 485.3L465 489.5L465.5 485.9L466 490.6L466.5 485.5L467 489.5L467.5 486.1L468 490.7L468.5 486L469 490.1L469.5 486.3L470 490.9L470.5 486.5L471 490.6L471.5 486.1L472 490.1L472.5 483.7L473 489.1L473.5 484.8L474 489.2L474.5 483.6L475 489.6L475.5 484.9L476 489.9L476.5 483.8L477 491.5L477.5 483.7L478 489.8L478.5 485.7L479 490.1L479.5 485.3L480 490.6L480.5 484.2L481 490L481.5 485.7L482 489.9L482.5 485.7L483 490.1L483.5 484.7L484 489.7L484.5 484.4L485 489.9L485.5 486.1L486 490.7L486.5 486.1L487 490.7L487.5 486.4L488 491L488.5 486.2L489 490.9L489.5 485.2L490 491.4L490.5 483.2L491 490.8L491.5 484.8L492 490.1L492.5 485.1L493 489.9L493.5 483.9L494 490.2L494.5 485.8L495 490.7L495.5 485L496 490.3L496.5 485.7L497 490L497.5 485.1L498 490L498.5 485L499 490.3L499.5 485.8L500 488.9L500.5 485.5L501 488.8L501.5 485.1L502 488.8L502.5 485.2L503 489.2L503.5 485.7L504 490L504.5 484.6L505 489.9L505.5 485.7L506 490.5L506.5 486.8L507 490.3L507.5 485L508 490.4L508.5 486.2L509 490.4L509.5 486.1L510 490.1L510.5 485.2L511 490.5L511.5 485.9L512 491.6L512.5 484.9L513 490.2L513.5 485.1L514 489.9L514.5 484.8L515 490.7L515.5 485.6L516 491.3L516.5 485L517 489.4L517.5 485.6L518 490.1L518.5 484.7L519 489.7L519.5 484.9L520 490.5L520.5 484.8L521 489.4L521.5 483.7L522 490.4L522.5 483.7L523 489.5L523.5 484.2L524 488.7L524.5 484.1L525 488.4L525.5 483.8L526 487.9L526.5 484.5L527 488.4L527.5 484.6L528 488.7L528.5 483.9L529 490.1L529.5 482.1L530 490.2L530.5 484.2L531 490L531.5 483.6L532 490.6L532.5 485.3L533 489.7L533.5 486.5L534 490.5L534.5 484.9L535 490.5L535.5 484.7L536 490.8L536.5 485.6L537 490.2L537.5 483L538 489.6L538.5 485.2L539 489.6L539.5 484.8L540 489.5L540.5 484L541 489.3L541.5 484.2L542 489.2L542.5 484.4L543 490.2L543.5 485L544 489.4L544.5 484.5L545 490.3L545.5 484.8L546 489L546.5 484L547 489L547.5 484.6L548 488.4L548.5 484.6L549 489.2L549.5 484.3L550 489L550.5 485.1L551 489L551.5 484.7L552 491.7L552.5 484.9L553 489.3L553.5 484.7L554 489.4L554.5 483.8L555 489.8L555.5 481.7L556 489.1L556.5 484.5L557 489.4L557.5 481.1L558 489.8L558.5 484.9L559 488.8L559.5 483.5L560 489.6L560.5 484.3L561 489L561.5 484.8L562 488.5L562.5 484.8L563 489L563.5 483.5L564 488.5L564.5 484.6L565 489.5L565.5 484L566 489.1L566.5 484.6L567 488.9L567.5 484.2L568 488.9L568.5 483.9L569 489.2L569.5 484.1L570 489.2L570.5 484.8L571 490.9L571.5 483.8L572 489L572.5 484.5L573 489.6L573.5 485.3L574 489.3L574.5 485.4L575 488.9L575.5 485.5L576 489.6L576.5 485.3L577 488.8L577.5 485.3L578 489L578.5 485.3L579 489.4L579.5 483.6L580 490.5L580.5 481.6L581 489.5L581.5 485.3L582 490.2L582.5 483.8L583 490.2L583.5 485.1L584 490.4L584.5 482.8L585 490.8L585.5 485.5L586 489.9L586.5 485.5L587 490.8L587.5 485.4L588 489.8L588.5 485.9L589 490L589.5 484.2L590 489.6L590.5 483.8L591 489.5L591.5 485.7L592 490.6L592.5 484.5L593 491.1L593.5 485.9L594 490.3L594.5 485.6L595 489.1L595.5 484.6L596 489.2L596.5 484.5L597 488.9L597.5 483.8L598 488.4L598.5 483.2L599 488.4L599.5 484.3L600 489.1L600.5 484.4L601 488.7L601.5 484.6L602 488.8L602.5 485L603 488.8L603.5 485.3L604 490.4L604.5 485.8L605 489L605.5 484.2L606 489.2L606.5 485.1L607 488.9L607.5 485.2L608 490.1L608.5 484.7L609 488.8L609.5 484.4L610 488.8L610.5 485.4L611 490.1L611.5 485.8L612 491.4L612.5 484.6L613 489.7L613.5 484.9L614 489L614.5 484.2L615 492.5L615.5 484.5L616 488.8L616.5 484.1L617 488.7L617.5 484.9L618 490.4L618.5 484.8L619 488.7L619.5 484.5L620 490L620.5 484.4L621 488.5L621.5 483.1L622 488.4L622.5 485L623 488.6L623.5 483.9L624 489L624.5 485.5L625 489L625.5 485.5L626 489.3L626.5 486L627 489.4L627.5 486.1L628 490L628.5 485L629 488.9L629.5 484.9L630 488.8L630.5 484.5L631 489.3L631.5 485.3L632 491.3L632.5 485.9L633 490.1L633.5 484.8L634 489.8L634.5 484.9L635 490L635.5 485L636 490.4L636.5 485.3L637 489.1L637.5 485.2L638 490.1L638.5 484.2L639 489.6L639.5 484.3L640 491.9L640.5 484.6L641 489.1L641.5 485.3L642 489.9L642.5 483.4L643 490.2L643.5 484.3L644 489.8L644.5 484.4L645 489.2L645.5 484.8L646 489.8L646.5 484.4L647 489.2L647.5 485L648 489.2L648.5 484.2L649 489.4L649.5 484.3L650 489.9L650.5 484.9L651 491.8L651.5 484.1L652 490.7L652.5 485.1L653 490.2L653.5 484.6L654 489.8L654.5 485.7L655 492.4L655.5 485.6L656 491L656.5 485.4L657 490L657.5 485.1L658 490.7L658.5 485.1L659 490L659.5 482.9L660 489.6L660.5 484.4L661 489.2L661.5 484.8L662 490.1L662.5 485L663 489.2L663.5 484.6L664 491.9L664.5 483.6L665 490L665.5 485.1L666 489.4L666.5 484.7L667 489.1L667.5 484.3L668 489L668.5 485L669 488.9L669.5 485.5L670 488.4L670.5 484.7L671 490.5L671.5 484.5L672 488.4L672.5 485.2L673 489.2L673.5 484L674 489.6L674.5 485.4L675 489.5L675.5 485.3L676 490.1L676.5 483.8L677 490.4L677.5 486L678 489.9L678.5 485.9L679 491.8L679.5 485.6L680 490.4L680.5 486.3L681 490.4L681.5 485.1L682 490.2L682.5 486.5L683 490.9L683.5 485.9L684 490.1L684.5 485.5L685 489.9L685.5 485.5L686 490.6L686.5 485.7L687 489.4L687.5 485.2L688 489.1L688.5 485L689 490L689.5 484.6L690 489.6L690.5 485.4L691 489.2L691.5 484.6L692 489.4L692.5 485.7L693 489.8L693.5 484.8L694 489.6L694.5 484.8L695 490.3L695.5 485L696 489.9L696.5 485.1L697 489.2L697.5 484.9L698 489.2L698.5 483.7L699 488.3L699.5 484.1L700 489.9L700.5 484.6L701 489.6L701.5 485.5L702 489.8L702.5 485.5L703 489.4L703.5 485.8L704 489.6L704.5 484.9L705 489.7L705.5 485.7L706 490.3L706.5 485.5L707 490.2L707.5 485.3L708 489L708.5 484.9L709 489.6L709.5 484.2L710 489.8L710.5 485.4L711 489.4L711.5 485.3L712 489.1L712.5 483.4L713 489.5L713.5 485.2L714 488.9L714.5 484.5L715 488.9L715.5 484.7L716 489.4L716.5 485.1L717 489L717.5 485.1L718 490.8L718.5 485.8L719 489.9L719.5 486L720 489.7L720.5 486L721 492.3L721.5 484.3L722 490.3L722.5 484.3L723 489.9L723.5 484.7L724 488.8L724.5 484.8L725 488.7L725.5 484.1L726 489.9L726.5 484.6L727 488.5L727.5 484.1L728 488.3L728.5 484.9L729 489L729.5 485.3L730 488.5L730.5 484.9L731 489.7L731.5 485.6L732 489.8L732.5 486.1L733 489.5L733.5 486.1L734 490L734.5 484.4L735 490.4L735.5 484.7L736 490.2L736.5 485.8L737 490.8L737.5 485.6L738 490L738.5 485.3L739 489.7L739.5 484.7L740 489.1L740.5 484.3L741 488.9L741.5 484.7L742 489L742.5 485.5L743 489.5L743.5 485.4L744 489.4L744.5 485.5L745 490.7L745.5 485.7L746 490.9L746.5 485.1L747 489.9L747.5 485.3L748 489.8L748.5 486.2L749 491.4L749.5 486L750 489.3L750.5 486.1L751 490.4L751.5 486.1L752 490.5L752.5 485.6L753 491.5L753.5 484L754 492.2L754.5 486.3L755 491.2L755.5 486.3L756 491.6L756.5 485.8L757 490.8L757.5 485.9L758 490.7L758.5 485.9L759 491.4L759.5 485L760 489.3L760.5 484.9L761 489.6L761.5 483.7L762 488.6L762.5 485L763 488.4L763.5 485L764 488.4L764.5 483.4L765 488.5L765.5 483.7L766 488.7L766.5 485L767 488.6L767.5 485L768 488.7L768.5 484.1L769 488.7L769.5 484L770 490L770.5 483.6L771 489.1L771.5 485.1L772 489.6L772.5 485.1L773 489.7L773.5 484.6L774 490.9L774.5 484.1L775 490.6L775.5 485L776 490L776.5 484.9L777 490.3L777.5 484.7L778 489.5L778.5 483.8L779 492.6L779.5 485.1L780 489L780.5 485.4L781 489.4L781.5 485.1L782 489.1L782.5 485.9L783 490.3L783.5 484.8L784 489.8L784.5 486.2L785 489.6L785.5 484.9L786 489.2L786.5 485.6L787 490L787.5 485.7L788 490.7L788.5 485.6L789 491.2L789.5 485.7L790 492.6L790.5 485.2L791 493.3L791.5 485.5L792 490.8L792.5 485.3L793 490.1L793.5 485.3L794 489.8L794.5 485.4L795 489.5L795.5 485.6L796 490.2L796.5 485.7L797 491.1L797.5 485.1L798 489.9L798.5 485.4L799 490.8L799.5 485.9L800 490.1L800.5 483.9L801 490.3L801.5 485.5L802 490.6L802.5 485.3L803 489.8L803.5 485.1L804 490.1L804.5 485.1L805 491.7L805.5 485.6L806 489.7L806.5 484.8L807 491.7L807.5 484.4L808 489.9L808.5 485.1L809 489.7L809.5 484.7L810 490.1L810.5 485.5L811 488.9L811.5 485.2L812 491.2L812.5 483.7L813 489.3L813.5 485.5L814 491.1L814.5 484.8L815 490.7L815.5 483.8L816 489.5L816.5 485.4L817 489.3L817.5 484.5L818 489.3L818.5 484.7L819 489.7L819.5 484.3L820 488.5L820.5 482.8L821 489.3L821.5 485.2L822 488.8L822.5 484.2L823 490.2L823.5 485.4L824 489L824.5 485.2L825 489.6L825.5 485.5L826 489.2L826.5 485.4L827 489.4L827.5 485.7L828 489.8L828.5 486.2L829 490.4L829.5 486.5L830 490.8L830.5 486.4L831 491L831.5 486L832 490.2L832.5 485.3L833 490.1L833.5 485.3L834 490.1L834.5 485.2L835 491.4L835.5 484.1L836 489.7L836.5 484.9L837 489.5L837.5 484.7L838 489.3L838.5 485L839 491.2L839.5 484.8L840 488.8L840.5 484.5L841 488.7L841.5 485.3L842 488.8L842.5 485.1L843 489.6L843.5 484.4L844 489.1L844.5 483.9L845 489.5L845.5 484.2L846 491.4L846.5 485.5L847 490L847.5 485.1L848 490.6L848.5 485.5L849 490L849.5 485.7L850 489.7L850.5 485.2L851 489.4L851.5 485.4L852 490.8L852.5 485.4L853 491.7L853.5 485.3L854 490.4L854.5 484.1L855 490.1L855.5 485.2L856 491.3L856.5 484.8L857 489.5L857.5 484.2L858 490.5L858.5 485L859 490.4L859.5 484L860 489.7L860.5 484.6L861 489.3L861.5 485.2L862 489.7L862.5 484.5L863 489.5L863.5 484.8L864 489.3L864.5 485.5L865 491L865.5 485.6L866 490.4L866.5 485.1L867 491.3L867.5 484L868 489.2L868.5 483.9L869 489.9L869.5 484.3L870 489.4L870.5 483.9L871 493L871.5 483.7L872 490L872.5 484.9L873 491.3L873.5 484.1L874 489.7L874.5 484.6L875 491.7L875.5 485.4L876 490.1L876.5 485.5L877 489.5L877.5 484.4L878 489.3L878.5 484.8L879 490.9L879.5 485.4L880 489.5L880.5 483.9L881 490.9L881.5 484.8L882 490.1L882.5 484.9L883 490.2L883.5 485.1L884 489.6L884.5 486.2L885 489.9L885.5 486.2L886 491.5L886.5 486.2L887 491.2L887.5 483.3L888 491.7L888.5 485.2L889 489.9L889.5 485.1L890 490.8L890.5 483.8L891 491.4L891.5 484.8L892 491L892.5 485.8L893 489.6L893.5 485.5L894 489.3L894.5 485.6L895 489.8L895.5 484.8L896 489.1L896.5 485.4L897 489.6L897.5 484.3L898 490L898.5 484.8L899 490L899.5 483.1L900 489.8L900.5 485.5L901 491.4L901.5 483.6L902 490L902.5 485.1L903 491.2L903.5 482.6L904 490.6L904.5 485.1L905 490.1L905.5 484.5L906 489.1L906.5 484.7L907 489.9L907.5 485.2L908 489.6L908.5 484.8L909 489.1L909.5 485.2L910 490.8L910.5 485.7L911 490.8L911.5 484.4L912 488.7L912.5 485.2L913 488.7L913.5 484.6L914 489.7L914.5 484.7L915 488.5L915.5 483.4L916 490.5L916.5 484.6L917 488.9L917.5 485.4L918 489.5L918.5 485.8L919 491.1L919.5 486.4L920 490.8L920.5 485.7L921 489.9L921.5 485.1L922 490.1L922.5 485.3L923 489.1L923.5 483L924 489L924.5 486L925 489.2L925.5 485.7L926 489.5L926.5 485.3L927 489.1L927.5 485.9L928 490.7L928.5 485.3L929 489.4L929.5 485.3L930 489.4L930.5 485.3L931 490.3L931.5 483.8L932 489.2L932.5 483.8L933 490.2L933.5 483.7L934 489.4L934.5 484.1L935 490.3L935.5 485.6L936 489.4L936.5 485.5L937 489.7L937.5 485.1L938 489.7L938.5 485.7L939 490.5L939.5 486.2L940 490.4L940.5 486.5L941 490.5L941.5 486.3L942 490.3L942.5 486.1L943 489.7L943.5 485.1L944 489.1L944.5 484.2L945 489.2L945.5 483.9L946 490.3L946.5 484L947 492L947.5 483.7L948 489.9L948.5 485L949 489.5L949.5 484.2L950 490L950.5 483L951 489.1L951.5 484.9L952 490.5L952.5 485.2L953 489.9L953.5 484.4L954 489.3L954.5 483.9L955 490.5L955.5 484.4L956 489L956.5 484.6L957 489.3L957.5 484.3L958 490.6L958.5 484.4L959 491.4L959.5 485L960 490.2L960.5 485.5L961 491.1L961.5 486L962 490.7L962.5 485.2L963 490.1L963.5 485.9L964 490.4L964.5 485.4L965 489.5L965.5 485.5L966 489.7L966.5 484.5L967 489.4L967.5 485.7L968 489.3L968.5 485.3L969 490.8L969.5 485.4L970 489.1L970.5 485.5L971 489.2L971.5 485.6L972 489.4L972.5 485.5L973 489.7L973.5 485.8L974 489.7L974.5 485.6L975 490.1L975.5 486L976 491.3L976.5 485.2L977 489.2L977.5 485.4L978 491.2L978.5 485.3L979 489.8L979.5 484.1L980 490.1L980.5 484.5L981 489.4L981.5 484.2L982 489.4L982.5 485.3L983 489.8L983.5 485.4L984 491.7L984.5 483.3L985 489.3L985.5 485L986 490.7L986.5 485.5L987 490L987.5 484.1L988 490.8L988.5 485.6L989 489.2L989.5 483.8L990 490L990.5 485.2L991 488.5L991.5 484.6L992 490.5L992.5 485.4L993 490.3L993.5 484.5L994 489.1L994.5 484.5L995 490L995.5 482L996 489.7L996.5 484.4L997 489.1L997.5 484.4L998 490L998.5 484.6L999 489L999.5 485.3L1000 489.2L1000.5 485.5L1001 489.7L1001.5 484.8L1002 488.9L1002.5 484.7L1003 489.9L1003.5 484.5L1004 489.9L1004.5 485.4L1005 490.1L1005.5 485.1L1006 492.2L1006.5 484.9L1007 490.4L1007.5 484.5L1008 490.3L1008.5 484L1009 491.5L1009.5 484.4L1010 490.4L1010.5 486.1L1011 489.9L1011.5 486.1L1012 489L1012.5 485.5L1013 489.2L1013.5 485.5L1014 489.6L1014.5 485L1015 490L1015.5 484.8L1016 488.8L1016.5 485.1L1017 489.6L1017.5 485L1018 489.3L1018.5 484L1019 489.5L1019.5 485L1020 489.5L1020.5 484.1L1021 493L1021.5 483.7L1022 488.8L1022.5 474.5L1023 486.7L1023.5 484L1024 490.9L1024.5 484.1L1025 490.6L1025.5 483.4L1026 490.5L1026.5 485.5L1027 490.1L1027.5 485.1L1028 489.7L1028.5 485L1029 490.4L1029.5 485.3L1030 490.6L1030.5 484.7L1031 490.3L1031.5 484.1L1032 490.1L1032.5 484.8L1033 490.1L1033.5 484.3L1034 490.6L1034.5 485.1L1035 491L1035.5 482.2L1036 489.7L1036.5 485.2L1037 490.7L1037.5 483.9L1038 489.6L1038.5 483.8L1039 490L1039.5 484.5L1040 490.1L1040.5 485.2L1041 490.3L1041.5 485.2L1042 490.1L1042.5 484.5L1043 490.2L1043.5 484.8L1044 489.6L1044.5 484.9L1045 489.5L1045.5 485L1046 490.5L1046.5 485.9L1047 491.2L1047.5 485.5L1048 491L1048.5 484.9L1049 490.1L1049.5 485L1050 490.8L1050.5 485L1051 489.9L1051.5 485.8L1052 490.1L1052.5 486L1053 490L1053.5 484.7L1054 490.5L1054.5 485.3L1055 489.6L1055.5 486.4L1056 490.7L1056.5 486.3L1057 489.9L1057.5 484.7L1058 490.3L1058.5 485.1L1059 489.4L1059.5 483L1060 491.5L1060.5 483.7L1061 489.3L1061.5 483.5L1062 489.9L1062.5 485.4L1063 490.5L1063.5 485.9L1064 489.1L1064.5 485.7L1065 489L1065.5 485.8L1066 489.1L1066.5 485.2L1067 489.6L1067.5 485.2L1068 488.9L1068.5 484.4L1069 488.9L1069.5 485.8L1070 489.9L1070.5 485.6L1071 489.9L1071.5 486.1L1072 489.5L1072.5 484.8L1073 490.8L1073.5 485.1L1074 491L1074.5 485.7L1075 489.6L1075.5 485.3L1076 490.1L1076.5 485.1L1077 490.7L1077.5 484.7L1078 489.5L1078.5 484.1L1079 488.6L1079.5 484.1L1080 488.9L1080.5 483.9L1081 489.6L1081.5 484.2L1082 489.1L1082.5 484.8L1083 488.9L1083.5 485.1L1084 489.2L1084.5 485.4L1085 489.5L1085.5 485.3L1086 489.9L1086.5 484.4L1087 489.5L1087.5 485.2L1088 490.3L1088.5 485.3L1089 489.5L1089.5 484.8L1090 490.6L1090.5 485.5L1091 490.8L1091.5 485.3L1092 490.4L1092.5 486L1093 490.2L1093.5 485.6L1094 490.6L1094.5 484.8L1095 489.9L1095.5 484.4L1096 489.7L1096.5 485.2L1097 490L1097.5 484L1098 489.9L1098.5 484.4L1099 490.4L1099.5 484.9L1100 490.3L1100.5 485.5L1101 489.7L1101.5 484.6L1102 489.7L1102.5 484.7L1103 490.5L1103.5 485.5L1104 488.9L1104.5 485.4L1105 488.9L1105.5 485.4L1106 489.3L1106.5 484.1L1107 489.2L1107.5 485.6L1108 489.1L1108.5 483.3L1109 488.7L1109.5 485.5L1110 489.4L1110.5 485L1111 489.5L1111.5 485.8L1112 489.4L1112.5 485.7L1113 489.1L1113.5 485.6L1114 489.4L1114.5 485.4L1115 489.8L1115.5 485.6L1116 492.7L1116.5 485.4L1117 490.2L1117.5 484.6L1118 489.9L1118.5 486L1119 489.9L1119.5 482.7L1120 489.9L1120.5 483.7L1121 489.7L1121.5 484.7L1122 490.9L1122.5 484.7L1123 490.3L1123.5 483L1124 489.7L1124.5 484.9L1125 489.4L1125.5 483.4L1126 490.7L1126.5 485.1L1127 491.1L1127.5 483.4L1128 490L1128.5 485.7L1129 491.5L1129.5 485.5L1130 489.6L1130.5 485L1131 491.3L1131.5 486.1L1132 492.4L1132.5 485L1133 490.4L1133.5 485.2L1134 490.9L1134.5 485.6L1135 489.4L1135.5 484.1L1136 489.6L1136.5 485.1L1137 489.9L1137.5 485.6L1138 490.6L1138.5 483.5L1139 490.2L1139.5 484.4L1140 491.4L1140.5 484.8L1141 491.5L1141.5 485.1L1142 490.3L1142.5 485.2L1143 489.6L1143.5 485.9L1144 490.1L1144.5 486.4L1145 491.7L1145.5 485.9L1146 489.5L1146.5 484.7L1147 490.2L1147.5 485L1148 489.2L1148.5 485.4L1149 489.2L1149.5 485.1L1150 491.9L1150.5 485.3L1151 489.9L1151.5 485.4L1152 489.7L1152.5 485.4L1153 489.9L1153.5 485L1154 490.6L1154.5 485.1L1155 489.6L1155.5 483.8L1156 489.2L1156.5 485.4L1157 489.6L1157.5 486L1158 489.2L1158.5 485.4L1159 489.8L1159.5 485L1160 489.9L1160.5 485.5L1161 489.9L1161.5 485.7L1162 491.4L1162.5 485.4L1163 490.4L1163.5 485.5L1164 489.9L1164.5 485.6L1165 492.3L1165.5 485.1L1166 491.2L1166.5 485L1167 490.3L1167.5 484.1L1168 490.9L1168.5 484.2L1169 490.2L1169.5 485.1L1170 490.2L1170.5 485.3L1171 489.7L1171.5 482.6L1172 490.3L1172.5 484.2L1173 489.3L1173.5 484.8L1174 489.3L1174.5 485.2L1175 489L1175.5 484.3L1176 489.4L1176.5 483.7L1177 489.6L1177.5 483.7L1178 489.8L1178.5 484.8L1179 489.2L1179.5 484.5L1180 490.2L1180.5 485.5L1181 489.4L1181.5 485.5L1182 489.1L1182.5 484.6L1183 491.7L1183.5 485.1L1184 489.2L1184.5 484.5L1185 490.2L1185.5 485L1186 490.7L1186.5 485L1187 490.2L1187.5 483.4L1188 489.6L1188.5 482.3L1189 488.7L1189.5 484.2L1190 489.4L1190.5 484.6L1191 488.9L1191.5 484.3L1192 488.6L1192.5 483.7L1193 492.5L1193.5 483.5L1194 489.7L1194.5 484.7L1195 489.3L1195.5 485.5L1196 489.4L1196.5 484.3L1197 490L1197.5 484.1L1198 490.8L1198.5 485L1199 490.1L1199.5 485.7L1200 491.1L1200.5 485.6L1201 490.4L1201.5 485.2L1202 490L1202.5 484.4L1203 490.2L1203.5 484.7L1204 489.7L1204.5 485.4L1205 489.7L1205.5 484.6L1206 489.8L1206.5 485.1L1207 490.8L1207.5 484.9L1208 490.2L1208.5 485.1L1209 490.1L1209.5 484L1210 490.1L1210.5 485.4L1211 490.5L1211.5 485.5L1212 491.2L1212.5 486.1L1213 489.6L1213.5 485.5L1214 489.3L1214.5 485.6L1215 490.2L1215.5 485.9L1216 489.9L1216.5 485.3L1217 490.4L1217.5 485.5L1218 489.4L1218.5 485.5L1219 489.5L1219.5 485.4L1220 488.6L1220.5 484.6L1221 488.6L1221.5 483.8L1222 489.5L1222.5 485.1L1223 489.2L1223.5 484.3L1224 491.3L1224.5 484.8L1225 489.9L1225.5 484.9L1226 490.3L1226.5 484.9L1227 489.7L1227.5 485.2L1228 489.8L1228.5 484.2L1229 490.6L1229.5 485.5L1230 492.6L1230.5 484.7L1231 489.8L1231.5 483.8L1232 489.5L1232.5 484.5L1233 488.8L1233.5 485L1234 489.6L1234.5 485L1235 490.7L1235.5 485.3L1236 490.2L1236.5 485.9L1237 491L1237.5 486.1L1238 490.2L1238.5 486.3L1239 490.7L1239.5 485.7L1240 490.4L1240.5 481.7L1241 489.8L1241.5 485L1242 489.1L1242.5 485L1243 488.8L1243.5 485.2L1244 489.2L1244.5 485.3L1245 489L1245.5 484.1L1246 489.8L1246.5 485.3L1247 490.8L1247.5 484.8L1248 489.3L1248.5 484.3L1249 488.4L1249.5 483.2L1250 488.3L1250.5 483.6L1251 488L1251.5 485L1252 489.2L1252.5 485.3L1253 488.6L1253.5 484.9L1254 490.4L1254.5 485.4L1255 489.5L1255.5 485.5L1256 489L1256.5 485.4L1257 489.4L1257.5 484.8L1258 489.4L1258.5 484.6L1259 489.4L1259.5 485.6L1260 489.4L1260.5 485.1L1261 490.1L1261.5 484.4L1262 489L1262.5 484.6L1263 489.8L1263.5 484.7L1264 488.7L1264.5 485.1L1265 488.8L1265.5 483.9L1266 489.2L1266.5 484.9L1267 491L1267.5 485.6L1268 491.1L1268.5 486.8L1269 491.3L1269.5 487L1270 491.6L1270.5 486.7L1271 490.9L1271.5 487L1272 490.3L1272.5 485.8L1273 490.7L1273.5 486.4L1274 490.4L1274.5 485.1L1275 489.4L1275.5 485.9L1276 490.9L1276.5 485.7L1277 490L1277.5 486L1278 489.3L1278.5 485.9L1279 489.6L1279.5 485.5L1280 490.2L1280.5 485.4L1281 488.8L1281.5 482.7L1282 488.7L1282.5 484.6L1283 489.2L1283.5 482.3L1284 488.5L1284.5 484.4L1285 488.2L1285.5 484.1L1286 488.3L1286.5 484.9L1287 488.6L1287.5 484.5L1288 489L1288.5 484.6L1289 489.4L1289.5 485.8L1290 490.8L1290.5 485.4L1291 489.9L1291.5 485.3L1292 489.4L1292.5 485.7L1293 490.5L1293.5 484.7L1294 492.4L1294.5 485L1295 489.6L1295.5 483.8L1296 489.6L1296.5 484.4L1297 489.4L1297.5 484L1298 489.6L1298.5 484.4L1299 489L1299.5 483.7L1300 490.3L1300.5 484.6L1301 489.7L1301.5 484.9L1302 490.5L1302.5 484.8L1303 488.9L1303.5 484.8L1304 488.4L1304.5 482.8L1305 488.5L1305.5 484.8L1306 488.7L1306.5 485.4L1307 488.9L1307.5 484.8L1308 488.9L1308.5 484.8L1309 488.5L1309.5 485L1310 488.6L1310.5 484.4L1311 488.9L1311.5 485L1312 490.1L1312.5 485.1L1313 489.1L1313.5 485L1314 489.3L1314.5 485.8L1315 489.8L1315.5 485.8L1316 489.9L1316.5 485.8L1317 489.8L1317.5 484.9L1318 490.1L1318.5 485L1319 489.1L1319.5 485L1320 488.8L1320.5 485L1321 489.5L1321.5 484.3L1322 489.7L1322.5 484.2L1323 490L1323.5 484.5L1324 488.6L1324.5 484.9L1325 489.4L1325.5 483.8L1326 489.6L1326.5 483.5L1327 489.1L1327.5 484.8L1328 490.3L1328.5 485.2L1329 489.1L1329.5 485.4L1330 489.4L1330.5 484.6L1331 489L1331.5 484.2L1332 490.2L1332.5 483.3L1333 490L1333.5 484.6L1334 490.2L1334.5 484.9L1335 490.2L1335.5 485.3L1336 489.9L1336.5 485.5L1337 489.7L1337.5 484.9L1338 490.5L1338.5 484.8L1339 489.7L1339.5 484.6L1340 490.7L1340.5 485.9L1341 489.7L1341.5 485.5L1342 490.3L1342.5 485.9L1343 489.3L1343.5 485L1344 489.3L1344.5 485L1345 490.3L1345.5 485L1346 489.2L1346.5 484.4L1347 489.8L1347.5 485L1348 489.5L1348.5 485.4L1349 489.4L1349.5 482.2L1350 489.1L1350.5 481.1L1351 488.6L1351.5 484.5L1352 489.1L1352.5 484.6L1353 488.1L1353.5 484.9L1354 489.9L1354.5 483.6L1355 488.9L1355.5 485L1356 489.8L1356.5 482L1357 489.6L1357.5 484.3L1358 489L1358.5 483.6L1359 490L1359.5 485.4L1360 489.6L1360.5 484.4L1361 489.7L1361.5 484.8L1362 489.5L1362.5 483.9L1363 489.2L1363.5 484.7L1364 490.1L1364.5 485.3L1365 488.9L1365.5 485.5L1366 489.7L1366.5 484.1L1367 490.8L1367.5 486L1368 489.8L1368.5 484.4L1369 488.9L1369.5 485.2L1370 489.3L1370.5 485.4L1371 489.7L1371.5 485.5L1372 489.5L1372.5 485.5L1373 489.4L1373.5 485.5L1374 489.3L1374.5 484.1L1375 489.9L1375.5 484.9L1376 489.6L1376.5 485.3L1377 490.4L1377.5 485.3L1378 490.5L1378.5 485.3L1379 490.8L1379.5 484L1380 490.5L1380.5 485.6L1381 490L1381.5 486.3L1382 490.2L1382.5 486.7L1383 490.8L1383.5 486.4L1384 490.1L1384.5 486.9L1385 490.5L1385.5 486.8L1386 490.6L1386.5 485.3L1387 490.8L1387.5 487L1388 491L1388.5 487.1L1389 490.2L1389.5 486.2L1390 489.5L1390.5 486.2L1391 489.5L1391.5 484.7L1392 489.2L1392.5 484.4L1393 489L1393.5 485.2L1394 489.4L1394.5 485L1395 490.2L1395.5 483.9L1396 488.8L1396.5 485.2L1397 489.2L1397.5 482.8L1398 490.5L1398.5 484.8L1399 490L1399.5 485.6L1400 489.1L1400.5 484.7L1401 489.9L1401.5 485.8L1402 489.8L1402.5 486.1L1403 489.3L1403.5 485.7L1404 491.2L1404.5 485.9L1405 490.3L1405.5 485.2L1406 489.4L1406.5 485.4L1407 489.3L1407.5 484.3L1408 489.1L1408.5 485L1409 489.3L1409.5 485.5L1410 489L1410.5 485.3L1411 490.5L1411.5 484.2L1412 491.4L1412.5 483.7L1413 490.2L1413.5 484.5L1414 489.7L1414.5 485L1415 490.3L1415.5 484.9L1416 491.5L1416.5 485.8L1417 490.3L1417.5 485.4L1418 492L1418.5 484.6L1419 489.8L1419.5 484.6L1420 490.5L1420.5 484.5L1421 489.6L1421.5 484.4L1422 489.2L1422.5 484.9L1423 491L1423.5 485.5L1424 489.5L1424.5 484.6L1425 489.4L1425.5 484.9L1426 489.2L1426.5 485.1L1427 489.6L1427.5 484.3L1428 490L1428.5 485.3L1429 489.3L1429.5 484.8L1430 489.5L1430.5 484.2L1431 491.5L1431.5 482.7L1432 490.6L1432.5 485.1L1433 488.8L1433.5 484.4L1434 490.3L1434.5 485.2L1435 489.1L1435.5 483.8L1436 489.1L1436.5 484.9L1437 488.9L1437.5 483.7L1438 489.2L1438.5 485.4L1439 488.6L1439.5 485.2L1440 488.9L1440.5 485.2L1441 489.8L1441.5 485.6L1442 489.4L1442.5 484.1L1443 492.1L1443.5 486L1444 490L1444.5 485L1445 490.3L1445.5 485L1446 490.3L1446.5 484.6L1447 491.4L1447.5 484.6L1448 490.8L1448.5 484.8L1449 489.7L1449.5 486L1450 489.5L1450.5 485.5L1451 489.1L1451.5 484.8L1452 489.8L1452.5 485.1L1453 490.1L1453.5 485.4L1454 489.5L1454.5 486L1455 489.6L1455.5 484.2L1456 489.8L1456.5 484.3L1457 489.4L1457.5 484.2L1458 489.8L1458.5 484.3L1459 488.6L1459.5 483.3L1460 489.5L1460.5 483.7L1461 490L1461.5 484.9L1462 489.9L1462.5 485.1L1463 490.3L1463.5 484L1464 490.7L1464.5 485.7L1465 490.2L1465.5 484L1466 493.4L1466.5 486.3L1467 491L1467.5 486.4L1468 491L1468.5 485.2L1469 490.9L1469.5 485.9L1470 490.1L1470.5 485L1471 491.3L1471.5 485.6L1472 489.2L1472.5 485.5L1473 488.8L1473.5 485L1474 489.2L1474.5 483.5L1475 488.6L1475.5 485.2L1476 488.2L1476.5 484.8L1477 488.7L1477.5 485.7L1478 489.1L1478.5 484.6L1479 489.5L1479.5 485.8L1480 489.4L1480.5 485.5L1481 491.2L1481.5 485.2L1482 489.7L1482.5 484.3L1483 490.9L1483.5 485.1L1484 488.6L1484.5 485.3L1485 488.7L1485.5 484.8L1486 488.8L1486.5 484.6L1487 490.8L1487.5 485.2L1488 490.1L1488.5 485.3L1489 490L1489.5 485.3L1490 489.4L1490.5 485L1491 489.8L1491.5 485.3L1492 489.1L1492.5 484.1L1493 488.8L1493.5 485L1494 489.6L1494.5 484.3L1495 489.5L1495.5 485.3L1496 490.4L1496.5 485.9L1497 491.1L1497.5 485.5L1498 489.8L1498.5 485.7L1499 489.4L1499.5 485.5L1500 491.5L1500.5 484.9L1501 489L1501.5 484L1502 490.2L1502.5 484.8L1503 489.4L1503.5 483.5L1504 489.6L1504.5 483.9L1505 489L1505.5 484.5L1506 488.9L1506.5 484.8L1507 489L1507.5 484.9L1508 488.8L1508.5 484.2L1509 489.4L1509.5 484.5L1510 488.8L1510.5 484.8L1511 488.7L1511.5 484.1L1512 488.5L1512.5 483.9L1513 488.7L1513.5 483.7L1514 488.5L1514.5 483.7L1515 489.1L1515.5 485.5L1516 489L1516.5 484.4L1517 489.5L1517.5 484.9L1518 489.3L1518.5 485.4L1519 489.6L1519.5 485.7L1520 490.9L1520.5 484.9L1521 489.1L1521.5 485.1L1522 489.8L1522.5 485L1523 489.8L1523.5 485.2L1524 490.5L1524.5 485.1L1525 489.4L1525.5 483.9L1526 490.3L1526.5 485.2L1527 491.6L1527.5 483.1L1528 490L1528.5 485L1529 489.9L1529.5 485.1L1530 490.1L1530.5 484.9L1531 490.1L1531.5 484.1L1532 490.2L1532.5 485.8L1533 489.6L1533.5 483.4L1534 489.1L1534.5 484.8L1535 489.4L1535.5 485.4L1536 488.7L1536.5 484.8L1537 488.7L1537.5 484.6L1538 488.4L1538.5 484.2L1539 488.5L1539.5 483.8L1540 488.6L1540.5 484.4L1541 490.2L1541.5 484.6L1542 488.3L1542.5 484.1L1543 488.3L1543.5 484.2L1544 489L1544.5 484.8L1545 489L1545.5 483.8L1546 490L1546.5 485.4L1547 490.2L1547.5 485.2L1548 490.5L1548.5 485.8L1549 490.1L1549.5 484.7L1550 490.5L1550.5 484.9L1551 489.6L1551.5 485.3L1552 489.7L1552.5 484.3L1553 489.5L1553.5 485.1L1554 488.9L1554.5 485.6L1555 490.8L1555.5 485.8L1556 490.2L1556.5 485.5L1557 490L1557.5 485.9L1558 491.3L1558.5 485.6L1559 491.2L1559.5 485.2L1560 490.7L1560.5 485.1L1561 490.5L1561.5 485.3L1562 491.3L1562.5 485.8L1563 490.1L1563.5 484.4L1564 490.4L1564.5 485.9L1565 490.6L1565.5 485.5L1566 490.5L1566.5 485.2L1567 490.3L1567.5 485.6L1568 489.5L1568.5 484.9L1569 490L1569.5 485.2L1570 489.9L1570.5 486.5L1571 490.3L1571.5 485.3L1572 491.3L1572.5 483.3L1573 490.5L1573.5 484.5L1574 489.7L1574.5 484.5L1575 489.6L1575.5 484.3L1576 490L1576.5 485.3L1577 489.4L1577.5 484.9L1578 489.4L1578.5 485.4L1579 489.3L1579.5 485.1L1580 490.7L1580.5 485.3L1581 489.7L1581.5 485.2L1582 491.4L1582.5 485.6L1583 489.8L1583.5 485.6L1584 490.1L1584.5 485.9L1585 489.3L1585.5 484.8L1586 489.4L1586.5 484.1L1587 488.9L1587.5 484.2L1588 490.8L1588.5 483.7L1589 490.2L1589.5 485.8L1590 490L1590.5 485.1L1591 489.8L1591.5 486L1592 491.1L1592.5 484.5L1593 489.1L1593.5 485L1594 489.3L1594.5 484.7L1595 490L1595.5 483.5L1596 488.8L1596.5 484.4L1597 488.9L1597.5 483.7L1598 488.5L1598.5 483.8L1599 488.5L1599.5 484.8L1600 490.8L1600.5 484L1601 489.6L1601.5 485L1602 490L1602.5 485.3L1603 489.6L1603.5 485.7L1604 489.3L1604.5 486L1605 489.2L1605.5 485L1606 489.8L1606.5 485.4L1607 489.5L1607.5 485.7L1608 489.4L1608.5 485.6L1609 490.1L1609.5 486L1610 490.6L1610.5 485.7L1611 490.4L1611.5 485.9L1612 490.6L1612.5 486.1L1613 491L1613.5 484.9L1614 490.4L1614.5 485.1L1615 490.3L1615.5 485.3L1616 492.5L1616.5 486.2L1617 490.3L1617.5 485.9L1618 490.7L1618.5 486L1619 491.9L1619.5 484.8L1620 491L1620.5 483.5L1621 489.8L1621.5 483.5L1622 489.9L1622.5 484.7L1623 489.2L1623.5 483.8L1624 489L1624.5 484.7L1625 489.1L1625.5 484.6L1626 489.2L1626.5 485.2L1627 491.1L1627.5 484.9L1628 490.1L1628.5 485L1629 490L1629.5 485L1630 488.7L1630.5 484.8L1631 489.3L1631.5 484.1L1632 488.4L1632.5 484.8L1633 488.3L1633.5 483.4L1634 488.8L1634.5 484.4L1635 489.6L1635.5 484.8L1636 488.8L1636.5 485L1637 488.9L1637.5 485.2L1638 489.2L1638.5 485.7L1639 489.6L1639.5 485.3L1640 489.1L1640.5 485.5L1641 489.1L1641.5 484.1L1642 490L1642.5 483.3L1643 490.3L1643.5 484.9L1644 490.7L1644.5 484.9L1645 489.8L1645.5 485.1L1646 489.3L1646.5 483.6L1647 490L1647.5 483.7L1648 489.2L1648.5 483.7L1649 489.4L1649.5 484.2L1650 488.6L1650.5 483.2L1651 488.6L1651.5 485.4L1652 488.7L1652.5 485.6L1653 489L1653.5 485.6L1654 489.9L1654.5 485.8L1655 490L1655.5 485.6L1656 491.9L1656.5 485.6L1657 490.1L1657.5 486L1658 490.6L1658.5 485.2L1659 489.7L1659.5 485.4L1660 489.5L1660.5 484.7L1661 488.9L1661.5 484.3L1662 489.2L1662.5 485.1L1663 490.1L1663.5 485.9L1664 490.3L1664.5 486.1L1665 489.8L1665.5 485.9L1666 491.4L1666.5 485.8L1667 490.3L1667.5 486.2L1668 490.2L1668.5 486.3L1669 490.3L1669.5 486.2L1670 491L1670.5 486.6L1671 489.7L1671.5 486.2L1672 490.5L1672.5 484.3L1673 489L1673.5 485.1L1674 489.6L1674.5 484.5L1675 489.7L1675.5 484.6L1676 488.7L1676.5 484.7L1677 488.8L1677.5 483L1678 490.5L1678.5 483.8L1679 491.4L1679.5 485.7L1680 490.1L1680.5 485.9L1681 490.1L1681.5 484.8L1682 490.5L1682.5 483.5L1683 489.7L1683.5 484.4L1684 489.1L1684.5 484.5L1685 488.9L1685.5 484.2L1686 490L1686.5 485.1L1687 489.5L1687.5 483.8L1688 489.8L1688.5 483.9L1689 490.4L1689.5 485.8L1690 492.5L1690.5 486.2L1691 490.2L1691.5 485.1L1692 490L1692.5 485.1L1693 490L1693.5 484.8L1694 489.4L1694.5 485.1L1695 490.7L1695.5 484.5L1696 489.5L1696.5 481.7L1697 488.5L1697.5 485.1L1698 489.8L1698.5 485.8L1699 489.5L1699.5 485.1L1700 489.7L1700.5 484.9L1701 490.4L1701.5 485.1L1702 489.7L1702.5 484.8L1703 489L1703.5 484L1704 489.5L1704.5 484.9L1705 490.2L1705.5 484.2L1706 489.6L1706.5 484.4L1707 488.8L1707.5 485L1708 488.9L1708.5 485L1709 490.3L1709.5 484.8L1710 489.3L1710.5 485.4L1711 490.7L1711.5 485.4L1712 489L1712.5 484.8L1713 490.1L1713.5 482.4L1714 488.7L1714.5 483.7L1715 490.5L1715.5 483.8L1716 490.2L1716.5 484.6L1717 490.9L1717.5 485.3L1718 491.1L1718.5 484.9L1719 490.8L1719.5 485.1L1720 489.7L1720.5 484.8L1721 490.3L1721.5 484.7L1722 491.1L1722.5 484.8L1723 488.7L1723.5 483.9L1724 489.2L1724.5 484.3L1725 490.5L1725.5 485.2L1726 488.9L1726.5 484.5L1727 489L1727.5 485.1L1728 489L1728.5 483.8L1729 490.6L1729.5 483L1730 489.5L1730.5 484.3L1731 490.2L1731.5 484.1L1732 490.7L1732.5 485.5L1733 489.5L1733.5 485L1734 489.5L1734.5 485.9L1735 489.9L1735.5 485.8L1736 491.2L1736.5 486L1737 489.9L1737.5 486L1738 489.5L1738.5 485L1739 489.2L1739.5 483.6L1740 490.9L1740.5 485.6L1741 490.4L1741.5 483.9L1742 489.4L1742.5 485.8L1743 489.8L1743.5 485.6L1744 489.9L1744.5 484.4L1745 489.9L1745.5 485.9L1746 490.7L1746.5 485.6L1747 490.3L1747.5 482.6L1748 490.9L1748.5 483.8L1749 489.7L1749.5 483.7L1750 488.5L1750.5 484.1L1751 488.9L1751.5 482.8L1752 488.8L1752.5 484.9L1753 488.8L1753.5 484L1754 491L1754.5 484.6L1755 489.1L1755.5 485.7L1756 490.8L1756.5 486.3L1757 490L1757.5 485.2L1758 490.2L1758.5 484.6L1759 490.6L1759.5 484.6L1760 490.5L1760.5 485.8L1761 490L1761.5 485.2L1762 491.9L1762.5 482.8L1763 490.1L1763.5 483L1764 489L1764.5 483.7L1765 490L1765.5 484.7L1766 490.3L1766.5 484.7L1767 490L1767.5 485.9L1768 489.3L1768.5 486.4L1769 490.9L1769.5 485.8L1770 491.2L1770.5 485.9L1771 489.6L1771.5 484.7L1772 490L1772.5 484.4L1773 490.7L1773.5 485L1774 490.4L1774.5 485.8L1775 490.3L1775.5 485.7L1776 489.7L1776.5 485.6L1777 490.8L1777.5 483.6L1778 490.8L1778.5 484.5L1779 489.8L1779.5 485.3L1780 490.9L1780.5 485.3L1781 489.4L1781.5 485.2L1782 489.1L1782.5 485.1L1783 489.2L1783.5 485.5L1784 490.2L1784.5 485.3L1785 489.7L1785.5 485.2L1786 489.7L1786.5 485.1L1787 489.2L1787.5 485.2L1788 489.5L1788.5 484.9L1789 488.9L1789.5 485.2L1790 491.4L1790.5 484.8L1791 489.7L1791.5 485.1L1792 489.2L1792.5 485.1L1793 490.1L1793.5 484.3L1794 490L1794.5 485.5L1795 489L1795.5 484.7L1796 493L1796.5 484.9L1797 490.4L1797.5 484.6L1798 489.1L1798.5 483.3L1799 489.3L1799.5 484.6L1800 490.2L1800.5 485.5L1801 490.1L1801.5 482.9L1802 489.5L1802.5 485.3L1803 489.5L1803.5 484.7L1804 490L1804.5 486.1L1805 490.8L1805.5 486.4L1806 490.3L1806.5 485.1L1807 491.6L1807.5 486.1L1808 489.9L1808.5 484.5L1809 489.3L1809.5 484.9L1810 488.7L1810.5 485.2L1811 488.5L1811.5 485.1L1812 488.9L1812.5 485L1813 491L1813.5 484.8L1814 489.7L1814.5 485.1L1815 488.8L1815.5 485.1L1816 489.8L1816.5 485.1L1817 488.5L1817.5 484.9L1818 489.9L1818.5 485.2L1819 490L1819.5 485.6L1820 490L1820.5 485.8L1821 489.2L1821.5 486.1L1822 489L1822.5 486L1823 489L1823.5 484.5L1824 489.7L1824.5 485.7L1825 490.7L1825.5 484.4L1826 488.8L1826.5 484.5L1827 489.9L1827.5 485.5L1828 490L1828.5 485.2L1829 490.1L1829.5 485.1L1830 489.2L1830.5 484.7L1831 489.2L1831.5 485.1L1832 488.7L1832.5 485.8L1833 489.6L1833.5 485.3L1834 489.6L1834.5 485L1835 488.7L1835.5 485.5L1836 489.8L1836.5 485.6L1837 490.2L1837.5 484.8L1838 489.6L1838.5 484.7L1839 491.4L1839.5 485.7L1840 490.1L1840.5 484.4L1841 490.2L1841.5 485.8L1842 490.7L1842.5 486.6L1843 490.6L1843.5 485.6L1844 491.5L1844.5 487.2L1845 491.2L1845.5 487.2L1846 490.4L1846.5 485.9L1847 491.1L1847.5 486.8L1848 490.5L1848.5 486.2L1849 490.2L1849.5 485.6L1850 491.5L1850.5 486L1851 489.7L1851.5 485.1L1852 489.7L1852.5 483.8L1853 490.4L1853.5 484.5L1854 489.4L1854.5 481.4L1855 490.3L1855.5 482.8L1856 489.3L1856.5 485L1857 488.6L1857.5 483.9L1858 490.5L1858.5 484.8L1859 488.8L1859.5 484.6L1860 488.8L1860.5 484.8L1861 490L1861.5 484.7L1862 489L1862.5 484.8L1863 489.7L1863.5 485.7L1864 489.5L1864.5 485.1L1865 490.2L1865.5 484.9L1866 489.7L1866.5 485.4L1867 489.9L1867.5 486.1L1868 490.6L1868.5 485.9L1869 490L1869.5 485L1870 490.9L1870.5 485.9L1871 490.8L1871.5 485.4L1872 490.4L1872.5 485.8L1873 489.7L1873.5 485L1874 490L1874.5 486L1875 489.9L1875.5 485.6L1876 490L1876.5 483.7L1877 489.7L1877.5 485.4L1878 489.4L1878.5 485.7L1879 489.9L1879.5 485.9L1880 490.4L1880.5 485.6L1881 489.6L1881.5 483.4L1882 489.4L1882.5 484.3L1883 489.5L1883.5 483.5L1884 489.7L1884.5 485.5L1885 491.4L1885.5 485.7L1886 490.2L1886.5 482.5L1887 489.5L1887.5 485.4L1888 491.2L1888.5 486.3L1889 490.3L1889.5 485.4L1890 492.5L1890.5 486.2L1891 490.9L1891.5 486.1L1892 489.7L1892.5 484.7L1893 490.3L1893.5 485.5L1894 489.5L1894.5 484.3L1895 489.7L1895.5 484.3L1896 489.3L1896.5 483.4L1897 491.8L1897.5 484.6L1898 490.3L1898.5 484.7L1899 489.3L1899.5 484.9L1900 490.7L1900.5 483.8L1901 490L1901.5 485.2L1902 488.7L1902.5 484L1903 489.2L1903.5 483.8L1904 489.1L1904.5 485.7L1905 490.2L1905.5 485.2L1906 489.2L1906.5 485.7L1907 489.1L1907.5 485.6L1908 490.2L1908.5 485.7L1909 489.5L1909.5 485.4L1910 489.2L1910.5 485L1911 489.9L1911.5 484.4L1912 489.5L1912.5 484.9L1913 489.8L1913.5 484.4L1914 490.4L1914.5 485.7L1915 489.4L1915.5 485.2L1916 489.3L1916.5 485.8L1917 489.4L1917.5 486L1918 490.4L1918.5 485.7L1919 490.7L1919.5 484.3L1920 489.9L1920.5 485.5L1921 490.5L1921.5 483.5L1922 490.7L1922.5 484.5L1923 491L1923.5 485L1924 490.2L1924.5 485.7L1925 489.5L1925.5 485.8L1926 489.6L1926.5 484.8L1927 489.1L1927.5 484.9L1928 489.7L1928.5 484.4L1929 489.8L1929.5 484.8L1930 489.8L1930.5 485.4L1931 489.5L1931.5 485.1L1932 489.9L1932.5 484.1L1933 490.8L1933.5 484.5L1934 490L1934.5 484L1935 489.2L1935.5 485L1936 488.5L1936.5 483.7L1937 488.6L1937.5 484.1L1938 489.6L1938.5 483.3L1939 490.2L1939.5 484.6L1940 488.6L1940.5 484.5" stroke="#9467bd"/>
</g>
<path d="M100.5 528.50h11.1M1940.5 528.50h-11.1M100.5 399.50h11.1M1940.5 399.50h-11.1M100.5 269.50h11.1M1940.5 269.50h-11.1M100.5 140.50h11.1M1940.5 140.50h-11.1M100.5 557.50h8.0M1940.5 557.50h-8.0M100.5 548.50h8.0M1940.5 548.50h-8.0M100.5 541.50h8.0M1940.5 541.50h-8.0M100.5 534.50h8.0M1940.5 534.50h-8.0M100.5 489.50h8.0M1940.5 489.50h-8.0M100.5 466.50h8.0M1940.5 466.50h-8.0M100.5 450.50h8.0M1940.5 450.50h-8.0M100.5 438.50h8.0M1940.5 438.50h-8.0M100.5 427.50h8.0M1940.5 427.50h-8.0M100.5 419.50h8.0M1940.5 419.50h-8.0M100.5 411.50h8.0M1940.5 411.50h-8.0M100.5 405.50h8.0M1940.5 405.50h-8.0M100.5 360.50h8.0M1940.5 360.50h-8.0M100.5 337.50h8.0M1940.5 337.50h-8.0M100.5 321.50h8.0M1940.5 321.50h-8.0M100.5 308.50h8.0M1940.5 308.50h-8.0M100.5 298.50h8.0M1940.5 298.50h-8.0M100.5 289.50h8.0M1940.5 289.50h-8.0M100.5 282.50h8.0M1940.5 282.50h-8.0M100.5 275.50h8.0M1940.5 275.50h-8.0M100.5 230.50h8.0M1940.5 230.50h-8.0M100.5 208.50h8.0M1940.5 208.50h-8.0M100.5 191.50h8.0M1940.5 191.50h-8.0M100.5 179.50h8.0M1940.5 179.50h-8.0M100.5 169.50h8.0M1940.5 169.50h-8.0M100.5 160.50h8.0M1940.5 160.50h-8.0M100.5 152.50h8.0M1940.5 152.50h-8.0M100.5 146.50h8.0M1940.5 146.50h-8.0M100.5 101.50h8.0M1940.5 101.50h-8.0M100.5 78.50h8.0M1940.5 78.50h-8.0M100.5 62.50h8.0M1940.5 62.50h-8.0M100.5 49.50h8.0M1940.5 49.50h-8.0M100.5 39.50h8.0M1940.5 39.50h-8.0M100.50 561.5v-8.3M304.50 561.5v-8.3M509.50 561.5v-8.3M713.50 561.5v-8.3M918.50 561.5v-8.3M1122.50 561.5v-8.3M1327.50 561.5v-8.3M1531.50 561.5v-8.3M1736.50 561.5v-8.3M1940.50 561.5v-8.3" stroke="#000" stroke-width="1.1" fill="none"/>
<rect x="100.5" y="37.5" width="1840.0" height="524.0" fill="none" stroke="#000" stroke-width="1.1"/>
<g opacity="0.999" text-rendering="geometricPrecision">
<text x="70.03" y="581.80" font-size="22.60" textLength="59.15" lengthAdjust="spacingAndGlyphs">00:00</text>
<text x="65.08" y="604.80" font-size="22.60" textLength="68.42" lengthAdjust="spacingAndGlyphs">Apr 23</text>
<text x="274.47" y="581.80" font-size="22.60" textLength="59.15" lengthAdjust="spacingAndGlyphs">08:00</text>
<text x="478.95" y="581.80" font-size="22.60" textLength="59.11" lengthAdjust="spacingAndGlyphs">16:00</text>
<text x="683.36" y="581.80" font-size="22.60" textLength="59.15" lengthAdjust="spacingAndGlyphs">00:00</text>
<text x="678.41" y="604.80" font-size="22.60" textLength="68.60" lengthAdjust="spacingAndGlyphs">Apr 24</text>
<text x="887.81" y="581.80" font-size="22.60" textLength="59.15" lengthAdjust="spacingAndGlyphs">08:00</text>
<text x="1092.29" y="581.80" font-size="22.60" textLength="59.11" lengthAdjust="spacingAndGlyphs">16:00</text>
<text x="1296.70" y="581.80" font-size="22.60" textLength="59.15" lengthAdjust="spacingAndGlyphs">00:00</text>
<text x="1291.75" y="604.80" font-size="22.60" textLength="68.28" lengthAdjust="spacingAndGlyphs">Apr 25</text>
<text x="1501.14" y="581.80" font-size="22.60" textLength="59.15" lengthAdjust="spacingAndGlyphs">08:00</text>
<text x="1705.62" y="581.80" font-size="22.60" textLength="59.11" lengthAdjust="spacingAndGlyphs">16:00</text>
<text x="1910.03" y="581.80" font-size="22.60" textLength="59.15" lengthAdjust="spacingAndGlyphs">00:00</text>
<text x="1905.08" y="604.80" font-size="22.60" textLength="68.78" lengthAdjust="spacingAndGlyphs">Apr 26</text>
<text x="59.15" y="537.80" font-size="22.60" textLength="25.49" lengthAdjust="spacingAndGlyphs">10</text>
<text x="85.30" y="529.50" font-size="16.50" textLength="8.93" lengthAdjust="spacingAndGlyphs">0</text>
<text x="1946.03" y="537.80" font-size="22.60" textLength="25.49" lengthAdjust="spacingAndGlyphs">10</text>
<text x="1972.18" y="529.50" font-size="16.50" textLength="8.93" lengthAdjust="spacingAndGlyphs">0</text>
<text x="59.15" y="408.43" font-size="22.60" textLength="25.49" lengthAdjust="spacingAndGlyphs">10</text>
<text x="85.42" y="400.13" font-size="16.50" textLength="8.52" lengthAdjust="spacingAndGlyphs">1</text>
<text x="1946.03" y="408.43" font-size="22.60" textLength="25.49" lengthAdjust="spacingAndGlyphs">10</text>
<text x="1972.30" y="400.13" font-size="16.50" textLength="8.52" lengthAdjust="spacingAndGlyphs">1</text>
<text x="59.15" y="279.06" font-size="22.60" textLength="25.49" lengthAdjust="spacingAndGlyphs">10</text>
<text x="85.27" y="270.76" font-size="16.50" textLength="8.58" lengthAdjust="spacingAndGlyphs">2</text>
<text x="1946.03" y="279.06" font-size="22.60" textLength="25.49" lengthAdjust="spacingAndGlyphs">10</text>
<text x="1972.15" y="270.76" font-size="16.50" textLength="8.58" lengthAdjust="spacingAndGlyphs">2</text>
<text x="59.15" y="149.69" font-size="22.60" textLength="25.49" lengthAdjust="spacingAndGlyphs">10</text>
<text x="85.53" y="141.39" font-size="16.50" textLength="8.52" lengthAdjust="spacingAndGlyphs">3</text>
<text x="1946.03" y="149.69" font-size="22.60" textLength="25.49" lengthAdjust="spacingAndGlyphs">10</text>
<text x="1972.41" y="141.39" font-size="16.50" textLength="8.52" lengthAdjust="spacingAndGlyphs">3</text>
<text x="962.34" y="630.50" font-size="22.60" textLength="115.33" lengthAdjust="spacingAndGlyphs">Time (UTC)</text>
<text transform="translate(49.2 302.10) rotate(-90)" x="-36.32" y="0" font-size="22.60" textLength="72.49" lengthAdjust="spacingAndGlyphs">Counts</text>
<text x="959.20" y="29.20" font-size="18.09" textLength="122.76" lengthAdjust="spacingAndGlyphs">Stix QuickLook</text>
<text x="1597.51" y="549.80" font-size="16.58" textLength="318.51" lengthAdjust="spacingAndGlyphs">SolarMonitor.org : 29-Apr-2026 08:30 UTC</text>
<rect x="892.4" y="44.3" width="256.1" height="67.0" rx="2.8" ry="2.8" fill="#fff" fill-opacity="0.8" stroke="#ccc" stroke-opacity="0.8" stroke-width="1.39"/>
<path d="M896.2 55.70h29.6" stroke="#1f77b4" stroke-width="2.08" fill="none"/>
<text x="936.34" y="60.55" font-size="15.07" textLength="61.14" lengthAdjust="spacingAndGlyphs">4-10 keV</text>
<path d="M896.2 76.75h29.6" stroke="#ff7f0e" stroke-width="2.08" fill="none"/>
<text x="936.35" y="81.60" font-size="15.07" textLength="70.01" lengthAdjust="spacingAndGlyphs">10-15 keV</text>
<path d="M896.2 97.80h29.6" stroke="#2ca02c" stroke-width="2.08" fill="none"/>
<text x="936.35" y="102.65" font-size="15.07" textLength="70.01" lengthAdjust="spacingAndGlyphs">15-25 keV</text>
<path d="M1033.2 55.70h29.6" stroke="#d62728" stroke-width="2.08" fill="none"/>
<text x="1073.15" y="60.55" font-size="15.07" textLength="70.11" lengthAdjust="spacingAndGlyphs">25-50 keV</text>
<path d="M1033.2 76.75h29.6" stroke="#9467bd" stroke-width="2.08" fill="none"/>
<text x="1073.35" y="81.60" font-size="15.07" textLength="69.91" lengthAdjust="spacingAndGlyphs">50-84 keV</text>
</g>
</svg>
</body></html>
